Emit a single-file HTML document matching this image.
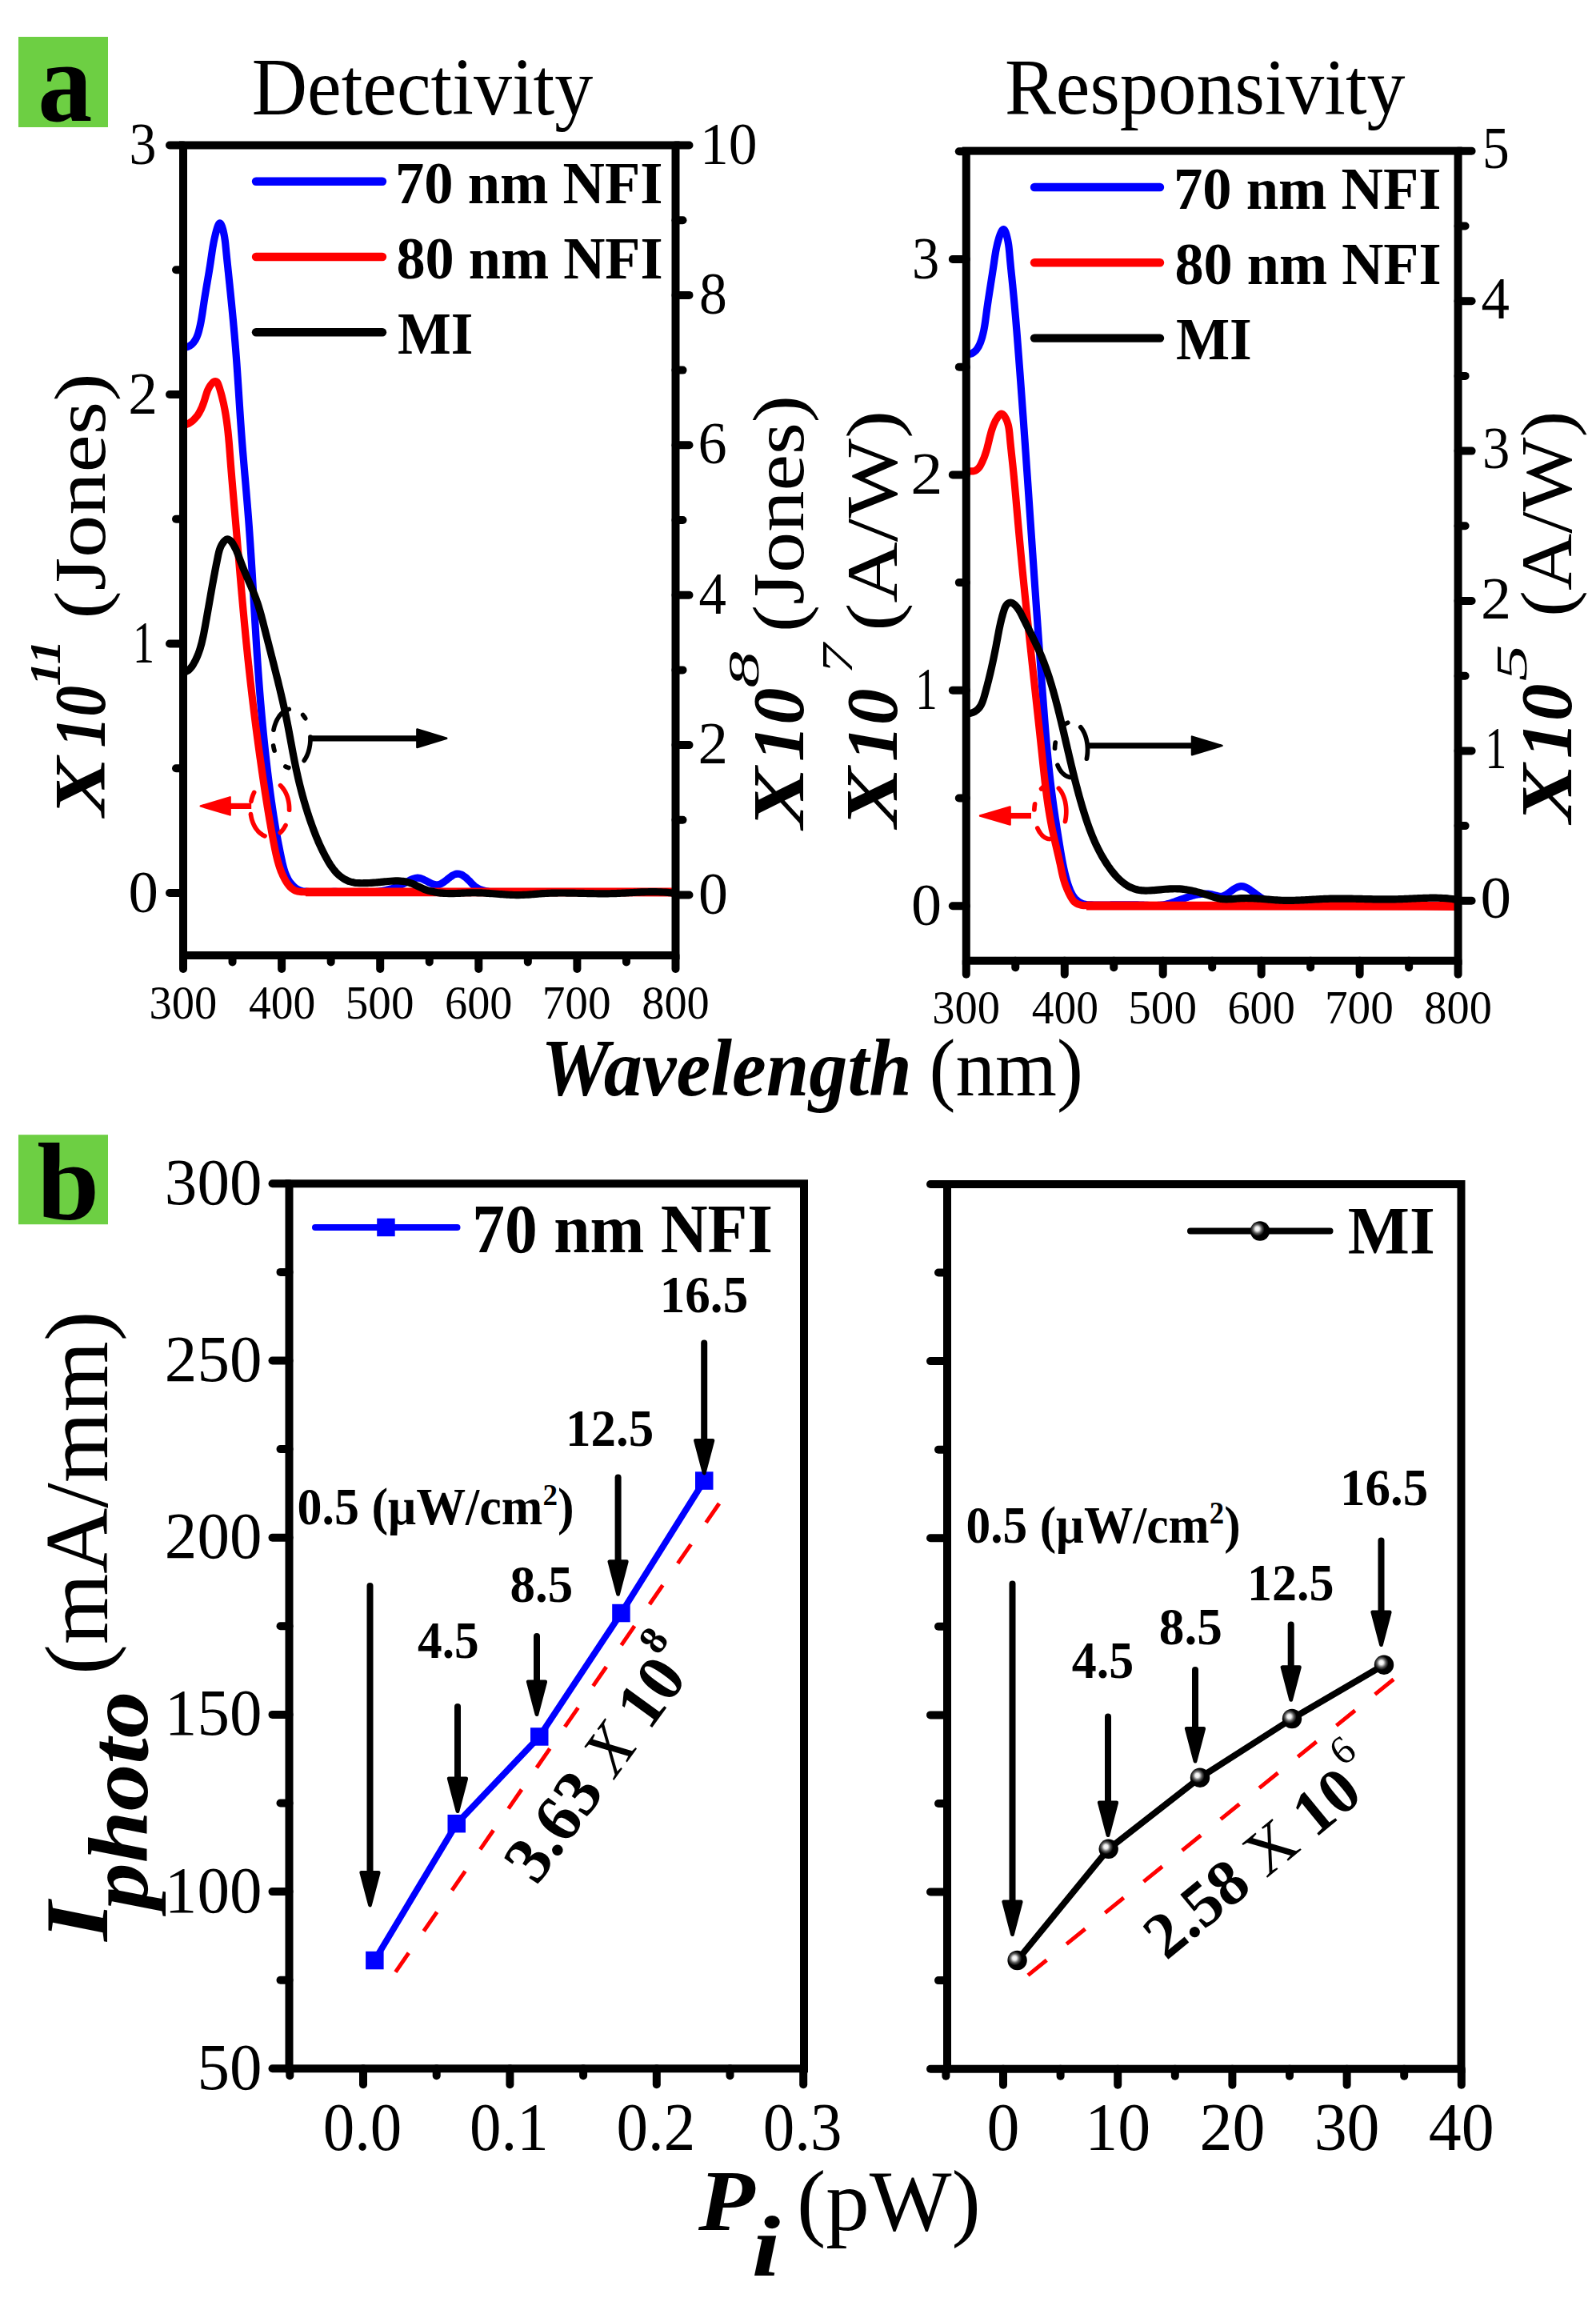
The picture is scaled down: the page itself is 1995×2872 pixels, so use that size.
<!DOCTYPE html>
<html lang="en"><head><meta charset="utf-8"><title>Detectivity and Responsivity</title>
<style>
html,body{margin:0;padding:0;background:#fff;}
body{width:1995px;height:2872px;overflow:hidden;font-family:"Liberation Serif","Times New Roman",serif;}
svg{display:block;}
</style></head><body>
<svg width="1995" height="2872" viewBox="0 0 1995 2872" font-family="'Liberation Serif', 'Times New Roman', serif">
<rect x="0" y="0" width="1995" height="2872" fill="#fff"/>
<defs>
<radialGradient id="ball" cx="0.37" cy="0.40" r="0.36" fx="0.36" fy="0.38">
<stop offset="0" stop-color="#ffffff"/><stop offset="0.3" stop-color="#ececec"/><stop offset="0.65" stop-color="#5a5a5a"/><stop offset="1" stop-color="#000000"/>
</radialGradient></defs>
<rect x="23" y="46" width="112" height="113" fill="#6dcf43"/>
<g transform="translate(51.40,150.80) rotate(0.00) scale(0.9463,1.0000) translate(-4.32,0)"><text x="0" y="0" fill="#000" xml:space="preserve"><tspan font-size="144.0" font-weight="bold">a</tspan></text></g>
<rect x="23" y="1418.2" width="112" height="112" fill="#6dcf43"/>
<g transform="translate(47.60,1524.00) rotate(0.00) scale(1.0159,1.0000) translate(-1.38,0)"><text x="0" y="0" fill="#000" xml:space="preserve"><tspan font-size="138.0" font-weight="bold">b</tspan></text></g>
<path d="M224.76 434.16 C225.36 434.21 227.24 434.42 228.39 434.42 C229.54 434.41 230.62 434.32 231.65 434.15 C232.68 433.97 233.64 433.72 234.55 433.39 C235.47 433.07 236.32 432.67 237.13 432.20 C237.93 431.74 238.68 431.21 239.39 430.63 C240.10 430.04 240.76 429.39 241.38 428.70 C242.01 428.01 242.58 427.26 243.12 426.48 C243.66 425.69 244.16 424.86 244.63 424.00 C245.10 423.13 245.53 422.23 245.94 421.31 C246.34 420.38 246.72 419.42 247.07 418.45 C247.42 417.48 247.74 416.48 248.04 415.48 C248.35 414.47 248.63 413.45 248.89 412.43 C249.16 411.40 249.41 410.37 249.64 409.35 C249.88 408.32 250.10 407.30 250.32 406.28 C250.53 405.27 250.73 404.26 250.93 403.25 C251.13 402.25 251.31 401.25 251.50 400.26 C251.68 399.27 251.85 398.28 252.02 397.29 C252.19 396.31 252.35 395.33 252.51 394.35 C252.66 393.37 252.82 392.39 252.97 391.42 C253.12 390.44 253.26 389.47 253.41 388.50 C253.56 387.52 253.70 386.55 253.84 385.58 C253.98 384.61 254.12 383.63 254.27 382.66 C254.41 381.68 254.55 380.71 254.70 379.73 C254.84 378.75 254.99 377.77 255.14 376.78 C255.29 375.80 255.45 374.81 255.60 373.82 C255.76 372.83 255.91 371.83 256.07 370.84 C256.23 369.84 256.40 368.84 256.56 367.84 C256.72 366.84 256.89 365.84 257.06 364.84 C257.22 363.84 257.39 362.83 257.56 361.83 C257.73 360.82 257.90 359.82 258.07 358.81 C258.24 357.80 258.41 356.80 258.58 355.79 C258.76 354.78 258.93 353.78 259.10 352.77 C259.27 351.77 259.44 350.76 259.61 349.76 C259.78 348.75 259.95 347.75 260.12 346.75 C260.29 345.75 260.46 344.75 260.63 343.75 C260.80 342.75 260.96 341.75 261.13 340.76 C261.29 339.77 261.46 338.77 261.62 337.79 C261.78 336.80 261.94 335.81 262.09 334.83 C262.25 333.85 262.40 332.87 262.56 331.89 C262.71 330.92 262.86 329.95 263.00 328.98 C263.15 328.01 263.29 327.05 263.43 326.09 C263.57 325.13 263.71 324.18 263.84 323.22 C263.98 322.27 264.12 321.32 264.25 320.37 C264.39 319.42 264.53 318.47 264.67 317.51 C264.81 316.56 264.95 315.61 265.09 314.65 C265.24 313.69 265.38 312.73 265.54 311.77 C265.69 310.80 265.85 309.83 266.01 308.85 C266.18 307.88 266.35 306.90 266.53 305.90 C266.71 304.91 266.89 303.91 267.09 302.90 C267.29 301.89 267.49 300.88 267.71 299.85 C267.93 298.82 268.15 297.77 268.40 296.72 C268.64 295.66 268.89 294.60 269.15 293.51 C269.42 292.43 269.70 291.33 270.00 290.22 C270.29 289.10 270.60 287.94 270.93 286.83 C271.25 285.72 271.60 284.54 271.95 283.54 C272.30 282.53 272.67 281.55 273.04 280.82 C273.41 280.10 273.79 279.48 274.18 279.20 C274.56 278.93 274.95 278.91 275.34 279.16 C275.72 279.40 276.11 279.97 276.49 280.67 C276.87 281.37 277.24 282.33 277.60 283.34 C277.95 284.35 278.30 285.56 278.62 286.74 C278.94 287.93 279.25 289.24 279.52 290.46 C279.80 291.68 280.05 292.92 280.27 294.08 C280.49 295.25 280.68 296.36 280.85 297.44 C281.02 298.53 281.17 299.56 281.31 300.59 C281.44 301.61 281.56 302.59 281.67 303.58 C281.78 304.56 281.88 305.51 281.97 306.47 C282.07 307.43 282.16 308.38 282.25 309.34 C282.35 310.30 282.44 311.25 282.54 312.22 C282.63 313.18 282.73 314.15 282.82 315.12 C282.92 316.09 283.02 317.07 283.12 318.05 C283.21 319.02 283.31 320.00 283.41 320.99 C283.52 321.97 283.62 322.96 283.72 323.94 C283.82 324.93 283.92 325.92 284.02 326.92 C284.13 327.91 284.23 328.90 284.33 329.90 C284.44 330.89 284.54 331.89 284.65 332.89 C284.75 333.89 284.86 334.89 284.96 335.89 C285.07 336.89 285.17 337.89 285.28 338.90 C285.38 339.90 285.49 340.90 285.59 341.90 C285.70 342.91 285.80 343.91 285.91 344.91 C286.01 345.92 286.11 346.92 286.22 347.92 C286.32 348.92 286.43 349.92 286.53 350.93 C286.64 351.93 286.74 352.93 286.84 353.93 C286.95 354.93 287.05 355.94 287.15 356.94 C287.26 357.94 287.36 358.94 287.46 359.94 C287.56 360.94 287.67 361.94 287.77 362.94 C287.87 363.94 287.97 364.94 288.08 365.94 C288.18 366.94 288.28 367.94 288.38 368.94 C288.48 369.94 288.58 370.94 288.68 371.94 C288.78 372.94 288.88 373.94 288.98 374.94 C289.08 375.94 289.18 376.94 289.28 377.94 C289.38 378.94 289.48 379.94 289.58 380.94 C289.68 381.94 289.77 382.93 289.87 383.93 C289.97 384.93 290.07 385.93 290.16 386.93 C290.26 387.93 290.36 388.93 290.45 389.93 C290.55 390.92 290.64 391.92 290.74 392.92 C290.84 393.92 290.93 394.92 291.02 395.92 C291.12 396.91 291.21 397.91 291.31 398.91 C291.40 399.91 291.49 400.91 291.59 401.90 C291.68 402.90 291.77 403.90 291.86 404.90 C291.95 405.90 292.04 406.89 292.14 407.89 C292.23 408.89 292.32 409.89 292.41 410.89 C292.50 411.88 292.58 412.88 292.67 413.88 C292.76 414.88 292.85 415.88 292.94 416.87 C293.02 417.87 293.11 418.87 293.20 419.87 C293.28 420.87 293.37 421.86 293.45 422.86 C293.54 423.86 293.62 424.86 293.71 425.86 C293.79 426.86 293.88 427.85 293.96 428.85 C294.04 429.85 294.12 430.85 294.20 431.85 C294.29 432.85 294.37 433.84 294.45 434.84 C294.53 435.84 294.61 436.84 294.69 437.84 C294.77 438.84 294.84 439.84 294.92 440.84 C295.00 441.83 295.08 442.83 295.15 443.83 C295.23 444.83 295.30 445.83 295.38 446.83 C295.45 447.83 295.53 448.83 295.60 449.83 C295.67 450.83 295.75 451.83 295.82 452.83 C295.89 453.83 295.96 454.83 296.04 455.83 C296.11 456.83 296.18 457.83 296.25 458.83 C296.32 459.83 296.39 460.83 296.46 461.83 C296.53 462.83 296.60 463.83 296.67 464.83 C296.73 465.83 296.80 466.83 296.87 467.83 C296.94 468.83 297.01 469.83 297.07 470.83 C297.14 471.83 297.21 472.83 297.27 473.83 C297.34 474.83 297.41 475.83 297.47 476.83 C297.54 477.83 297.60 478.83 297.67 479.83 C297.74 480.84 297.80 481.84 297.87 482.84 C297.93 483.84 298.00 484.84 298.06 485.84 C298.13 486.84 298.19 487.84 298.26 488.84 C298.32 489.84 298.38 490.84 298.45 491.85 C298.51 492.85 298.58 493.85 298.64 494.85 C298.71 495.85 298.77 496.85 298.84 497.85 C298.90 498.85 298.97 499.85 299.03 500.86 C299.09 501.86 299.16 502.86 299.22 503.86 C299.29 504.86 299.35 505.86 299.42 506.86 C299.48 507.86 299.55 508.87 299.61 509.87 C299.68 510.87 299.75 511.87 299.81 512.87 C299.88 513.87 299.94 514.87 300.01 515.87 C300.08 516.87 300.14 517.88 300.21 518.88 C300.28 519.88 300.34 520.88 300.41 521.88 C300.48 522.88 300.55 523.88 300.61 524.88 C300.68 525.88 300.75 526.88 300.82 527.89 C300.89 528.89 300.96 529.89 301.03 530.89 C301.10 531.89 301.17 532.89 301.24 533.89 C301.31 534.89 301.38 535.89 301.45 536.89 C301.53 537.89 301.60 538.89 301.67 539.89 C301.74 540.89 301.82 541.90 301.89 542.90 C301.97 543.90 302.04 544.90 302.12 545.90 C302.19 546.90 302.27 547.90 302.34 548.90 C302.42 549.90 302.50 550.90 302.58 551.90 C302.65 552.90 302.73 553.90 302.81 554.90 C302.89 555.90 302.97 556.90 303.05 557.90 C303.13 558.90 303.21 559.90 303.29 560.90 C303.37 561.90 303.45 562.90 303.53 563.90 C303.61 564.90 303.70 565.90 303.78 566.90 C303.86 567.90 303.94 568.90 304.03 569.89 C304.11 570.89 304.19 571.89 304.28 572.89 C304.36 573.89 304.44 574.89 304.53 575.89 C304.61 576.89 304.70 577.89 304.78 578.89 C304.87 579.89 304.95 580.89 305.04 581.89 C305.12 582.89 305.21 583.89 305.29 584.89 C305.38 585.89 305.46 586.88 305.55 587.88 C305.63 588.88 305.72 589.88 305.80 590.88 C305.89 591.88 305.98 592.88 306.06 593.88 C306.15 594.88 306.23 595.88 306.32 596.88 C306.41 597.88 306.49 598.87 306.58 599.87 C306.67 600.87 306.75 601.87 306.84 602.87 C306.92 603.87 307.01 604.87 307.10 605.87 C307.18 606.87 307.27 607.87 307.35 608.87 C307.44 609.87 307.52 610.86 307.61 611.86 C307.69 612.86 307.78 613.86 307.87 614.86 C307.95 615.86 308.04 616.86 308.12 617.86 C308.20 618.86 308.29 619.86 308.37 620.86 C308.46 621.86 308.54 622.86 308.62 623.85 C308.71 624.85 308.79 625.85 308.87 626.85 C308.96 627.85 309.04 628.85 309.12 629.85 C309.21 630.85 309.29 631.85 309.37 632.85 C309.45 633.85 309.53 634.85 309.61 635.85 C309.69 636.85 309.77 637.85 309.85 638.84 C309.93 639.84 310.01 640.84 310.09 641.84 C310.17 642.84 310.25 643.84 310.33 644.84 C310.40 645.84 310.48 646.84 310.56 647.84 C310.64 648.84 310.71 649.84 310.79 650.84 C310.86 651.84 310.94 652.84 311.01 653.84 C311.09 654.84 311.16 655.84 311.24 656.84 C311.31 657.84 311.38 658.84 311.46 659.84 C311.53 660.84 311.60 661.84 311.67 662.84 C311.75 663.84 311.82 664.84 311.89 665.84 C311.96 666.84 312.03 667.84 312.10 668.84 C312.17 669.84 312.24 670.84 312.31 671.84 C312.38 672.84 312.45 673.84 312.52 674.84 C312.59 675.84 312.66 676.84 312.73 677.84 C312.79 678.84 312.86 679.84 312.93 680.85 C313.00 681.85 313.06 682.85 313.13 683.85 C313.20 684.85 313.26 685.85 313.33 686.85 C313.39 687.85 313.46 688.85 313.53 689.85 C313.59 690.85 313.66 691.85 313.72 692.85 C313.79 693.85 313.85 694.85 313.91 695.85 C313.98 696.85 314.04 697.86 314.11 698.86 C314.17 699.86 314.23 700.86 314.30 701.86 C314.36 702.86 314.42 703.86 314.48 704.86 C314.55 705.86 314.61 706.86 314.67 707.86 C314.73 708.86 314.80 709.86 314.86 710.87 C314.92 711.87 314.98 712.87 315.04 713.87 C315.10 714.87 315.17 715.87 315.23 716.87 C315.29 717.87 315.35 718.87 315.41 719.87 C315.47 720.87 315.53 721.88 315.59 722.88 C315.65 723.88 315.71 724.88 315.77 725.88 C315.83 726.88 315.89 727.88 315.95 728.88 C316.01 729.88 316.07 730.89 316.13 731.89 C316.19 732.89 316.25 733.89 316.31 734.89 C316.37 735.89 316.43 736.89 316.49 737.89 C316.55 738.89 316.61 739.90 316.66 740.90 C316.72 741.90 316.78 742.90 316.84 743.90 C316.90 744.90 316.96 745.90 317.02 746.90 C317.08 747.90 317.14 748.91 317.20 749.91 C317.25 750.91 317.31 751.91 317.37 752.91 C317.43 753.91 317.49 754.91 317.55 755.91 C317.61 756.91 317.67 757.92 317.73 758.92 C317.78 759.92 317.84 760.92 317.90 761.92 C317.96 762.92 318.02 763.92 318.08 764.92 C318.14 765.93 318.20 766.93 318.26 767.93 C318.32 768.93 318.38 769.93 318.43 770.93 C318.49 771.93 318.55 772.93 318.61 773.93 C318.67 774.94 318.73 775.94 318.79 776.94 C318.85 777.94 318.91 778.94 318.97 779.94 C319.03 780.94 319.09 781.94 319.15 782.95 C319.21 783.95 319.27 784.95 319.33 785.95 C319.39 786.95 319.45 787.95 319.52 788.95 C319.58 789.95 319.64 790.95 319.70 791.96 C319.76 792.96 319.82 793.96 319.88 794.96 C319.95 795.96 320.01 796.96 320.07 797.96 C320.13 798.96 320.19 799.96 320.26 800.97 C320.32 801.97 320.38 802.97 320.44 803.97 C320.51 804.97 320.57 805.97 320.63 806.97 C320.70 807.97 320.76 808.97 320.83 809.97 C320.89 810.98 320.95 811.98 321.02 812.98 C321.08 813.98 321.15 814.98 321.21 815.98 C321.28 816.98 321.34 817.98 321.41 818.98 C321.48 819.98 321.54 820.98 321.61 821.99 C321.67 822.99 321.74 823.99 321.81 824.99 C321.88 825.99 321.94 826.99 322.01 827.99 C322.08 828.99 322.15 829.99 322.22 830.99 C322.28 831.99 322.35 832.99 322.42 833.99 C322.49 835.00 322.56 836.00 322.63 837.00 C322.70 838.00 322.77 839.00 322.84 840.00 C322.91 841.00 322.99 842.00 323.06 843.00 C323.13 844.00 323.20 845.00 323.27 846.00 C323.35 847.00 323.42 848.00 323.49 849.00 C323.57 850.00 323.64 851.00 323.72 852.00 C323.79 853.00 323.87 854.00 323.94 855.00 C324.02 856.01 324.09 857.01 324.17 858.01 C324.25 859.01 324.32 860.01 324.40 861.01 C324.48 862.01 324.56 863.01 324.63 864.01 C324.71 865.01 324.79 866.01 324.87 867.01 C324.95 868.01 325.03 869.01 325.11 870.01 C325.19 871.01 325.27 872.01 325.36 873.01 C325.44 874.01 325.52 875.01 325.60 876.01 C325.69 877.01 325.77 878.01 325.85 879.01 C325.94 880.01 326.02 881.01 326.11 882.00 C326.19 883.00 326.28 884.00 326.36 885.00 C326.45 886.00 326.54 887.00 326.62 888.00 C326.71 889.00 326.80 890.00 326.89 891.00 C326.98 892.00 327.07 893.00 327.15 894.00 C327.24 895.00 327.33 896.00 327.43 896.99 C327.52 897.99 327.61 898.99 327.70 899.99 C327.79 900.99 327.88 901.99 327.98 902.99 C328.07 903.99 328.16 904.99 328.26 905.98 C328.35 906.98 328.45 907.98 328.54 908.98 C328.64 909.98 328.73 910.98 328.83 911.98 C328.93 912.97 329.02 913.97 329.12 914.97 C329.22 915.97 329.32 916.97 329.42 917.96 C329.52 918.96 329.62 919.96 329.72 920.96 C329.82 921.96 329.92 922.95 330.02 923.95 C330.12 924.95 330.22 925.95 330.33 926.94 C330.43 927.94 330.53 928.94 330.64 929.94 C330.74 930.93 330.85 931.93 330.95 932.93 C331.06 933.92 331.16 934.92 331.27 935.92 C331.38 936.91 331.48 937.91 331.59 938.91 C331.70 939.90 331.81 940.90 331.92 941.90 C332.03 942.89 332.14 943.89 332.25 944.89 C332.36 945.88 332.47 946.88 332.58 947.87 C332.70 948.87 332.81 949.87 332.92 950.86 C333.03 951.86 333.15 952.85 333.26 953.85 C333.38 954.84 333.49 955.84 333.61 956.84 C333.73 957.83 333.84 958.83 333.96 959.82 C334.08 960.82 334.20 961.81 334.31 962.81 C334.43 963.80 334.55 964.79 334.67 965.79 C334.79 966.78 334.91 967.78 335.04 968.77 C335.16 969.77 335.28 970.76 335.40 971.75 C335.53 972.75 335.65 973.74 335.77 974.74 C335.90 975.73 336.02 976.72 336.15 977.72 C336.28 978.71 336.40 979.70 336.53 980.70 C336.66 981.69 336.79 982.68 336.92 983.68 C337.05 984.67 337.18 985.66 337.31 986.66 C337.44 987.65 337.57 988.64 337.70 989.63 C337.84 990.63 337.97 991.62 338.11 992.61 C338.24 993.60 338.38 994.59 338.51 995.59 C338.65 996.58 338.79 997.57 338.93 998.56 C339.07 999.55 339.21 1000.55 339.35 1001.54 C339.49 1002.53 339.63 1003.52 339.77 1004.51 C339.92 1005.50 340.06 1006.50 340.21 1007.49 C340.35 1008.48 340.50 1009.47 340.65 1010.46 C340.79 1011.45 340.94 1012.44 341.09 1013.43 C341.24 1014.43 341.39 1015.42 341.55 1016.41 C341.70 1017.40 341.85 1018.39 342.01 1019.38 C342.16 1020.37 342.32 1021.36 342.48 1022.35 C342.63 1023.34 342.79 1024.33 342.95 1025.32 C343.11 1026.31 343.27 1027.30 343.44 1028.29 C343.60 1029.28 343.76 1030.27 343.93 1031.26 C344.09 1032.25 344.26 1033.24 344.43 1034.23 C344.60 1035.22 344.77 1036.21 344.94 1037.20 C345.11 1038.19 345.28 1039.18 345.46 1040.17 C345.63 1041.16 345.81 1042.15 345.98 1043.14 C346.16 1044.13 346.34 1045.12 346.52 1046.11 C346.70 1047.10 346.88 1048.09 347.06 1049.08 C347.25 1050.07 347.43 1051.06 347.62 1052.05 C347.80 1053.04 347.99 1054.03 348.18 1055.02 C348.37 1056.01 348.56 1057.00 348.76 1057.99 C348.95 1058.98 349.14 1059.97 349.34 1060.95 C349.54 1061.94 349.74 1062.93 349.94 1063.92 C350.14 1064.91 350.34 1065.90 350.54 1066.89 C350.74 1067.88 350.95 1068.87 351.16 1069.86 C351.36 1070.85 351.57 1071.84 351.78 1072.83 C351.99 1073.82 352.20 1074.81 352.42 1075.79 C352.64 1076.78 352.85 1077.77 353.08 1078.75 C353.31 1079.74 353.54 1080.72 353.78 1081.70 C354.03 1082.67 354.28 1083.65 354.55 1084.61 C354.81 1085.58 355.09 1086.54 355.39 1087.49 C355.68 1088.44 355.99 1089.39 356.32 1090.32 C356.66 1091.25 357.00 1092.18 357.38 1093.09 C357.75 1094.00 358.14 1094.90 358.57 1095.79 C358.99 1096.67 359.43 1097.55 359.91 1098.41 C360.38 1099.26 360.88 1100.11 361.42 1100.93 C361.96 1101.76 362.52 1102.57 363.12 1103.36 C363.73 1104.15 364.36 1104.92 365.04 1105.67 C365.71 1106.42 366.42 1107.16 367.17 1107.86 C367.93 1108.56 368.72 1109.25 369.54 1109.88 C370.37 1110.50 371.23 1111.09 372.12 1111.59 C373.01 1112.08 373.93 1112.52 374.87 1112.86 C375.81 1113.21 376.79 1113.46 377.77 1113.67 C378.75 1113.88 379.75 1114.01 380.76 1114.12 C381.76 1114.24 382.78 1114.30 383.79 1114.37 C384.79 1114.44 385.81 1114.49 386.81 1114.53 C387.82 1114.57 388.83 1114.61 389.83 1114.63 C390.83 1114.66 391.84 1114.68 392.84 1114.69 C393.84 1114.71 394.84 1114.71 395.84 1114.71 C396.83 1114.72 397.83 1114.71 398.83 1114.70 C399.83 1114.70 400.82 1114.69 401.82 1114.67 C402.81 1114.66 403.81 1114.64 404.81 1114.63 C405.80 1114.61 406.80 1114.59 407.79 1114.58 C408.79 1114.56 409.79 1114.54 410.78 1114.52 C411.78 1114.51 412.78 1114.49 413.77 1114.48 C414.77 1114.47 415.77 1114.46 416.77 1114.46 C417.77 1114.45 418.77 1114.45 419.78 1114.45 C420.78 1114.46 421.78 1114.47 422.79 1114.48 C423.80 1114.50 424.80 1114.51 425.81 1114.54 C426.82 1114.56 427.83 1114.58 428.84 1114.61 C429.85 1114.64 430.86 1114.67 431.87 1114.70 C432.88 1114.73 433.89 1114.76 434.90 1114.80 C435.92 1114.83 436.93 1114.86 437.94 1114.89 C438.95 1114.93 439.97 1114.96 440.98 1114.99 C441.99 1115.02 443.00 1115.04 444.01 1115.07 C445.02 1115.09 446.04 1115.12 447.05 1115.13 C448.06 1115.15 449.07 1115.17 450.08 1115.18 C451.08 1115.19 452.09 1115.19 453.10 1115.19 C454.11 1115.19 455.11 1115.18 456.12 1115.17 C457.12 1115.15 458.12 1115.13 459.12 1115.10 C460.13 1115.07 461.13 1115.04 462.12 1114.99 C463.12 1114.94 464.12 1114.89 465.11 1114.82 C466.10 1114.76 467.09 1114.68 468.08 1114.59 C469.07 1114.51 470.06 1114.41 471.04 1114.30 C472.03 1114.19 473.01 1114.07 473.99 1113.93 C474.97 1113.80 475.94 1113.65 476.92 1113.49 C477.89 1113.33 478.86 1113.16 479.83 1112.97 C480.80 1112.78 481.77 1112.58 482.73 1112.36 C483.70 1112.14 484.66 1111.91 485.62 1111.67 C486.58 1111.42 487.54 1111.16 488.49 1110.88 C489.45 1110.60 490.40 1110.31 491.35 1110.00 C492.30 1109.69 493.24 1109.36 494.19 1109.02 C495.14 1108.67 496.08 1108.31 497.02 1107.93 C497.96 1107.55 498.90 1107.15 499.83 1106.74 C500.77 1106.32 501.70 1105.89 502.64 1105.43 C503.57 1104.98 504.50 1104.51 505.42 1104.01 C506.35 1103.52 507.27 1103.00 508.20 1102.48 C509.12 1101.96 510.04 1101.41 510.96 1100.90 C511.89 1100.39 512.81 1099.88 513.73 1099.43 C514.65 1098.98 515.57 1098.55 516.50 1098.21 C517.43 1097.87 518.36 1097.58 519.29 1097.40 C520.22 1097.22 521.16 1097.12 522.10 1097.14 C523.04 1097.16 523.99 1097.31 524.94 1097.53 C525.89 1097.76 526.85 1098.10 527.80 1098.47 C528.76 1098.85 529.72 1099.31 530.68 1099.78 C531.64 1100.25 532.60 1100.78 533.56 1101.29 C534.52 1101.80 535.48 1102.34 536.43 1102.82 C537.39 1103.31 538.34 1103.80 539.29 1104.20 C540.23 1104.61 541.18 1104.99 542.11 1105.27 C543.05 1105.54 543.98 1105.75 544.90 1105.83 C545.83 1105.91 546.74 1105.88 547.65 1105.73 C548.55 1105.58 549.45 1105.28 550.34 1104.92 C551.23 1104.56 552.11 1104.07 552.99 1103.55 C553.87 1103.02 554.74 1102.40 555.61 1101.78 C556.48 1101.15 557.35 1100.45 558.21 1099.77 C559.08 1099.10 559.94 1098.38 560.80 1097.71 C561.66 1097.04 562.52 1096.35 563.38 1095.74 C564.24 1095.13 565.11 1094.54 565.97 1094.04 C566.84 1093.55 567.71 1093.10 568.58 1092.78 C569.45 1092.46 570.33 1092.21 571.21 1092.11 C572.09 1092.02 572.99 1092.05 573.88 1092.20 C574.77 1092.36 575.67 1092.67 576.56 1093.05 C577.45 1093.44 578.34 1093.95 579.21 1094.51 C580.08 1095.06 580.95 1095.72 581.78 1096.40 C582.62 1097.07 583.44 1097.82 584.23 1098.56 C585.02 1099.30 585.78 1100.08 586.53 1100.84 C587.27 1101.60 587.99 1102.38 588.72 1103.14 C589.45 1103.89 590.16 1104.64 590.89 1105.35 C591.62 1106.07 592.34 1106.76 593.10 1107.40 C593.87 1108.04 594.64 1108.65 595.45 1109.19 C596.26 1109.73 597.11 1110.22 597.99 1110.65 C598.86 1111.08 599.77 1111.46 600.69 1111.80 C601.62 1112.14 602.57 1112.42 603.53 1112.69 C604.48 1112.96 605.46 1113.18 606.43 1113.39 C607.41 1113.61 608.39 1113.79 609.38 1113.97 C610.36 1114.14 611.35 1114.29 612.33 1114.43 C613.32 1114.57 614.31 1114.69 615.30 1114.80 C616.29 1114.91 617.29 1115.00 618.28 1115.08 C619.28 1115.16 620.27 1115.23 621.27 1115.28 C622.27 1115.34 623.27 1115.38 624.27 1115.42 C625.27 1115.45 626.27 1115.47 627.28 1115.49 C628.28 1115.50 629.29 1115.51 630.29 1115.50 C631.30 1115.50 632.30 1115.49 633.31 1115.48 C634.32 1115.46 635.32 1115.44 636.33 1115.42 C637.34 1115.39 638.35 1115.36 639.36 1115.33 C640.37 1115.30 641.38 1115.26 642.39 1115.22 C643.40 1115.19 644.40 1115.15 645.41 1115.11 C646.42 1115.07 647.43 1115.03 648.44 1114.99 C649.45 1114.95 650.46 1114.92 651.47 1114.88 C652.47 1114.85 653.48 1114.82 654.49 1114.80 C655.50 1114.77 656.50 1114.75 657.51 1114.73 C658.51 1114.71 659.52 1114.70 660.52 1114.70 C661.52 1114.69 662.53 1114.69 663.53 1114.69 C664.53 1114.69 665.53 1114.70 666.53 1114.71 C667.54 1114.71 668.54 1114.73 669.54 1114.74 C670.54 1114.75 671.54 1114.77 672.54 1114.78 C673.54 1114.80 674.54 1114.82 675.54 1114.84 C676.54 1114.86 677.54 1114.88 678.54 1114.89 C679.54 1114.91 680.54 1114.93 681.54 1114.95 C682.54 1114.97 683.54 1114.98 684.54 1115.00 C685.54 1115.01 686.54 1115.03 687.54 1115.04 C688.54 1115.05 689.54 1115.06 690.54 1115.07 C691.54 1115.08 692.54 1115.09 693.55 1115.09 C694.55 1115.10 695.55 1115.11 696.55 1115.11 C697.55 1115.12 698.56 1115.12 699.56 1115.12 C700.56 1115.12 701.56 1115.13 702.57 1115.13 C703.57 1115.13 704.57 1115.13 705.58 1115.13 C706.58 1115.13 707.58 1115.12 708.59 1115.12 C709.59 1115.12 710.59 1115.12 711.60 1115.11 C712.60 1115.11 713.60 1115.11 714.61 1115.10 C715.61 1115.10 716.61 1115.09 717.62 1115.09 C718.62 1115.08 719.63 1115.08 720.63 1115.07 C721.63 1115.07 722.64 1115.06 723.64 1115.06 C724.64 1115.05 725.65 1115.04 726.65 1115.04 C727.66 1115.03 728.66 1115.03 729.66 1115.02 C730.67 1115.02 731.67 1115.01 732.68 1115.00 C733.68 1115.00 734.68 1114.99 735.69 1114.99 C736.69 1114.98 737.69 1114.98 738.70 1114.98 C739.70 1114.97 740.71 1114.97 741.71 1114.97 C742.71 1114.96 743.72 1114.96 744.72 1114.96 C745.72 1114.95 746.73 1114.95 747.73 1114.95 C748.73 1114.95 749.74 1114.95 750.74 1114.95 C751.74 1114.94 752.74 1114.94 753.75 1114.94 C754.75 1114.94 755.75 1114.94 756.76 1114.94 C757.76 1114.94 758.76 1114.94 759.77 1114.94 C760.77 1114.94 761.77 1114.94 762.77 1114.94 C763.78 1114.94 764.78 1114.95 765.78 1114.95 C766.78 1114.95 767.79 1114.95 768.79 1114.95 C769.79 1114.95 770.80 1114.95 771.80 1114.96 C772.80 1114.96 773.80 1114.96 774.81 1114.96 C775.81 1114.96 776.81 1114.96 777.81 1114.97 C778.82 1114.97 779.82 1114.97 780.82 1114.97 C781.82 1114.98 782.83 1114.98 783.83 1114.98 C784.83 1114.98 785.83 1114.99 786.84 1114.99 C787.84 1114.99 788.84 1114.99 789.84 1115.00 C790.85 1115.00 791.85 1115.00 792.85 1115.00 C793.85 1115.01 794.86 1115.01 795.86 1115.01 C796.86 1115.01 797.86 1115.01 798.87 1115.02 C799.87 1115.02 800.87 1115.02 801.87 1115.02 C802.88 1115.02 803.88 1115.03 804.88 1115.03 C805.88 1115.03 806.89 1115.03 807.89 1115.03 C808.89 1115.03 809.89 1115.04 810.90 1115.04 C811.90 1115.04 812.90 1115.04 813.91 1115.04 C814.91 1115.04 815.91 1115.04 816.91 1115.04 C817.92 1115.04 818.92 1115.04 819.92 1115.04 C820.93 1115.04 821.93 1115.04 822.93 1115.04 C823.93 1115.04 824.94 1115.04 825.94 1115.04 C826.94 1115.04 827.95 1115.04 828.95 1115.04 C829.95 1115.03 830.96 1115.03 831.96 1115.03 C832.96 1115.03 833.97 1115.02 834.97 1115.02 C835.97 1115.02 836.98 1115.01 837.98 1115.01 C838.98 1115.01 839.99 1115.00 840.99 1115.00 C842.00 1114.99 843.50 1114.99 844.00 1114.98" fill="none" stroke="#0000ff" stroke-width="9.20" stroke-linecap="butt" stroke-linejoin="round"/>
<path d="M224.98 530.98 C225.51 531.02 227.10 531.26 228.13 531.25 C229.16 531.24 230.17 531.10 231.16 530.90 C232.14 530.69 233.10 530.38 234.03 530.01 C234.96 529.64 235.87 529.17 236.75 528.67 C237.62 528.17 238.47 527.59 239.28 526.99 C240.09 526.38 240.87 525.72 241.62 525.04 C242.36 524.37 243.07 523.66 243.74 522.93 C244.42 522.20 245.06 521.45 245.67 520.67 C246.28 519.90 246.86 519.10 247.42 518.29 C247.97 517.48 248.49 516.64 249.00 515.79 C249.50 514.94 249.97 514.08 250.43 513.19 C250.88 512.31 251.31 511.41 251.72 510.50 C252.14 509.59 252.53 508.66 252.91 507.73 C253.29 506.79 253.65 505.84 253.99 504.88 C254.34 503.93 254.68 502.96 255.00 501.98 C255.33 501.01 255.64 500.03 255.95 499.04 C256.26 498.05 256.55 497.06 256.85 496.06 C257.15 495.07 257.44 494.07 257.76 493.07 C258.07 492.08 258.39 491.09 258.75 490.10 C259.10 489.12 259.47 488.15 259.90 487.19 C260.32 486.23 260.77 485.28 261.28 484.36 C261.80 483.44 262.36 482.52 262.99 481.65 C263.61 480.78 264.33 479.88 265.04 479.15 C265.75 478.42 266.53 477.70 267.24 477.26 C267.95 476.82 268.67 476.50 269.29 476.50 C269.91 476.49 270.47 476.79 270.97 477.23 C271.47 477.68 271.89 478.42 272.30 479.20 C272.70 479.98 273.05 480.96 273.39 481.92 C273.74 482.87 274.05 483.93 274.37 484.94 C274.68 485.94 274.99 486.96 275.29 487.97 C275.58 488.98 275.87 489.99 276.16 491.00 C276.44 492.01 276.71 493.02 276.98 494.02 C277.25 495.03 277.51 496.04 277.76 497.05 C278.01 498.05 278.25 499.06 278.49 500.06 C278.73 501.07 278.96 502.07 279.19 503.08 C279.41 504.08 279.63 505.08 279.84 506.09 C280.05 507.09 280.26 508.09 280.46 509.09 C280.65 510.09 280.85 511.10 281.04 512.10 C281.22 513.10 281.40 514.10 281.58 515.10 C281.76 516.10 281.93 517.10 282.09 518.10 C282.26 519.09 282.42 520.09 282.57 521.09 C282.73 522.09 282.88 523.09 283.03 524.08 C283.17 525.08 283.32 526.08 283.45 527.08 C283.59 528.07 283.72 529.07 283.85 530.07 C283.98 531.06 284.11 532.06 284.23 533.05 C284.35 534.05 284.47 535.05 284.58 536.04 C284.70 537.04 284.81 538.03 284.92 539.03 C285.02 540.02 285.13 541.02 285.23 542.01 C285.33 543.01 285.43 544.00 285.53 545.00 C285.63 545.99 285.72 546.99 285.81 547.98 C285.90 548.97 285.99 549.97 286.08 550.96 C286.17 551.96 286.26 552.95 286.34 553.95 C286.42 554.94 286.51 555.94 286.59 556.93 C286.67 557.93 286.75 558.92 286.83 559.91 C286.91 560.91 286.99 561.90 287.06 562.90 C287.14 563.89 287.22 564.89 287.29 565.88 C287.37 566.88 287.45 567.87 287.52 568.87 C287.60 569.87 287.67 570.86 287.75 571.86 C287.83 572.85 287.90 573.85 287.98 574.85 C288.05 575.84 288.13 576.84 288.21 577.84 C288.29 578.83 288.36 579.83 288.44 580.83 C288.52 581.82 288.60 582.82 288.68 583.82 C288.76 584.82 288.84 585.82 288.92 586.82 C289.00 587.81 289.08 588.81 289.16 589.81 C289.24 590.81 289.32 591.81 289.41 592.81 C289.49 593.81 289.57 594.81 289.65 595.81 C289.74 596.81 289.82 597.81 289.90 598.81 C289.99 599.81 290.07 600.81 290.16 601.81 C290.24 602.81 290.32 603.81 290.41 604.81 C290.49 605.81 290.58 606.81 290.66 607.81 C290.75 608.81 290.83 609.81 290.92 610.82 C291.01 611.82 291.09 612.82 291.18 613.82 C291.26 614.82 291.35 615.82 291.44 616.82 C291.52 617.83 291.61 618.83 291.70 619.83 C291.78 620.83 291.87 621.83 291.96 622.84 C292.05 623.84 292.13 624.84 292.22 625.84 C292.31 626.84 292.39 627.85 292.48 628.85 C292.57 629.85 292.66 630.85 292.74 631.85 C292.83 632.86 292.92 633.86 293.00 634.86 C293.09 635.86 293.18 636.87 293.27 637.87 C293.35 638.87 293.44 639.87 293.53 640.87 C293.61 641.88 293.70 642.88 293.79 643.88 C293.87 644.88 293.96 645.88 294.05 646.89 C294.13 647.89 294.22 648.89 294.30 649.89 C294.39 650.89 294.48 651.90 294.56 652.90 C294.65 653.90 294.73 654.90 294.82 655.90 C294.91 656.91 294.99 657.91 295.08 658.91 C295.16 659.91 295.25 660.91 295.33 661.91 C295.42 662.92 295.50 663.92 295.59 664.92 C295.67 665.92 295.76 666.92 295.85 667.92 C295.93 668.92 296.02 669.93 296.10 670.93 C296.19 671.93 296.27 672.93 296.36 673.93 C296.44 674.93 296.52 675.93 296.61 676.94 C296.69 677.94 296.78 678.94 296.86 679.94 C296.95 680.94 297.03 681.94 297.12 682.94 C297.20 683.94 297.29 684.94 297.37 685.95 C297.46 686.95 297.54 687.95 297.63 688.95 C297.71 689.95 297.80 690.95 297.88 691.95 C297.97 692.95 298.05 693.95 298.14 694.95 C298.22 695.95 298.30 696.95 298.39 697.96 C298.47 698.96 298.56 699.96 298.64 700.96 C298.73 701.96 298.81 702.96 298.90 703.96 C298.98 704.96 299.07 705.96 299.15 706.96 C299.24 707.96 299.33 708.96 299.41 709.96 C299.50 710.96 299.58 711.96 299.67 712.96 C299.75 713.96 299.84 714.96 299.92 715.96 C300.01 716.96 300.09 717.96 300.18 718.97 C300.27 719.97 300.35 720.97 300.44 721.97 C300.52 722.97 300.61 723.97 300.70 724.97 C300.78 725.97 300.87 726.97 300.96 727.97 C301.04 728.97 301.13 729.97 301.22 730.97 C301.30 731.97 301.39 732.97 301.48 733.97 C301.56 734.97 301.65 735.97 301.74 736.97 C301.83 737.97 301.91 738.97 302.00 739.97 C302.09 740.97 302.18 741.96 302.27 742.96 C302.35 743.96 302.44 744.96 302.53 745.96 C302.62 746.96 302.71 747.96 302.80 748.96 C302.89 749.96 302.97 750.96 303.06 751.96 C303.15 752.96 303.24 753.96 303.33 754.96 C303.42 755.96 303.51 756.96 303.60 757.96 C303.69 758.96 303.78 759.96 303.87 760.96 C303.96 761.96 304.05 762.96 304.15 763.95 C304.24 764.95 304.33 765.95 304.42 766.95 C304.51 767.95 304.60 768.95 304.70 769.95 C304.79 770.95 304.88 771.95 304.97 772.95 C305.07 773.95 305.16 774.95 305.25 775.95 C305.35 776.94 305.44 777.94 305.53 778.94 C305.63 779.94 305.72 780.94 305.82 781.94 C305.91 782.94 306.00 783.94 306.10 784.94 C306.19 785.94 306.29 786.93 306.39 787.93 C306.48 788.93 306.58 789.93 306.67 790.93 C306.77 791.93 306.87 792.93 306.96 793.93 C307.06 794.93 307.16 795.92 307.26 796.92 C307.35 797.92 307.45 798.92 307.55 799.92 C307.65 800.92 307.75 801.92 307.85 802.92 C307.95 803.91 308.05 804.91 308.15 805.91 C308.25 806.91 308.35 807.91 308.45 808.91 C308.55 809.91 308.65 810.90 308.75 811.90 C308.85 812.90 308.95 813.90 309.06 814.90 C309.16 815.90 309.26 816.90 309.36 817.89 C309.47 818.89 309.57 819.89 309.67 820.89 C309.78 821.89 309.88 822.89 309.99 823.89 C310.09 824.88 310.20 825.88 310.30 826.88 C310.41 827.88 310.52 828.88 310.62 829.88 C310.73 830.87 310.84 831.87 310.94 832.87 C311.05 833.87 311.16 834.87 311.27 835.86 C311.38 836.86 311.48 837.86 311.59 838.86 C311.70 839.86 311.81 840.86 311.92 841.85 C312.03 842.85 312.14 843.85 312.25 844.85 C312.36 845.85 312.47 846.84 312.59 847.84 C312.70 848.84 312.81 849.84 312.92 850.84 C313.04 851.83 313.15 852.83 313.26 853.83 C313.38 854.83 313.49 855.83 313.60 856.82 C313.72 857.82 313.83 858.82 313.95 859.82 C314.06 860.81 314.18 861.81 314.29 862.81 C314.41 863.81 314.53 864.80 314.64 865.80 C314.76 866.80 314.88 867.80 314.99 868.79 C315.11 869.79 315.23 870.79 315.35 871.79 C315.47 872.78 315.59 873.78 315.70 874.78 C315.82 875.78 315.94 876.77 316.06 877.77 C316.18 878.77 316.30 879.76 316.43 880.76 C316.55 881.76 316.67 882.76 316.79 883.75 C316.91 884.75 317.03 885.75 317.16 886.74 C317.28 887.74 317.40 888.74 317.53 889.73 C317.65 890.73 317.77 891.73 317.90 892.72 C318.02 893.72 318.15 894.72 318.27 895.71 C318.40 896.71 318.52 897.71 318.65 898.70 C318.77 899.70 318.90 900.70 319.03 901.69 C319.15 902.69 319.28 903.69 319.41 904.68 C319.54 905.68 319.66 906.67 319.79 907.67 C319.92 908.67 320.05 909.66 320.18 910.66 C320.31 911.65 320.44 912.65 320.57 913.65 C320.70 914.64 320.83 915.64 320.96 916.63 C321.09 917.63 321.22 918.63 321.35 919.62 C321.48 920.62 321.62 921.61 321.75 922.61 C321.88 923.60 322.01 924.60 322.15 925.59 C322.28 926.59 322.42 927.58 322.55 928.58 C322.68 929.58 322.82 930.57 322.95 931.57 C323.09 932.56 323.22 933.56 323.36 934.55 C323.49 935.55 323.63 936.54 323.77 937.53 C323.90 938.53 324.04 939.52 324.18 940.52 C324.32 941.51 324.45 942.51 324.59 943.50 C324.73 944.50 324.87 945.49 325.01 946.49 C325.15 947.48 325.29 948.47 325.43 949.47 C325.57 950.46 325.71 951.46 325.85 952.45 C325.99 953.45 326.13 954.44 326.27 955.43 C326.41 956.43 326.55 957.42 326.70 958.41 C326.84 959.41 326.98 960.40 327.12 961.40 C327.27 962.39 327.41 963.38 327.55 964.38 C327.70 965.37 327.84 966.36 327.99 967.36 C328.13 968.35 328.28 969.34 328.42 970.34 C328.57 971.33 328.71 972.32 328.86 973.31 C329.01 974.31 329.15 975.30 329.30 976.29 C329.45 977.28 329.59 978.28 329.74 979.27 C329.89 980.26 330.04 981.25 330.19 982.25 C330.34 983.24 330.49 984.23 330.64 985.22 C330.79 986.22 330.94 987.21 331.09 988.20 C331.24 989.19 331.39 990.18 331.55 991.18 C331.70 992.17 331.85 993.16 332.01 994.15 C332.16 995.14 332.31 996.13 332.47 997.13 C332.62 998.12 332.78 999.11 332.94 1000.10 C333.09 1001.09 333.25 1002.08 333.41 1003.07 C333.56 1004.06 333.72 1005.05 333.88 1006.04 C334.04 1007.04 334.20 1008.03 334.36 1009.02 C334.52 1010.01 334.68 1011.00 334.85 1011.99 C335.01 1012.98 335.17 1013.97 335.34 1014.96 C335.50 1015.95 335.66 1016.94 335.83 1017.93 C335.99 1018.92 336.16 1019.91 336.33 1020.90 C336.50 1021.89 336.66 1022.88 336.83 1023.87 C337.00 1024.86 337.17 1025.85 337.34 1026.84 C337.51 1027.83 337.68 1028.82 337.86 1029.80 C338.03 1030.79 338.20 1031.78 338.38 1032.77 C338.55 1033.76 338.73 1034.75 338.91 1035.74 C339.08 1036.73 339.26 1037.72 339.44 1038.70 C339.62 1039.69 339.80 1040.68 339.98 1041.67 C340.16 1042.66 340.34 1043.65 340.52 1044.63 C340.71 1045.62 340.89 1046.61 341.08 1047.60 C341.26 1048.59 341.45 1049.57 341.63 1050.56 C341.82 1051.55 342.01 1052.54 342.20 1053.52 C342.39 1054.51 342.58 1055.50 342.77 1056.49 C342.96 1057.47 343.16 1058.46 343.35 1059.45 C343.55 1060.43 343.75 1061.42 343.95 1062.41 C344.15 1063.39 344.36 1064.37 344.57 1065.36 C344.78 1066.34 344.99 1067.32 345.22 1068.30 C345.44 1069.28 345.66 1070.26 345.90 1071.23 C346.13 1072.21 346.38 1073.18 346.63 1074.15 C346.88 1075.13 347.14 1076.09 347.40 1077.06 C347.67 1078.02 347.95 1078.99 348.24 1079.95 C348.53 1080.91 348.83 1081.86 349.14 1082.81 C349.45 1083.77 349.77 1084.71 350.11 1085.66 C350.45 1086.60 350.80 1087.54 351.16 1088.48 C351.53 1089.41 351.90 1090.34 352.30 1091.27 C352.69 1092.20 353.10 1093.12 353.53 1094.03 C353.96 1094.95 354.40 1095.86 354.86 1096.76 C355.32 1097.67 355.80 1098.57 356.30 1099.46 C356.80 1100.35 357.31 1101.24 357.85 1102.11 C358.39 1102.98 358.95 1103.84 359.54 1104.67 C360.13 1105.49 360.74 1106.30 361.39 1107.06 C362.04 1107.82 362.71 1108.56 363.42 1109.23 C364.13 1109.90 364.87 1110.53 365.66 1111.09 C366.44 1111.65 367.26 1112.16 368.12 1112.59 C368.99 1113.02 369.90 1113.37 370.84 1113.65 C371.78 1113.93 372.78 1114.12 373.79 1114.29 C374.79 1114.45 375.84 1114.53 376.88 1114.61 C377.92 1114.69 378.99 1114.72 380.03 1114.75 C381.08 1114.79 382.13 1114.80 383.17 1114.82 C384.20 1114.84 385.23 1114.85 386.26 1114.86 C387.28 1114.87 388.30 1114.88 389.31 1114.89 C390.32 1114.89 391.33 1114.89 392.33 1114.89 C393.34 1114.89 394.33 1114.89 395.33 1114.89 C396.33 1114.89 397.33 1114.88 398.32 1114.88 C399.32 1114.87 400.31 1114.87 401.31 1114.86 C402.31 1114.86 403.30 1114.86 404.30 1114.85 C405.29 1114.85 406.29 1114.84 407.29 1114.84 C408.29 1114.84 409.28 1114.83 410.28 1114.83 C411.28 1114.83 412.28 1114.82 413.28 1114.82 C414.27 1114.82 415.27 1114.82 416.27 1114.81 C417.27 1114.81 418.27 1114.81 419.27 1114.81 C420.27 1114.80 421.27 1114.80 422.27 1114.80 C423.27 1114.80 424.27 1114.80 425.28 1114.79 C426.28 1114.79 427.28 1114.79 428.28 1114.79 C429.28 1114.79 430.28 1114.79 431.29 1114.79 C432.29 1114.78 433.29 1114.78 434.29 1114.78 C435.29 1114.78 436.30 1114.78 437.30 1114.78 C438.30 1114.78 439.31 1114.78 440.31 1114.78 C441.31 1114.78 442.32 1114.78 443.32 1114.78 C444.32 1114.78 445.33 1114.78 446.33 1114.78 C447.34 1114.77 448.34 1114.77 449.34 1114.77 C450.35 1114.77 451.35 1114.77 452.36 1114.77 C453.36 1114.77 454.37 1114.77 455.37 1114.77 C456.38 1114.77 457.38 1114.77 458.39 1114.77 C459.39 1114.77 460.40 1114.77 461.40 1114.78 C462.40 1114.78 463.41 1114.78 464.41 1114.78 C465.42 1114.78 466.42 1114.78 467.43 1114.78 C468.43 1114.78 469.44 1114.78 470.44 1114.78 C471.45 1114.78 472.45 1114.78 473.46 1114.78 C474.46 1114.78 475.47 1114.78 476.47 1114.78 C477.48 1114.78 478.48 1114.78 479.49 1114.78 C480.49 1114.78 481.50 1114.78 482.50 1114.78 C483.51 1114.78 484.51 1114.78 485.52 1114.78 C486.52 1114.78 487.53 1114.78 488.53 1114.78 C489.54 1114.78 490.54 1114.78 491.55 1114.78 C492.55 1114.78 493.56 1114.78 494.56 1114.78 C495.57 1114.79 496.57 1114.79 497.58 1114.79 C498.58 1114.79 499.59 1114.79 500.59 1114.79 C501.60 1114.79 502.60 1114.79 503.60 1114.79 C504.61 1114.79 505.61 1114.79 506.62 1114.79 C507.62 1114.79 508.63 1114.79 509.63 1114.79 C510.64 1114.79 511.64 1114.79 512.65 1114.79 C513.65 1114.79 514.66 1114.79 515.66 1114.79 C516.66 1114.79 517.67 1114.79 518.67 1114.79 C519.68 1114.79 520.68 1114.79 521.69 1114.79 C522.69 1114.79 523.70 1114.79 524.70 1114.79 C525.71 1114.79 526.71 1114.79 527.71 1114.80 C528.72 1114.80 529.72 1114.80 530.73 1114.80 C531.73 1114.80 532.74 1114.80 533.74 1114.80 C534.74 1114.80 535.75 1114.80 536.75 1114.80 C537.76 1114.80 538.76 1114.80 539.77 1114.80 C540.77 1114.80 541.78 1114.80 542.78 1114.80 C543.78 1114.80 544.79 1114.80 545.79 1114.80 C546.80 1114.80 547.80 1114.80 548.81 1114.80 C549.81 1114.80 550.81 1114.80 551.82 1114.80 C552.82 1114.80 553.83 1114.80 554.83 1114.80 C555.84 1114.80 556.84 1114.81 557.84 1114.81 C558.85 1114.81 559.85 1114.81 560.86 1114.81 C561.86 1114.81 562.87 1114.81 563.87 1114.81 C564.87 1114.81 565.88 1114.81 566.88 1114.81 C567.89 1114.81 568.89 1114.81 569.90 1114.81 C570.90 1114.81 571.90 1114.81 572.91 1114.81 C573.91 1114.81 574.92 1114.81 575.92 1114.81 C576.92 1114.81 577.93 1114.81 578.93 1114.81 C579.94 1114.81 580.94 1114.81 581.94 1114.81 C582.95 1114.82 583.95 1114.82 584.96 1114.82 C585.96 1114.82 586.97 1114.82 587.97 1114.82 C588.97 1114.82 589.98 1114.82 590.98 1114.82 C591.99 1114.82 592.99 1114.82 593.99 1114.82 C595.00 1114.82 596.00 1114.82 597.01 1114.82 C598.01 1114.82 599.01 1114.82 600.02 1114.82 C601.02 1114.82 602.03 1114.82 603.03 1114.82 C604.03 1114.82 605.04 1114.82 606.04 1114.82 C607.05 1114.83 608.05 1114.83 609.05 1114.83 C610.06 1114.83 611.06 1114.83 612.07 1114.83 C613.07 1114.83 614.07 1114.83 615.08 1114.83 C616.08 1114.83 617.09 1114.83 618.09 1114.83 C619.09 1114.83 620.10 1114.83 621.10 1114.83 C622.11 1114.83 623.11 1114.83 624.11 1114.83 C625.12 1114.83 626.12 1114.83 627.13 1114.83 C628.13 1114.84 629.13 1114.84 630.14 1114.84 C631.14 1114.84 632.15 1114.84 633.15 1114.84 C634.15 1114.84 635.16 1114.84 636.16 1114.84 C637.16 1114.84 638.17 1114.84 639.17 1114.84 C640.18 1114.84 641.18 1114.84 642.18 1114.84 C643.19 1114.84 644.19 1114.84 645.20 1114.84 C646.20 1114.84 647.20 1114.84 648.21 1114.85 C649.21 1114.85 650.22 1114.85 651.22 1114.85 C652.22 1114.85 653.23 1114.85 654.23 1114.85 C655.24 1114.85 656.24 1114.85 657.24 1114.85 C658.25 1114.85 659.25 1114.85 660.25 1114.85 C661.26 1114.85 662.26 1114.85 663.27 1114.85 C664.27 1114.85 665.27 1114.85 666.28 1114.86 C667.28 1114.86 668.29 1114.86 669.29 1114.86 C670.29 1114.86 671.30 1114.86 672.30 1114.86 C673.31 1114.86 674.31 1114.86 675.31 1114.86 C676.32 1114.86 677.32 1114.86 678.32 1114.86 C679.33 1114.86 680.33 1114.86 681.34 1114.86 C682.34 1114.86 683.34 1114.87 684.35 1114.87 C685.35 1114.87 686.36 1114.87 687.36 1114.87 C688.36 1114.87 689.37 1114.87 690.37 1114.87 C691.38 1114.87 692.38 1114.87 693.38 1114.87 C694.39 1114.87 695.39 1114.87 696.39 1114.87 C697.40 1114.87 698.40 1114.88 699.41 1114.88 C700.41 1114.88 701.41 1114.88 702.42 1114.88 C703.42 1114.88 704.43 1114.88 705.43 1114.88 C706.43 1114.88 707.44 1114.88 708.44 1114.88 C709.45 1114.88 710.45 1114.88 711.45 1114.88 C712.46 1114.88 713.46 1114.89 714.47 1114.89 C715.47 1114.89 716.47 1114.89 717.48 1114.89 C718.48 1114.89 719.49 1114.89 720.49 1114.89 C721.49 1114.89 722.50 1114.89 723.50 1114.89 C724.50 1114.89 725.51 1114.89 726.51 1114.89 C727.52 1114.90 728.52 1114.90 729.52 1114.90 C730.53 1114.90 731.53 1114.90 732.54 1114.90 C733.54 1114.90 734.54 1114.90 735.55 1114.90 C736.55 1114.90 737.56 1114.90 738.56 1114.90 C739.56 1114.91 740.57 1114.91 741.57 1114.91 C742.58 1114.91 743.58 1114.91 744.58 1114.91 C745.59 1114.91 746.59 1114.91 747.60 1114.91 C748.60 1114.91 749.61 1114.91 750.61 1114.91 C751.61 1114.92 752.62 1114.92 753.62 1114.92 C754.63 1114.92 755.63 1114.92 756.63 1114.92 C757.64 1114.92 758.64 1114.92 759.65 1114.92 C760.65 1114.92 761.65 1114.92 762.66 1114.92 C763.66 1114.93 764.67 1114.93 765.67 1114.93 C766.67 1114.93 767.68 1114.93 768.68 1114.93 C769.69 1114.93 770.69 1114.93 771.70 1114.93 C772.70 1114.93 773.70 1114.93 774.71 1114.94 C775.71 1114.94 776.72 1114.94 777.72 1114.94 C778.72 1114.94 779.73 1114.94 780.73 1114.94 C781.74 1114.94 782.74 1114.94 783.75 1114.94 C784.75 1114.95 785.75 1114.95 786.76 1114.95 C787.76 1114.95 788.77 1114.95 789.77 1114.95 C790.78 1114.95 791.78 1114.95 792.78 1114.95 C793.79 1114.95 794.79 1114.96 795.80 1114.96 C796.80 1114.96 797.81 1114.96 798.81 1114.96 C799.81 1114.96 800.82 1114.96 801.82 1114.96 C802.83 1114.96 803.83 1114.96 804.84 1114.97 C805.84 1114.97 806.84 1114.97 807.85 1114.97 C808.85 1114.97 809.86 1114.97 810.86 1114.97 C811.87 1114.97 812.87 1114.97 813.88 1114.98 C814.88 1114.98 815.88 1114.98 816.89 1114.98 C817.89 1114.98 818.90 1114.98 819.90 1114.98 C820.91 1114.98 821.91 1114.98 822.92 1114.99 C823.92 1114.99 824.92 1114.99 825.93 1114.99 C826.93 1114.99 827.94 1114.99 828.94 1114.99 C829.95 1114.99 830.95 1114.99 831.96 1115.00 C832.96 1115.00 833.97 1115.00 834.97 1115.00 C835.98 1115.00 836.98 1115.00 837.98 1115.00 C838.99 1115.00 839.99 1115.01 841.00 1115.01 C842.00 1115.01 843.51 1115.01 844.01 1115.01" fill="none" stroke="#ff0000" stroke-width="9.20" stroke-linecap="butt" stroke-linejoin="round"/>
<line x1="382.00" y1="1114.80" x2="844.00" y2="1115.00" stroke="#ff0000" stroke-width="10.80" stroke-linecap="butt"/>
<path d="M224.97 839.81 C225.53 839.86 227.27 840.14 228.32 840.12 C229.38 840.09 230.37 839.92 231.31 839.66 C232.25 839.40 233.13 839.02 233.96 838.55 C234.79 838.09 235.57 837.53 236.31 836.90 C237.05 836.28 237.74 835.56 238.40 834.81 C239.06 834.05 239.67 833.23 240.26 832.38 C240.85 831.54 241.40 830.64 241.93 829.74 C242.46 828.83 242.96 827.90 243.45 826.97 C243.93 826.05 244.40 825.11 244.84 824.18 C245.29 823.25 245.72 822.31 246.13 821.37 C246.54 820.43 246.93 819.49 247.31 818.54 C247.69 817.60 248.05 816.65 248.39 815.71 C248.74 814.76 249.07 813.81 249.39 812.85 C249.71 811.90 250.01 810.94 250.31 809.99 C250.60 809.03 250.88 808.07 251.15 807.11 C251.42 806.14 251.68 805.18 251.93 804.22 C252.18 803.25 252.42 802.28 252.65 801.31 C252.88 800.35 253.11 799.37 253.32 798.40 C253.54 797.43 253.75 796.46 253.96 795.48 C254.16 794.51 254.36 793.53 254.56 792.55 C254.75 791.57 254.94 790.59 255.13 789.61 C255.32 788.63 255.50 787.65 255.69 786.67 C255.87 785.68 256.05 784.70 256.23 783.72 C256.41 782.73 256.59 781.74 256.77 780.76 C256.95 779.77 257.13 778.78 257.31 777.79 C257.49 776.81 257.67 775.82 257.84 774.83 C258.02 773.84 258.20 772.85 258.37 771.86 C258.55 770.86 258.72 769.87 258.90 768.88 C259.08 767.89 259.25 766.90 259.42 765.90 C259.60 764.91 259.77 763.92 259.95 762.93 C260.12 761.93 260.29 760.94 260.47 759.95 C260.64 758.95 260.81 757.96 260.99 756.97 C261.16 755.97 261.33 754.98 261.51 753.99 C261.68 752.99 261.85 752.00 262.03 751.01 C262.20 750.02 262.37 749.02 262.55 748.03 C262.72 747.04 262.89 746.05 263.07 745.06 C263.24 744.07 263.42 743.08 263.59 742.09 C263.76 741.10 263.94 740.11 264.11 739.12 C264.29 738.13 264.46 737.15 264.64 736.16 C264.82 735.17 264.99 734.19 265.17 733.20 C265.35 732.22 265.52 731.24 265.70 730.25 C265.88 729.27 266.06 728.29 266.24 727.31 C266.42 726.33 266.60 725.35 266.78 724.37 C266.96 723.39 267.14 722.41 267.32 721.44 C267.51 720.46 267.69 719.48 267.88 718.50 C268.06 717.52 268.25 716.54 268.43 715.57 C268.62 714.59 268.81 713.61 268.99 712.63 C269.18 711.64 269.37 710.66 269.56 709.68 C269.75 708.70 269.95 707.71 270.14 706.73 C270.33 705.74 270.53 704.75 270.72 703.76 C270.92 702.77 271.12 701.78 271.31 700.78 C271.51 699.79 271.71 698.79 271.91 697.79 C272.12 696.79 272.31 695.79 272.53 694.78 C272.74 693.78 272.95 692.77 273.19 691.77 C273.43 690.77 273.67 689.77 273.96 688.78 C274.24 687.79 274.55 686.80 274.90 685.82 C275.25 684.85 275.64 683.89 276.08 682.94 C276.52 681.99 277.00 681.05 277.55 680.14 C278.10 679.23 278.71 678.29 279.37 677.48 C280.02 676.67 280.74 675.85 281.46 675.27 C282.18 674.69 282.95 674.20 283.69 674.01 C284.42 673.83 285.18 673.89 285.90 674.17 C286.62 674.45 287.33 675.02 288.01 675.67 C288.70 676.33 289.36 677.20 289.99 678.07 C290.62 678.94 291.23 679.94 291.80 680.89 C292.37 681.83 292.90 682.80 293.40 683.75 C293.91 684.70 294.37 685.65 294.83 686.60 C295.28 687.54 295.70 688.49 296.10 689.43 C296.51 690.37 296.89 691.31 297.27 692.25 C297.64 693.19 298.00 694.13 298.35 695.06 C298.70 696.00 299.04 696.93 299.38 697.86 C299.72 698.79 300.05 699.72 300.39 700.65 C300.73 701.58 301.07 702.51 301.42 703.44 C301.77 704.36 302.12 705.29 302.48 706.21 C302.84 707.14 303.20 708.06 303.57 708.98 C303.94 709.91 304.32 710.83 304.70 711.75 C305.08 712.67 305.46 713.60 305.85 714.52 C306.23 715.44 306.62 716.36 307.02 717.28 C307.41 718.20 307.80 719.12 308.20 720.04 C308.60 720.96 309.00 721.88 309.40 722.81 C309.79 723.73 310.20 724.65 310.60 725.57 C311.00 726.49 311.40 727.41 311.80 728.34 C312.20 729.26 312.60 730.19 312.99 731.11 C313.39 732.03 313.79 732.96 314.18 733.89 C314.58 734.81 314.97 735.74 315.36 736.67 C315.74 737.60 316.13 738.53 316.51 739.46 C316.89 740.39 317.27 741.33 317.64 742.26 C318.02 743.20 318.39 744.13 318.75 745.07 C319.11 746.01 319.47 746.95 319.82 747.89 C320.17 748.83 320.52 749.78 320.86 750.72 C321.19 751.67 321.52 752.62 321.85 753.57 C322.17 754.52 322.48 755.47 322.79 756.43 C323.10 757.39 323.40 758.34 323.69 759.30 C323.99 760.26 324.28 761.23 324.56 762.19 C324.84 763.15 325.12 764.12 325.39 765.08 C325.66 766.05 325.93 767.02 326.19 767.99 C326.46 768.96 326.72 769.93 326.97 770.90 C327.23 771.87 327.48 772.84 327.74 773.81 C327.99 774.79 328.24 775.76 328.49 776.73 C328.74 777.71 328.98 778.68 329.23 779.65 C329.48 780.63 329.73 781.60 329.97 782.57 C330.22 783.55 330.47 784.52 330.72 785.50 C330.96 786.47 331.21 787.44 331.46 788.41 C331.71 789.39 331.96 790.36 332.20 791.33 C332.45 792.31 332.70 793.28 332.95 794.25 C333.20 795.23 333.45 796.20 333.70 797.17 C333.95 798.14 334.19 799.12 334.44 800.09 C334.69 801.06 334.94 802.03 335.19 803.01 C335.44 803.98 335.69 804.95 335.94 805.92 C336.19 806.89 336.43 807.87 336.68 808.84 C336.93 809.81 337.18 810.78 337.43 811.76 C337.68 812.73 337.93 813.70 338.17 814.67 C338.42 815.65 338.67 816.62 338.92 817.59 C339.17 818.56 339.42 819.53 339.66 820.51 C339.91 821.48 340.16 822.45 340.41 823.42 C340.65 824.40 340.90 825.37 341.15 826.34 C341.39 827.31 341.64 828.29 341.89 829.26 C342.13 830.23 342.38 831.20 342.62 832.18 C342.87 833.15 343.11 834.12 343.36 835.10 C343.60 836.07 343.85 837.04 344.09 838.02 C344.34 838.99 344.58 839.96 344.82 840.94 C345.07 841.91 345.31 842.88 345.55 843.86 C345.79 844.83 346.03 845.80 346.28 846.78 C346.52 847.75 346.76 848.73 347.00 849.70 C347.24 850.67 347.48 851.65 347.72 852.62 C347.95 853.60 348.19 854.57 348.43 855.55 C348.67 856.52 348.90 857.50 349.14 858.47 C349.37 859.45 349.61 860.42 349.84 861.40 C350.08 862.38 350.31 863.35 350.54 864.33 C350.77 865.30 351.00 866.28 351.23 867.26 C351.46 868.23 351.69 869.21 351.92 870.19 C352.15 871.16 352.38 872.14 352.60 873.12 C352.83 874.10 353.05 875.08 353.27 876.05 C353.50 877.03 353.72 878.01 353.94 878.99 C354.16 879.97 354.38 880.95 354.60 881.93 C354.82 882.91 355.03 883.89 355.25 884.87 C355.46 885.85 355.68 886.83 355.89 887.81 C356.10 888.79 356.31 889.77 356.52 890.75 C356.73 891.73 356.94 892.71 357.15 893.70 C357.35 894.68 357.56 895.66 357.76 896.64 C357.96 897.62 358.17 898.61 358.37 899.59 C358.57 900.58 358.76 901.56 358.96 902.54 C359.16 903.53 359.35 904.51 359.54 905.50 C359.74 906.48 359.93 907.47 360.12 908.45 C360.31 909.44 360.50 910.42 360.68 911.41 C360.87 912.40 361.06 913.38 361.24 914.37 C361.43 915.36 361.62 916.34 361.80 917.33 C361.98 918.32 362.17 919.30 362.35 920.29 C362.53 921.28 362.72 922.27 362.90 923.25 C363.08 924.24 363.26 925.23 363.44 926.22 C363.63 927.20 363.81 928.19 363.99 929.18 C364.17 930.17 364.35 931.15 364.54 932.14 C364.72 933.13 364.90 934.12 365.08 935.10 C365.27 936.09 365.45 937.08 365.63 938.07 C365.82 939.05 366.00 940.04 366.19 941.03 C366.38 942.01 366.56 943.00 366.75 943.99 C366.94 944.97 367.13 945.96 367.32 946.95 C367.51 947.93 367.70 948.92 367.89 949.90 C368.09 950.89 368.28 951.87 368.48 952.86 C368.67 953.84 368.87 954.83 369.07 955.81 C369.27 956.80 369.47 957.78 369.68 958.76 C369.88 959.75 370.09 960.73 370.30 961.71 C370.50 962.69 370.72 963.67 370.93 964.66 C371.14 965.64 371.36 966.62 371.58 967.60 C371.79 968.58 372.01 969.56 372.24 970.54 C372.46 971.52 372.69 972.50 372.91 973.47 C373.14 974.45 373.37 975.43 373.60 976.41 C373.84 977.38 374.07 978.36 374.31 979.33 C374.55 980.31 374.79 981.28 375.03 982.26 C375.28 983.23 375.52 984.21 375.77 985.18 C376.02 986.15 376.27 987.12 376.52 988.10 C376.78 989.07 377.03 990.04 377.29 991.01 C377.55 991.98 377.81 992.95 378.07 993.92 C378.34 994.88 378.61 995.85 378.88 996.82 C379.15 997.79 379.42 998.75 379.69 999.72 C379.97 1000.68 380.25 1001.65 380.53 1002.61 C380.81 1003.57 381.09 1004.54 381.38 1005.50 C381.66 1006.46 381.95 1007.42 382.24 1008.38 C382.54 1009.34 382.83 1010.30 383.13 1011.26 C383.43 1012.22 383.73 1013.17 384.03 1014.13 C384.33 1015.09 384.64 1016.04 384.95 1017.00 C385.26 1017.95 385.57 1018.90 385.89 1019.86 C386.20 1020.81 386.52 1021.76 386.84 1022.71 C387.16 1023.66 387.49 1024.61 387.81 1025.56 C388.14 1026.50 388.47 1027.45 388.81 1028.40 C389.14 1029.34 389.48 1030.29 389.82 1031.23 C390.16 1032.18 390.50 1033.12 390.84 1034.06 C391.19 1035.00 391.54 1035.94 391.89 1036.88 C392.24 1037.82 392.60 1038.75 392.96 1039.69 C393.32 1040.63 393.69 1041.56 394.05 1042.49 C394.42 1043.43 394.79 1044.36 395.17 1045.29 C395.55 1046.22 395.93 1047.14 396.31 1048.07 C396.70 1049.00 397.09 1049.92 397.49 1050.84 C397.88 1051.76 398.28 1052.68 398.69 1053.60 C399.09 1054.52 399.50 1055.44 399.92 1056.35 C400.33 1057.27 400.75 1058.18 401.18 1059.09 C401.61 1060.00 402.04 1060.90 402.48 1061.81 C402.92 1062.71 403.36 1063.62 403.81 1064.52 C404.26 1065.42 404.72 1066.31 405.18 1067.21 C405.65 1068.10 406.12 1069.00 406.59 1069.88 C407.07 1070.77 407.55 1071.66 408.04 1072.55 C408.53 1073.43 409.03 1074.31 409.53 1075.19 C410.04 1076.06 410.55 1076.94 411.07 1077.81 C411.60 1078.67 412.13 1079.54 412.68 1080.39 C413.22 1081.24 413.78 1082.08 414.35 1082.91 C414.92 1083.74 415.51 1084.56 416.11 1085.37 C416.72 1086.17 417.34 1086.97 417.98 1087.74 C418.61 1088.52 419.27 1089.28 419.95 1090.02 C420.63 1090.76 421.33 1091.48 422.05 1092.18 C422.77 1092.88 423.52 1093.56 424.29 1094.21 C425.06 1094.87 425.85 1095.50 426.67 1096.10 C427.48 1096.70 428.32 1097.28 429.18 1097.82 C430.03 1098.36 430.91 1098.88 431.81 1099.35 C432.70 1099.83 433.61 1100.27 434.54 1100.68 C435.47 1101.08 436.41 1101.44 437.36 1101.77 C438.32 1102.09 439.29 1102.37 440.26 1102.60 C441.24 1102.84 442.23 1103.02 443.23 1103.18 C444.23 1103.33 445.23 1103.44 446.24 1103.53 C447.25 1103.62 448.26 1103.67 449.28 1103.71 C450.29 1103.75 451.31 1103.75 452.32 1103.75 C453.34 1103.76 454.35 1103.73 455.36 1103.71 C456.37 1103.69 457.37 1103.66 458.37 1103.63 C459.36 1103.59 460.35 1103.56 461.35 1103.51 C462.34 1103.47 463.32 1103.42 464.31 1103.36 C465.30 1103.31 466.28 1103.25 467.27 1103.18 C468.26 1103.11 469.25 1103.03 470.24 1102.95 C471.23 1102.87 472.23 1102.78 473.23 1102.68 C474.23 1102.59 475.23 1102.49 476.24 1102.38 C477.25 1102.28 478.26 1102.17 479.27 1102.06 C480.28 1101.96 481.30 1101.85 482.31 1101.75 C483.33 1101.65 484.35 1101.55 485.36 1101.46 C486.38 1101.37 487.40 1101.29 488.42 1101.22 C489.43 1101.15 490.45 1101.08 491.46 1101.04 C492.48 1100.99 493.49 1100.96 494.50 1100.94 C495.51 1100.93 496.52 1100.93 497.53 1100.95 C498.53 1100.97 499.53 1101.01 500.53 1101.08 C501.53 1101.15 502.52 1101.24 503.51 1101.36 C504.50 1101.48 505.48 1101.62 506.46 1101.80 C507.44 1101.98 508.41 1102.19 509.37 1102.43 C510.34 1102.67 511.29 1102.95 512.24 1103.26 C513.19 1103.57 514.14 1103.92 515.07 1104.30 C516.01 1104.67 516.94 1105.08 517.87 1105.50 C518.79 1105.91 519.72 1106.36 520.64 1106.80 C521.56 1107.24 522.48 1107.69 523.40 1108.14 C524.33 1108.58 525.25 1109.03 526.17 1109.46 C527.10 1109.89 528.02 1110.31 528.95 1110.71 C529.89 1111.10 530.82 1111.47 531.76 1111.82 C532.71 1112.17 533.65 1112.49 534.60 1112.79 C535.56 1113.09 536.51 1113.37 537.47 1113.63 C538.43 1113.89 539.39 1114.13 540.36 1114.35 C541.33 1114.56 542.30 1114.76 543.27 1114.94 C544.25 1115.12 545.23 1115.29 546.21 1115.43 C547.19 1115.58 548.17 1115.71 549.16 1115.82 C550.14 1115.94 551.13 1116.04 552.12 1116.12 C553.12 1116.21 554.11 1116.28 555.11 1116.34 C556.10 1116.40 557.10 1116.45 558.10 1116.48 C559.10 1116.52 560.10 1116.54 561.10 1116.56 C562.10 1116.58 563.10 1116.58 564.11 1116.58 C565.11 1116.58 566.12 1116.57 567.12 1116.55 C568.12 1116.54 569.13 1116.51 570.14 1116.48 C571.14 1116.46 572.15 1116.42 573.15 1116.38 C574.16 1116.35 575.16 1116.30 576.17 1116.26 C577.18 1116.22 578.18 1116.18 579.19 1116.13 C580.19 1116.09 581.20 1116.05 582.21 1116.01 C583.21 1115.97 584.22 1115.93 585.22 1115.89 C586.23 1115.86 587.23 1115.83 588.24 1115.80 C589.25 1115.78 590.25 1115.76 591.26 1115.75 C592.26 1115.74 593.27 1115.73 594.27 1115.74 C595.27 1115.74 596.28 1115.76 597.28 1115.78 C598.29 1115.80 599.29 1115.83 600.29 1115.87 C601.30 1115.90 602.30 1115.95 603.30 1115.99 C604.31 1116.04 605.31 1116.09 606.31 1116.15 C607.32 1116.21 608.32 1116.27 609.32 1116.34 C610.32 1116.40 611.33 1116.47 612.33 1116.54 C613.33 1116.61 614.33 1116.69 615.34 1116.77 C616.34 1116.84 617.34 1116.92 618.34 1117.00 C619.34 1117.07 620.34 1117.15 621.35 1117.23 C622.35 1117.31 623.35 1117.39 624.35 1117.47 C625.35 1117.54 626.36 1117.62 627.36 1117.69 C628.36 1117.76 629.36 1117.84 630.36 1117.90 C631.36 1117.97 632.37 1118.04 633.37 1118.10 C634.37 1118.16 635.37 1118.21 636.37 1118.26 C637.37 1118.31 638.38 1118.36 639.38 1118.40 C640.38 1118.44 641.38 1118.47 642.38 1118.50 C643.39 1118.52 644.39 1118.54 645.39 1118.55 C646.39 1118.56 647.40 1118.57 648.40 1118.56 C649.40 1118.55 650.40 1118.54 651.41 1118.51 C652.41 1118.49 653.41 1118.45 654.42 1118.41 C655.42 1118.37 656.42 1118.32 657.43 1118.26 C658.43 1118.20 659.43 1118.14 660.44 1118.07 C661.44 1118.01 662.45 1117.94 663.45 1117.86 C664.45 1117.79 665.46 1117.71 666.46 1117.63 C667.47 1117.55 668.47 1117.47 669.47 1117.39 C670.48 1117.31 671.48 1117.23 672.48 1117.15 C673.49 1117.07 674.49 1116.99 675.50 1116.92 C676.50 1116.85 677.50 1116.78 678.51 1116.71 C679.51 1116.65 680.52 1116.59 681.52 1116.53 C682.52 1116.47 683.53 1116.42 684.53 1116.38 C685.53 1116.33 686.54 1116.29 687.54 1116.26 C688.54 1116.22 689.55 1116.19 690.55 1116.16 C691.55 1116.13 692.56 1116.11 693.56 1116.09 C694.56 1116.07 695.57 1116.05 696.57 1116.04 C697.57 1116.03 698.58 1116.02 699.58 1116.01 C700.58 1116.01 701.58 1116.00 702.59 1116.00 C703.59 1116.00 704.59 1116.01 705.60 1116.01 C706.60 1116.02 707.60 1116.03 708.60 1116.03 C709.61 1116.04 710.61 1116.06 711.61 1116.07 C712.62 1116.08 713.62 1116.10 714.62 1116.12 C715.62 1116.13 716.63 1116.15 717.63 1116.17 C718.63 1116.19 719.63 1116.21 720.64 1116.23 C721.64 1116.26 722.64 1116.28 723.65 1116.30 C724.65 1116.32 725.65 1116.35 726.65 1116.37 C727.66 1116.40 728.66 1116.42 729.66 1116.44 C730.66 1116.47 731.67 1116.49 732.67 1116.51 C733.67 1116.54 734.68 1116.56 735.68 1116.58 C736.68 1116.60 737.68 1116.62 738.69 1116.64 C739.69 1116.66 740.69 1116.68 741.70 1116.70 C742.70 1116.72 743.70 1116.73 744.70 1116.75 C745.71 1116.76 746.71 1116.78 747.71 1116.79 C748.72 1116.80 749.72 1116.80 750.72 1116.81 C751.73 1116.82 752.73 1116.82 753.73 1116.82 C754.74 1116.82 755.74 1116.82 756.74 1116.81 C757.74 1116.81 758.75 1116.80 759.75 1116.79 C760.76 1116.78 761.76 1116.76 762.76 1116.74 C763.77 1116.73 764.77 1116.70 765.77 1116.68 C766.78 1116.65 767.78 1116.62 768.78 1116.59 C769.79 1116.55 770.79 1116.51 771.80 1116.47 C772.80 1116.43 773.80 1116.39 774.81 1116.35 C775.81 1116.30 776.82 1116.25 777.82 1116.20 C778.82 1116.15 779.83 1116.10 780.83 1116.05 C781.84 1116.00 782.84 1115.94 783.84 1115.89 C784.85 1115.83 785.85 1115.78 786.86 1115.72 C787.86 1115.67 788.87 1115.61 789.87 1115.56 C790.87 1115.51 791.88 1115.45 792.88 1115.40 C793.89 1115.35 794.89 1115.30 795.89 1115.25 C796.90 1115.20 797.90 1115.15 798.91 1115.10 C799.91 1115.06 800.91 1115.01 801.92 1114.97 C802.92 1114.93 803.92 1114.89 804.93 1114.86 C805.93 1114.82 806.94 1114.79 807.94 1114.77 C808.94 1114.74 809.95 1114.72 810.95 1114.70 C811.95 1114.68 812.95 1114.66 813.96 1114.66 C814.96 1114.65 815.96 1114.64 816.97 1114.65 C817.97 1114.65 818.97 1114.66 819.97 1114.67 C820.98 1114.69 821.98 1114.71 822.98 1114.73 C823.98 1114.76 824.99 1114.79 825.99 1114.84 C826.99 1114.88 827.99 1114.93 828.99 1114.99 C829.99 1115.04 831.00 1115.11 832.00 1115.18 C833.00 1115.26 834.00 1115.34 835.00 1115.43 C836.00 1115.52 837.00 1115.62 838.00 1115.73 C839.00 1115.85 840.00 1115.97 841.00 1116.10 C842.00 1116.23 843.50 1116.45 844.00 1116.52" fill="none" stroke="#000" stroke-width="9.20" stroke-linecap="butt" stroke-linejoin="round"/>
<line x1="314.20" y1="1007.40" x2="283.77" y2="1007.40" stroke="#ff0000" stroke-width="7.20" stroke-linecap="butt"/>
<path d="M250.80 1007.40 L287.60 996.40 L287.60 1018.40 Z" fill="#ff0000" stroke="#ff0000" stroke-width="2.5" stroke-linejoin="round"/>
<path d="M350.53 981.65 C350.95 982.09 352.25 983.37 353.04 984.34 C353.83 985.31 354.59 986.36 355.29 987.47 C355.99 988.58 356.64 989.76 357.24 990.99 C357.83 992.22 358.37 993.51 358.85 994.84 C359.33 996.17 359.76 997.55 360.12 998.96 C360.47 1000.36 360.77 1001.81 361.00 1003.28 C361.23 1004.74 361.40 1006.23 361.49 1007.72 C361.59 1009.21 361.57 1011.47 361.59 1012.22" fill="none" stroke="#ff0000" stroke-width="5.7" stroke-linecap="round"/>
<path d="M356.96 1031.57 C356.63 1032.15 355.68 1033.94 354.98 1035.02 C354.27 1036.10 353.50 1037.13 352.70 1038.07 C351.90 1039.02 350.60 1040.25 350.18 1040.68" fill="none" stroke="#ff0000" stroke-width="5.7" stroke-linecap="round"/>
<path d="M331.01 1044.81 C330.53 1044.58 329.08 1043.97 328.15 1043.43 C327.22 1042.88 326.31 1042.25 325.44 1041.55 C324.56 1040.84 323.71 1040.05 322.90 1039.20 C322.09 1038.34 321.32 1037.40 320.59 1036.41 C319.86 1035.42 319.17 1034.35 318.53 1033.24 C317.90 1032.12 317.30 1030.94 316.77 1029.72 C316.23 1028.50 315.74 1027.22 315.32 1025.91 C314.89 1024.61 314.52 1023.25 314.20 1021.88 C313.89 1020.51 313.57 1018.38 313.45 1017.68" fill="none" stroke="#ff0000" stroke-width="5.7" stroke-linecap="round"/>
<path d="M313.94 1001.35 C314.10 1000.71 314.51 998.76 314.88 997.51 C315.24 996.26 315.65 995.03 316.12 993.85 C316.58 992.67 317.39 991.00 317.64 990.43" fill="none" stroke="#ff0000" stroke-width="5.7" stroke-linecap="round"/>
<line x1="386.00" y1="922.80" x2="525.23" y2="922.80" stroke="#000" stroke-width="7.20" stroke-linecap="butt"/>
<path d="M558.20 922.80 L521.40 911.50 L521.40 934.10 Z" fill="#000" stroke="#000" stroke-width="2.5" stroke-linejoin="round"/>
<path d="M342.03 912.18 C342.20 911.46 342.66 909.23 343.07 907.82 C343.47 906.41 343.94 905.02 344.45 903.70 C344.96 902.38 345.54 901.09 346.15 899.88 C346.77 898.67 347.44 897.51 348.14 896.43 C348.85 895.36 349.61 894.34 350.39 893.41 C351.18 892.48 352.01 891.62 352.87 890.85 C353.72 890.08 354.62 889.39 355.53 888.80 C356.44 888.21 357.38 887.71 358.33 887.30 C359.28 886.89 360.75 886.52 361.23 886.36" fill="none" stroke="#000" stroke-width="5.7" stroke-linecap="round"/>
<path d="M387.97 921.06 C387.96 921.85 388.01 924.21 387.93 925.77 C387.86 927.32 387.72 928.89 387.52 930.42 C387.32 931.95 387.06 933.48 386.74 934.96 C386.42 936.44 386.03 937.90 385.60 939.30 C385.16 940.71 384.66 942.08 384.11 943.38 C383.57 944.69 382.96 945.95 382.31 947.13 C381.66 948.32 380.57 949.94 380.22 950.50" fill="none" stroke="#000" stroke-width="5.7" stroke-linecap="round"/>
<path d="M378.64 893.45 C378.91 893.79 379.72 894.78 380.22 895.50 C380.73 896.22 381.44 897.39 381.69 897.77" fill="none" stroke="#000" stroke-width="5.7" stroke-linecap="round"/>
<path d="M360.82 959.54 C360.49 959.44 359.48 959.16 358.81 958.90 C358.15 958.64 357.18 958.14 356.85 957.98" fill="none" stroke="#000" stroke-width="5.7" stroke-linecap="round"/>
<path d="M343.03 938.05 C342.91 937.55 342.50 936.06 342.28 935.05 C342.06 934.03 341.80 932.47 341.70 931.95" fill="none" stroke="#000" stroke-width="5.7" stroke-linecap="round"/>
<rect x="229.00" y="181.50" width="615.50" height="1012.50" fill="none" stroke="#000" stroke-width="10.00"/>
<line x1="229.00" y1="181.50" x2="212.00" y2="181.50" stroke="#000" stroke-width="10.00" stroke-linecap="round"/>
<line x1="229.00" y1="493.00" x2="212.00" y2="493.00" stroke="#000" stroke-width="10.00" stroke-linecap="round"/>
<line x1="229.00" y1="804.50" x2="212.00" y2="804.50" stroke="#000" stroke-width="10.00" stroke-linecap="round"/>
<line x1="229.00" y1="1116.00" x2="212.00" y2="1116.00" stroke="#000" stroke-width="10.00" stroke-linecap="round"/>
<line x1="229.00" y1="337.25" x2="220.00" y2="337.25" stroke="#000" stroke-width="10.00" stroke-linecap="round"/>
<line x1="229.00" y1="648.75" x2="220.00" y2="648.75" stroke="#000" stroke-width="10.00" stroke-linecap="round"/>
<line x1="229.00" y1="960.25" x2="220.00" y2="960.25" stroke="#000" stroke-width="10.00" stroke-linecap="round"/>
<line x1="844.50" y1="181.50" x2="861.50" y2="181.50" stroke="#000" stroke-width="10.00" stroke-linecap="round"/>
<line x1="844.50" y1="368.90" x2="861.50" y2="368.90" stroke="#000" stroke-width="10.00" stroke-linecap="round"/>
<line x1="844.50" y1="556.30" x2="861.50" y2="556.30" stroke="#000" stroke-width="10.00" stroke-linecap="round"/>
<line x1="844.50" y1="743.70" x2="861.50" y2="743.70" stroke="#000" stroke-width="10.00" stroke-linecap="round"/>
<line x1="844.50" y1="931.10" x2="861.50" y2="931.10" stroke="#000" stroke-width="10.00" stroke-linecap="round"/>
<line x1="844.50" y1="1118.50" x2="861.50" y2="1118.50" stroke="#000" stroke-width="10.00" stroke-linecap="round"/>
<line x1="844.50" y1="275.20" x2="853.50" y2="275.20" stroke="#000" stroke-width="10.00" stroke-linecap="round"/>
<line x1="844.50" y1="462.60" x2="853.50" y2="462.60" stroke="#000" stroke-width="10.00" stroke-linecap="round"/>
<line x1="844.50" y1="650.00" x2="853.50" y2="650.00" stroke="#000" stroke-width="10.00" stroke-linecap="round"/>
<line x1="844.50" y1="837.40" x2="853.50" y2="837.40" stroke="#000" stroke-width="10.00" stroke-linecap="round"/>
<line x1="844.50" y1="1024.80" x2="853.50" y2="1024.80" stroke="#000" stroke-width="10.00" stroke-linecap="round"/>
<line x1="229.00" y1="1194.00" x2="229.00" y2="1211.00" stroke="#000" stroke-width="10.00" stroke-linecap="round"/>
<line x1="352.10" y1="1194.00" x2="352.10" y2="1211.00" stroke="#000" stroke-width="10.00" stroke-linecap="round"/>
<line x1="475.20" y1="1194.00" x2="475.20" y2="1211.00" stroke="#000" stroke-width="10.00" stroke-linecap="round"/>
<line x1="598.30" y1="1194.00" x2="598.30" y2="1211.00" stroke="#000" stroke-width="10.00" stroke-linecap="round"/>
<line x1="721.40" y1="1194.00" x2="721.40" y2="1211.00" stroke="#000" stroke-width="10.00" stroke-linecap="round"/>
<line x1="844.50" y1="1194.00" x2="844.50" y2="1211.00" stroke="#000" stroke-width="10.00" stroke-linecap="round"/>
<line x1="290.55" y1="1194.00" x2="290.55" y2="1202.50" stroke="#000" stroke-width="10.00" stroke-linecap="round"/>
<line x1="413.65" y1="1194.00" x2="413.65" y2="1202.50" stroke="#000" stroke-width="10.00" stroke-linecap="round"/>
<line x1="536.75" y1="1194.00" x2="536.75" y2="1202.50" stroke="#000" stroke-width="10.00" stroke-linecap="round"/>
<line x1="659.85" y1="1194.00" x2="659.85" y2="1202.50" stroke="#000" stroke-width="10.00" stroke-linecap="round"/>
<line x1="782.95" y1="1194.00" x2="782.95" y2="1202.50" stroke="#000" stroke-width="10.00" stroke-linecap="round"/>
<g transform="translate(164.50,205.00) rotate(0.00) scale(0.9060,1.0000) translate(-3.38,0)"><text x="0" y="0" fill="#000" xml:space="preserve"><tspan font-size="75.0">3</tspan></text></g>
<g transform="translate(163.60,516.50) rotate(0.00) scale(0.9800,1.0000) translate(-3.38,0)"><text x="0" y="0" fill="#000" xml:space="preserve"><tspan font-size="75.0">2</tspan></text></g>
<g transform="translate(170.50,828.00) rotate(0.00) scale(0.7211,1.0000) translate(-6.38,0)"><text x="0" y="0" fill="#000" xml:space="preserve"><tspan font-size="75.0">1</tspan></text></g>
<g transform="translate(163.60,1139.50) rotate(0.00) scale(0.9968,1.0000) translate(-3.00,0)"><text x="0" y="0" fill="#000" xml:space="preserve"><tspan font-size="75.0">0</tspan></text></g>
<g transform="translate(881.00,204.50) rotate(0.00) scale(0.9539,1.0000) translate(-6.38,0)"><text x="0" y="0" fill="#000" xml:space="preserve"><tspan font-size="75.0">10</tspan></text></g>
<g transform="translate(876.80,391.90) rotate(0.00) scale(0.9270,1.0000) translate(-3.00,0)"><text x="0" y="0" fill="#000" xml:space="preserve"><tspan font-size="75.0">8</tspan></text></g>
<g transform="translate(875.50,579.30) rotate(0.00) scale(0.9643,1.0000) translate(-3.00,0)"><text x="0" y="0" fill="#000" xml:space="preserve"><tspan font-size="75.0">6</tspan></text></g>
<g transform="translate(875.00,766.70) rotate(0.00) scale(0.9176,1.0000) translate(-1.50,0)"><text x="0" y="0" fill="#000" xml:space="preserve"><tspan font-size="75.0">4</tspan></text></g>
<g transform="translate(876.00,954.10) rotate(0.00) scale(1.0000,1.0000) translate(-3.38,0)"><text x="0" y="0" fill="#000" xml:space="preserve"><tspan font-size="75.0">2</tspan></text></g>
<g transform="translate(876.00,1141.50) rotate(0.00) scale(0.9841,1.0000) translate(-3.00,0)"><text x="0" y="0" fill="#000" xml:space="preserve"><tspan font-size="75.0">0</tspan></text></g>
<g transform="translate(189.00,1273.00) rotate(0.00) scale(0.9583,1.0000) translate(-2.65,0)"><text x="0" y="0" fill="#000" xml:space="preserve"><tspan font-size="59.0">300</tspan></text></g>
<g transform="translate(312.10,1273.00) rotate(0.00) scale(0.9416,1.0000) translate(-1.18,0)"><text x="0" y="0" fill="#000" xml:space="preserve"><tspan font-size="59.0">400</tspan></text></g>
<g transform="translate(435.20,1273.00) rotate(0.00) scale(0.9685,1.0000) translate(-3.54,0)"><text x="0" y="0" fill="#000" xml:space="preserve"><tspan font-size="59.0">500</tspan></text></g>
<g transform="translate(558.30,1273.00) rotate(0.00) scale(0.9549,1.0000) translate(-2.36,0)"><text x="0" y="0" fill="#000" xml:space="preserve"><tspan font-size="59.0">600</tspan></text></g>
<g transform="translate(681.40,1273.00) rotate(0.00) scale(0.9720,1.0000) translate(-3.83,0)"><text x="0" y="0" fill="#000" xml:space="preserve"><tspan font-size="59.0">700</tspan></text></g>
<g transform="translate(804.50,1273.00) rotate(0.00) scale(0.9549,1.0000) translate(-2.36,0)"><text x="0" y="0" fill="#000" xml:space="preserve"><tspan font-size="59.0">800</tspan></text></g>
<line x1="320.00" y1="226.70" x2="478.00" y2="226.70" stroke="#0000ff" stroke-width="10.40" stroke-linecap="round"/>
<g transform="translate(498.00,254.00) rotate(0.00) scale(0.9806,1.0000) translate(-4.07,0)"><text x="0" y="0" fill="#000" xml:space="preserve"><tspan font-size="74.0" font-weight="bold">70 nm NFI</tspan></text></g>
<line x1="320.00" y1="321.00" x2="478.00" y2="321.00" stroke="#ff0000" stroke-width="10.40" stroke-linecap="round"/>
<g transform="translate(498.00,348.00) rotate(0.00) scale(0.9763,1.0000) translate(-2.59,0)"><text x="0" y="0" fill="#000" xml:space="preserve"><tspan font-size="74.0" font-weight="bold">80 nm NFI</tspan></text></g>
<line x1="320.00" y1="415.30" x2="478.00" y2="415.30" stroke="#000" stroke-width="10.40" stroke-linecap="round"/>
<g transform="translate(498.00,442.00) rotate(0.00) scale(0.9570,1.0000) translate(-1.11,0)"><text x="0" y="0" fill="#000" xml:space="preserve"><tspan font-size="74.0" font-weight="bold">MI</tspan></text></g>
<g transform="translate(317.60,143.00) rotate(0.00) scale(0.9459,1.0000) translate(-3.04,0)"><text x="0" y="0" fill="#000" xml:space="preserve"><tspan font-size="101.5">Detectivity</tspan></text></g>
<g transform="translate(130.50,1023.00) rotate(-90.00) scale(1.1189,0.9200) translate(2.50,0)"><text x="0" y="0" fill="#000" xml:space="preserve"><tspan font-size="100.0" font-weight="bold" font-style="italic">X</tspan></text></g>
<g transform="translate(130.50,932.50) rotate(-90.00) scale(0.7760,0.9200) translate(-2.50,0)"><text x="0" y="0" fill="#000" xml:space="preserve"><tspan font-size="100.0" font-weight="bold" font-style="italic">10</tspan></text></g>
<g transform="translate(74.80,856.00) rotate(-90.00) scale(1.0264,0.9200) translate(-1.50,0)"><text x="0" y="0" fill="#000" xml:space="preserve"><tspan font-size="60.0" font-weight="bold" font-style="italic">11</tspan></text></g>
<g transform="translate(130.50,769.00) rotate(-90.00) scale(1.0643,0.9200) translate(-4.50,0)"><text x="0" y="0" fill="#000" xml:space="preserve"><tspan font-size="100.0">(Jones)</tspan></text></g>
<g transform="translate(1004.00,1038.30) rotate(-90.00) scale(1.1580,0.9200) translate(2.50,0)"><text x="0" y="0" fill="#000" xml:space="preserve"><tspan font-size="100.0" font-weight="bold" font-style="italic">X</tspan></text></g>
<g transform="translate(1004.00,949.60) rotate(-90.00) scale(0.9229,0.9200) translate(-2.50,0)"><text x="0" y="0" fill="#000" xml:space="preserve"><tspan font-size="100.0" font-weight="bold" font-style="italic">10</tspan></text></g>
<g transform="translate(948.30,858.00) rotate(-90.00) scale(1.5248,0.9200) translate(-1.20,0)"><text x="0" y="0" fill="#000" xml:space="preserve"><tspan font-size="60.0" font-style="italic">8</tspan></text></g>
<g transform="translate(1004.00,785.40) rotate(-90.00) scale(1.0250,0.9200) translate(-4.50,0)"><text x="0" y="0" fill="#000" xml:space="preserve"><tspan font-size="100.0">(Jones)</tspan></text></g>
<g transform="translate(1121.00,1037.00) rotate(-90.00) scale(1.1399,0.9200) translate(2.50,0)"><text x="0" y="0" fill="#000" xml:space="preserve"><tspan font-size="100.0" font-weight="bold" font-style="italic">X</tspan></text></g>
<g transform="translate(1121.00,949.60) rotate(-90.00) scale(0.9125,0.9200) translate(-2.50,0)"><text x="0" y="0" fill="#000" xml:space="preserve"><tspan font-size="100.0" font-weight="bold" font-style="italic">10</tspan></text></g>
<g transform="translate(1065.30,838.00) rotate(-90.00) scale(1.2632,0.9200) translate(-3.60,0)"><text x="0" y="0" fill="#000" xml:space="preserve"><tspan font-size="60.0" font-style="italic">7</tspan></text></g>
<g transform="translate(1121.00,784.00) rotate(-90.00) scale(1.0571,0.9200) translate(-4.50,0)"><text x="0" y="0" fill="#000" xml:space="preserve"><tspan font-size="100.0">(A/W)</tspan></text></g>
<g transform="translate(1963.70,1031.40) rotate(-90.00) scale(1.1105,0.9200) translate(2.50,0)"><text x="0" y="0" fill="#000" xml:space="preserve"><tspan font-size="100.0" font-weight="bold" font-style="italic">X</tspan></text></g>
<g transform="translate(1963.70,945.80) rotate(-90.00) scale(0.9354,0.9200) translate(-2.50,0)"><text x="0" y="0" fill="#000" xml:space="preserve"><tspan font-size="100.0" font-weight="bold" font-style="italic">10</tspan></text></g>
<g transform="translate(1908.00,850.00) rotate(-90.00) scale(1.5385,0.9200) translate(-0.90,0)"><text x="0" y="0" fill="#000" xml:space="preserve"><tspan font-size="60.0" font-style="italic">5</tspan></text></g>
<g transform="translate(1963.70,766.30) rotate(-90.00) scale(0.9853,0.9200) translate(-4.50,0)"><text x="0" y="0" fill="#000" xml:space="preserve"><tspan font-size="100.0">(A/W)</tspan></text></g>
<path d="M1203.80 442.41 C1204.41 442.49 1206.29 442.85 1207.44 442.92 C1208.58 442.98 1209.66 442.93 1210.68 442.80 C1211.70 442.67 1212.66 442.44 1213.56 442.13 C1214.47 441.83 1215.31 441.43 1216.11 440.96 C1216.91 440.50 1217.65 439.96 1218.35 439.36 C1219.06 438.76 1219.71 438.09 1220.32 437.38 C1220.93 436.66 1221.50 435.89 1222.03 435.08 C1222.57 434.27 1223.06 433.41 1223.53 432.53 C1223.99 431.64 1224.42 430.72 1224.83 429.78 C1225.23 428.84 1225.60 427.87 1225.96 426.90 C1226.31 425.92 1226.64 424.93 1226.95 423.94 C1227.26 422.96 1227.55 421.96 1227.82 420.97 C1228.10 419.98 1228.36 418.99 1228.60 418.00 C1228.85 417.01 1229.08 416.02 1229.30 415.03 C1229.52 414.04 1229.72 413.05 1229.92 412.06 C1230.11 411.07 1230.29 410.08 1230.47 409.09 C1230.64 408.10 1230.81 407.11 1230.97 406.13 C1231.12 405.14 1231.27 404.15 1231.42 403.16 C1231.57 402.17 1231.71 401.18 1231.84 400.19 C1231.98 399.20 1232.11 398.21 1232.24 397.22 C1232.37 396.23 1232.50 395.24 1232.63 394.25 C1232.76 393.26 1232.89 392.27 1233.02 391.27 C1233.15 390.28 1233.28 389.29 1233.42 388.30 C1233.55 387.31 1233.69 386.32 1233.82 385.33 C1233.96 384.34 1234.10 383.34 1234.25 382.35 C1234.39 381.36 1234.53 380.37 1234.68 379.37 C1234.82 378.38 1234.97 377.39 1235.12 376.40 C1235.26 375.40 1235.41 374.41 1235.56 373.42 C1235.71 372.42 1235.86 371.43 1236.02 370.44 C1236.17 369.45 1236.32 368.45 1236.48 367.46 C1236.63 366.47 1236.78 365.47 1236.94 364.48 C1237.09 363.48 1237.25 362.49 1237.41 361.50 C1237.56 360.50 1237.72 359.51 1237.88 358.52 C1238.03 357.52 1238.19 356.53 1238.35 355.54 C1238.50 354.54 1238.66 353.55 1238.82 352.55 C1238.97 351.56 1239.13 350.57 1239.28 349.57 C1239.44 348.58 1239.60 347.59 1239.75 346.59 C1239.90 345.60 1240.06 344.61 1240.21 343.61 C1240.37 342.62 1240.52 341.63 1240.67 340.63 C1240.82 339.64 1240.97 338.65 1241.12 337.66 C1241.27 336.67 1241.42 335.68 1241.57 334.69 C1241.72 333.71 1241.86 332.72 1242.01 331.75 C1242.15 330.77 1242.30 329.79 1242.44 328.83 C1242.58 327.86 1242.72 326.89 1242.86 325.94 C1243.00 324.98 1243.14 324.03 1243.28 323.09 C1243.42 322.14 1243.56 321.20 1243.70 320.26 C1243.85 319.32 1243.99 318.38 1244.15 317.43 C1244.30 316.48 1244.46 315.53 1244.63 314.56 C1244.81 313.60 1244.99 312.63 1245.18 311.64 C1245.37 310.65 1245.58 309.65 1245.80 308.63 C1246.02 307.61 1246.26 306.58 1246.52 305.52 C1246.77 304.46 1247.05 303.38 1247.35 302.27 C1247.64 301.16 1247.96 300.01 1248.30 298.85 C1248.64 297.70 1249.01 296.47 1249.40 295.32 C1249.78 294.17 1250.19 292.98 1250.60 291.95 C1251.01 290.92 1251.44 289.92 1251.86 289.14 C1252.29 288.35 1252.73 287.66 1253.15 287.24 C1253.58 286.83 1254.01 286.59 1254.43 286.64 C1254.84 286.68 1255.25 287.02 1255.65 287.51 C1256.04 288.01 1256.42 288.76 1256.79 289.60 C1257.16 290.44 1257.51 291.48 1257.84 292.56 C1258.17 293.63 1258.49 294.86 1258.78 296.06 C1259.08 297.26 1259.35 298.55 1259.60 299.77 C1259.84 300.99 1260.07 302.22 1260.27 303.38 C1260.47 304.54 1260.64 305.66 1260.80 306.75 C1260.95 307.84 1261.09 308.90 1261.21 309.94 C1261.34 310.97 1261.45 311.98 1261.55 312.98 C1261.65 313.97 1261.74 314.95 1261.83 315.92 C1261.92 316.89 1261.99 317.85 1262.08 318.81 C1262.16 319.78 1262.24 320.74 1262.33 321.70 C1262.41 322.67 1262.50 323.63 1262.58 324.61 C1262.67 325.58 1262.76 326.55 1262.86 327.53 C1262.95 328.50 1263.04 329.48 1263.14 330.47 C1263.23 331.45 1263.33 332.43 1263.42 333.42 C1263.52 334.40 1263.62 335.39 1263.72 336.38 C1263.82 337.37 1263.92 338.36 1264.02 339.36 C1264.12 340.35 1264.22 341.34 1264.32 342.34 C1264.42 343.34 1264.53 344.33 1264.63 345.33 C1264.73 346.33 1264.84 347.33 1264.94 348.33 C1265.04 349.33 1265.14 350.33 1265.25 351.33 C1265.35 352.33 1265.45 353.33 1265.55 354.34 C1265.65 355.34 1265.76 356.34 1265.86 357.34 C1265.96 358.34 1266.06 359.35 1266.16 360.35 C1266.26 361.35 1266.36 362.35 1266.45 363.35 C1266.55 364.36 1266.65 365.36 1266.74 366.36 C1266.84 367.36 1266.94 368.36 1267.03 369.36 C1267.13 370.36 1267.22 371.37 1267.32 372.37 C1267.41 373.37 1267.50 374.37 1267.60 375.37 C1267.69 376.37 1267.78 377.37 1267.87 378.37 C1267.96 379.37 1268.05 380.38 1268.15 381.38 C1268.24 382.38 1268.33 383.38 1268.41 384.38 C1268.50 385.38 1268.59 386.38 1268.68 387.38 C1268.77 388.38 1268.86 389.38 1268.94 390.38 C1269.03 391.38 1269.12 392.38 1269.20 393.38 C1269.29 394.38 1269.38 395.38 1269.46 396.38 C1269.55 397.38 1269.63 398.38 1269.72 399.38 C1269.80 400.38 1269.88 401.38 1269.97 402.38 C1270.05 403.38 1270.13 404.38 1270.22 405.38 C1270.30 406.38 1270.38 407.38 1270.46 408.38 C1270.55 409.38 1270.63 410.38 1270.71 411.38 C1270.79 412.38 1270.87 413.38 1270.95 414.38 C1271.03 415.38 1271.11 416.38 1271.19 417.38 C1271.27 418.38 1271.35 419.38 1271.43 420.38 C1271.51 421.38 1271.59 422.38 1271.67 423.38 C1271.75 424.38 1271.83 425.38 1271.90 426.38 C1271.98 427.38 1272.06 428.38 1272.14 429.38 C1272.22 430.38 1272.29 431.38 1272.37 432.38 C1272.45 433.38 1272.53 434.38 1272.60 435.37 C1272.68 436.37 1272.76 437.37 1272.83 438.37 C1272.91 439.37 1272.99 440.37 1273.06 441.37 C1273.14 442.37 1273.21 443.37 1273.29 444.37 C1273.37 445.37 1273.44 446.37 1273.52 447.37 C1273.60 448.37 1273.67 449.37 1273.75 450.37 C1273.82 451.37 1273.90 452.37 1273.97 453.37 C1274.05 454.37 1274.12 455.37 1274.20 456.37 C1274.28 457.37 1274.35 458.37 1274.43 459.37 C1274.50 460.37 1274.58 461.37 1274.65 462.37 C1274.73 463.37 1274.80 464.37 1274.88 465.37 C1274.95 466.37 1275.02 467.37 1275.10 468.37 C1275.17 469.37 1275.25 470.37 1275.32 471.37 C1275.40 472.37 1275.47 473.37 1275.55 474.37 C1275.62 475.37 1275.69 476.37 1275.77 477.37 C1275.84 478.37 1275.92 479.37 1275.99 480.37 C1276.06 481.37 1276.14 482.37 1276.21 483.37 C1276.29 484.37 1276.36 485.37 1276.43 486.37 C1276.51 487.37 1276.58 488.37 1276.65 489.37 C1276.73 490.37 1276.80 491.37 1276.87 492.37 C1276.95 493.37 1277.02 494.37 1277.09 495.37 C1277.16 496.37 1277.24 497.37 1277.31 498.37 C1277.38 499.37 1277.46 500.37 1277.53 501.37 C1277.60 502.37 1277.67 503.37 1277.75 504.37 C1277.82 505.37 1277.89 506.37 1277.96 507.37 C1278.04 508.37 1278.11 509.37 1278.18 510.37 C1278.25 511.37 1278.33 512.37 1278.40 513.37 C1278.47 514.37 1278.54 515.37 1278.61 516.37 C1278.69 517.37 1278.76 518.38 1278.83 519.38 C1278.90 520.38 1278.97 521.38 1279.05 522.38 C1279.12 523.38 1279.19 524.38 1279.26 525.38 C1279.33 526.38 1279.40 527.38 1279.48 528.38 C1279.55 529.38 1279.62 530.38 1279.69 531.38 C1279.76 532.38 1279.83 533.38 1279.90 534.38 C1279.98 535.38 1280.05 536.38 1280.12 537.38 C1280.19 538.38 1280.26 539.38 1280.33 540.39 C1280.40 541.39 1280.47 542.39 1280.54 543.39 C1280.61 544.39 1280.69 545.39 1280.76 546.39 C1280.83 547.39 1280.90 548.39 1280.97 549.39 C1281.04 550.39 1281.11 551.39 1281.18 552.39 C1281.25 553.39 1281.32 554.39 1281.39 555.39 C1281.46 556.39 1281.53 557.40 1281.60 558.40 C1281.67 559.40 1281.74 560.40 1281.81 561.40 C1281.88 562.40 1281.95 563.40 1282.02 564.40 C1282.09 565.40 1282.17 566.40 1282.24 567.40 C1282.31 568.40 1282.38 569.40 1282.45 570.40 C1282.52 571.40 1282.59 572.41 1282.66 573.41 C1282.73 574.41 1282.79 575.41 1282.86 576.41 C1282.93 577.41 1283.00 578.41 1283.07 579.41 C1283.14 580.41 1283.21 581.41 1283.28 582.41 C1283.35 583.41 1283.42 584.41 1283.49 585.42 C1283.56 586.42 1283.63 587.42 1283.70 588.42 C1283.77 589.42 1283.84 590.42 1283.91 591.42 C1283.98 592.42 1284.05 593.42 1284.12 594.42 C1284.19 595.42 1284.26 596.42 1284.33 597.43 C1284.40 598.43 1284.46 599.43 1284.53 600.43 C1284.60 601.43 1284.67 602.43 1284.74 603.43 C1284.81 604.43 1284.88 605.43 1284.95 606.43 C1285.02 607.43 1285.09 608.43 1285.16 609.44 C1285.23 610.44 1285.29 611.44 1285.36 612.44 C1285.43 613.44 1285.50 614.44 1285.57 615.44 C1285.64 616.44 1285.71 617.44 1285.78 618.44 C1285.85 619.44 1285.92 620.44 1285.99 621.45 C1286.05 622.45 1286.12 623.45 1286.19 624.45 C1286.26 625.45 1286.33 626.45 1286.40 627.45 C1286.47 628.45 1286.54 629.45 1286.61 630.45 C1286.67 631.45 1286.74 632.46 1286.81 633.46 C1286.88 634.46 1286.95 635.46 1287.02 636.46 C1287.09 637.46 1287.16 638.46 1287.22 639.46 C1287.29 640.46 1287.36 641.46 1287.43 642.46 C1287.50 643.47 1287.57 644.47 1287.64 645.47 C1287.71 646.47 1287.77 647.47 1287.84 648.47 C1287.91 649.47 1287.98 650.47 1288.05 651.47 C1288.12 652.47 1288.19 653.48 1288.26 654.48 C1288.32 655.48 1288.39 656.48 1288.46 657.48 C1288.53 658.48 1288.60 659.48 1288.67 660.48 C1288.74 661.48 1288.80 662.48 1288.87 663.48 C1288.94 664.49 1289.01 665.49 1289.08 666.49 C1289.15 667.49 1289.22 668.49 1289.29 669.49 C1289.35 670.49 1289.42 671.49 1289.49 672.49 C1289.56 673.49 1289.63 674.49 1289.70 675.50 C1289.77 676.50 1289.84 677.50 1289.90 678.50 C1289.97 679.50 1290.04 680.50 1290.11 681.50 C1290.18 682.50 1290.25 683.50 1290.32 684.50 C1290.39 685.50 1290.45 686.51 1290.52 687.51 C1290.59 688.51 1290.66 689.51 1290.73 690.51 C1290.80 691.51 1290.87 692.51 1290.94 693.51 C1291.01 694.51 1291.07 695.51 1291.14 696.52 C1291.21 697.52 1291.28 698.52 1291.35 699.52 C1291.42 700.52 1291.49 701.52 1291.56 702.52 C1291.63 703.52 1291.69 704.52 1291.76 705.52 C1291.83 706.52 1291.90 707.52 1291.97 708.53 C1292.04 709.53 1292.11 710.53 1292.18 711.53 C1292.25 712.53 1292.32 713.53 1292.38 714.53 C1292.45 715.53 1292.52 716.53 1292.59 717.53 C1292.66 718.53 1292.73 719.54 1292.80 720.54 C1292.87 721.54 1292.94 722.54 1293.01 723.54 C1293.08 724.54 1293.15 725.54 1293.22 726.54 C1293.29 727.54 1293.35 728.54 1293.42 729.54 C1293.49 730.54 1293.56 731.55 1293.63 732.55 C1293.70 733.55 1293.77 734.55 1293.84 735.55 C1293.91 736.55 1293.98 737.55 1294.05 738.55 C1294.12 739.55 1294.19 740.55 1294.26 741.55 C1294.33 742.55 1294.40 743.55 1294.47 744.56 C1294.54 745.56 1294.61 746.56 1294.68 747.56 C1294.75 748.56 1294.82 749.56 1294.89 750.56 C1294.96 751.56 1295.03 752.56 1295.10 753.56 C1295.17 754.56 1295.24 755.56 1295.31 756.56 C1295.38 757.57 1295.45 758.57 1295.52 759.57 C1295.59 760.57 1295.66 761.57 1295.73 762.57 C1295.80 763.57 1295.87 764.57 1295.94 765.57 C1296.01 766.57 1296.08 767.57 1296.15 768.57 C1296.22 769.57 1296.29 770.57 1296.36 771.57 C1296.43 772.57 1296.50 773.58 1296.57 774.58 C1296.65 775.58 1296.72 776.58 1296.79 777.58 C1296.86 778.58 1296.93 779.58 1297.00 780.58 C1297.07 781.58 1297.14 782.58 1297.21 783.58 C1297.28 784.58 1297.35 785.58 1297.43 786.58 C1297.50 787.58 1297.57 788.58 1297.64 789.58 C1297.71 790.59 1297.78 791.59 1297.85 792.59 C1297.93 793.59 1298.00 794.59 1298.07 795.59 C1298.14 796.59 1298.21 797.59 1298.28 798.59 C1298.35 799.59 1298.43 800.59 1298.50 801.59 C1298.57 802.59 1298.64 803.59 1298.71 804.59 C1298.79 805.59 1298.86 806.59 1298.93 807.59 C1299.00 808.59 1299.07 809.59 1299.15 810.59 C1299.22 811.59 1299.29 812.59 1299.36 813.59 C1299.44 814.60 1299.51 815.60 1299.58 816.60 C1299.65 817.60 1299.73 818.60 1299.80 819.60 C1299.87 820.60 1299.94 821.60 1300.02 822.60 C1300.09 823.60 1300.16 824.60 1300.23 825.60 C1300.31 826.60 1300.38 827.60 1300.45 828.60 C1300.53 829.60 1300.60 830.60 1300.67 831.60 C1300.75 832.60 1300.82 833.60 1300.89 834.60 C1300.97 835.60 1301.04 836.60 1301.11 837.60 C1301.19 838.60 1301.26 839.60 1301.33 840.60 C1301.41 841.60 1301.48 842.60 1301.56 843.60 C1301.63 844.60 1301.70 845.60 1301.78 846.60 C1301.85 847.60 1301.93 848.60 1302.00 849.60 C1302.08 850.60 1302.15 851.60 1302.22 852.60 C1302.30 853.60 1302.37 854.60 1302.45 855.60 C1302.52 856.60 1302.60 857.60 1302.67 858.60 C1302.75 859.60 1302.82 860.60 1302.90 861.60 C1302.97 862.60 1303.05 863.60 1303.12 864.60 C1303.20 865.60 1303.27 866.60 1303.35 867.60 C1303.42 868.60 1303.50 869.60 1303.57 870.60 C1303.65 871.60 1303.73 872.60 1303.80 873.60 C1303.88 874.60 1303.95 875.60 1304.03 876.60 C1304.11 877.60 1304.18 878.60 1304.26 879.60 C1304.33 880.60 1304.41 881.60 1304.49 882.60 C1304.56 883.60 1304.64 884.60 1304.72 885.59 C1304.79 886.59 1304.87 887.59 1304.95 888.59 C1305.02 889.59 1305.10 890.59 1305.18 891.59 C1305.26 892.59 1305.33 893.59 1305.41 894.59 C1305.49 895.59 1305.57 896.59 1305.65 897.59 C1305.72 898.59 1305.80 899.59 1305.88 900.59 C1305.96 901.59 1306.04 902.59 1306.12 903.59 C1306.20 904.59 1306.28 905.58 1306.36 906.58 C1306.44 907.58 1306.52 908.58 1306.60 909.58 C1306.68 910.58 1306.76 911.58 1306.85 912.58 C1306.93 913.58 1307.01 914.58 1307.09 915.58 C1307.18 916.58 1307.26 917.58 1307.34 918.58 C1307.43 919.57 1307.51 920.57 1307.60 921.57 C1307.68 922.57 1307.77 923.57 1307.85 924.57 C1307.94 925.57 1308.02 926.57 1308.11 927.57 C1308.20 928.57 1308.29 929.56 1308.38 930.56 C1308.46 931.56 1308.55 932.56 1308.64 933.56 C1308.73 934.56 1308.82 935.56 1308.91 936.56 C1309.01 937.56 1309.10 938.55 1309.19 939.55 C1309.28 940.55 1309.38 941.55 1309.47 942.55 C1309.56 943.55 1309.66 944.55 1309.75 945.55 C1309.85 946.54 1309.95 947.54 1310.04 948.54 C1310.14 949.54 1310.24 950.54 1310.34 951.54 C1310.44 952.54 1310.54 953.54 1310.64 954.53 C1310.74 955.53 1310.84 956.53 1310.94 957.53 C1311.05 958.53 1311.15 959.53 1311.25 960.52 C1311.36 961.52 1311.46 962.52 1311.57 963.52 C1311.68 964.52 1311.79 965.52 1311.89 966.51 C1312.00 967.51 1312.11 968.51 1312.22 969.51 C1312.33 970.51 1312.45 971.51 1312.56 972.50 C1312.67 973.50 1312.78 974.50 1312.90 975.50 C1313.01 976.50 1313.13 977.49 1313.25 978.49 C1313.37 979.49 1313.48 980.49 1313.60 981.49 C1313.72 982.48 1313.85 983.48 1313.97 984.48 C1314.09 985.48 1314.21 986.48 1314.34 987.47 C1314.46 988.47 1314.59 989.47 1314.72 990.47 C1314.84 991.46 1314.97 992.46 1315.10 993.46 C1315.23 994.46 1315.36 995.46 1315.50 996.45 C1315.63 997.45 1315.76 998.45 1315.90 999.45 C1316.03 1000.44 1316.17 1001.44 1316.30 1002.44 C1316.44 1003.43 1316.58 1004.43 1316.72 1005.43 C1316.86 1006.42 1317.00 1007.42 1317.14 1008.42 C1317.28 1009.41 1317.42 1010.41 1317.57 1011.40 C1317.71 1012.40 1317.85 1013.40 1318.00 1014.39 C1318.14 1015.39 1318.29 1016.38 1318.44 1017.37 C1318.58 1018.37 1318.73 1019.36 1318.88 1020.36 C1319.03 1021.35 1319.18 1022.34 1319.33 1023.34 C1319.48 1024.33 1319.63 1025.32 1319.78 1026.31 C1319.93 1027.31 1320.08 1028.30 1320.23 1029.29 C1320.38 1030.28 1320.54 1031.27 1320.69 1032.26 C1320.84 1033.25 1321.00 1034.24 1321.15 1035.23 C1321.31 1036.22 1321.46 1037.21 1321.62 1038.19 C1321.77 1039.18 1321.93 1040.17 1322.09 1041.16 C1322.24 1042.14 1322.40 1043.13 1322.56 1044.11 C1322.71 1045.10 1322.87 1046.08 1323.03 1047.07 C1323.18 1048.05 1323.34 1049.04 1323.50 1050.02 C1323.66 1051.00 1323.82 1051.98 1323.97 1052.96 C1324.13 1053.94 1324.29 1054.92 1324.45 1055.90 C1324.61 1056.88 1324.77 1057.86 1324.93 1058.84 C1325.09 1059.82 1325.24 1060.79 1325.41 1061.77 C1325.57 1062.75 1325.73 1063.72 1325.89 1064.70 C1326.06 1065.68 1326.22 1066.65 1326.39 1067.63 C1326.56 1068.61 1326.72 1069.58 1326.90 1070.56 C1327.07 1071.54 1327.24 1072.51 1327.42 1073.49 C1327.60 1074.47 1327.78 1075.45 1327.97 1076.42 C1328.16 1077.40 1328.35 1078.38 1328.54 1079.36 C1328.73 1080.34 1328.93 1081.33 1329.14 1082.31 C1329.34 1083.29 1329.55 1084.28 1329.76 1085.26 C1329.98 1086.25 1330.20 1087.23 1330.42 1088.22 C1330.65 1089.21 1330.88 1090.20 1331.12 1091.19 C1331.36 1092.18 1331.60 1093.18 1331.86 1094.17 C1332.11 1095.17 1332.37 1096.17 1332.64 1097.17 C1332.91 1098.17 1333.18 1099.17 1333.47 1100.18 C1333.75 1101.18 1334.04 1102.19 1334.34 1103.20 C1334.65 1104.20 1334.96 1105.21 1335.29 1106.21 C1335.62 1107.20 1335.96 1108.20 1336.32 1109.17 C1336.68 1110.15 1337.06 1111.12 1337.45 1112.06 C1337.85 1113.01 1338.26 1113.95 1338.70 1114.85 C1339.14 1115.76 1339.60 1116.65 1340.09 1117.51 C1340.58 1118.37 1341.09 1119.20 1341.63 1120.00 C1342.17 1120.80 1342.74 1121.57 1343.34 1122.30 C1343.94 1123.03 1344.57 1123.73 1345.24 1124.38 C1345.91 1125.03 1346.61 1125.64 1347.35 1126.20 C1348.08 1126.77 1348.86 1127.28 1349.67 1127.75 C1350.49 1128.21 1351.34 1128.62 1352.24 1128.97 C1353.14 1129.33 1354.08 1129.62 1355.06 1129.86 C1356.04 1130.11 1357.07 1130.28 1358.10 1130.43 C1359.14 1130.59 1360.21 1130.68 1361.28 1130.77 C1362.34 1130.85 1363.43 1130.90 1364.49 1130.94 C1365.56 1130.99 1366.62 1131.01 1367.66 1131.03 C1368.71 1131.06 1369.74 1131.07 1370.76 1131.08 C1371.78 1131.10 1372.78 1131.10 1373.79 1131.10 C1374.79 1131.11 1375.78 1131.10 1376.77 1131.10 C1377.76 1131.09 1378.74 1131.08 1379.73 1131.07 C1380.71 1131.06 1381.69 1131.05 1382.68 1131.04 C1383.66 1131.03 1384.64 1131.01 1385.63 1131.00 C1386.62 1130.98 1387.60 1130.97 1388.59 1130.96 C1389.58 1130.94 1390.57 1130.93 1391.57 1130.91 C1392.56 1130.90 1393.55 1130.89 1394.55 1130.87 C1395.55 1130.86 1396.54 1130.85 1397.54 1130.84 C1398.54 1130.83 1399.54 1130.81 1400.54 1130.81 C1401.54 1130.80 1402.54 1130.79 1403.54 1130.78 C1404.55 1130.78 1405.55 1130.77 1406.56 1130.77 C1407.56 1130.77 1408.57 1130.77 1409.57 1130.77 C1410.58 1130.77 1411.59 1130.78 1412.59 1130.79 C1413.60 1130.79 1414.61 1130.80 1415.62 1130.82 C1416.63 1130.83 1417.64 1130.85 1418.65 1130.86 C1419.66 1130.88 1420.67 1130.91 1421.68 1130.93 C1422.69 1130.96 1423.70 1130.99 1424.72 1131.02 C1425.73 1131.06 1426.74 1131.10 1427.75 1131.14 C1428.76 1131.18 1429.78 1131.23 1430.79 1131.28 C1431.80 1131.32 1432.81 1131.37 1433.82 1131.42 C1434.83 1131.46 1435.84 1131.50 1436.85 1131.54 C1437.86 1131.57 1438.86 1131.60 1439.87 1131.62 C1440.87 1131.64 1441.88 1131.65 1442.88 1131.65 C1443.88 1131.64 1444.87 1131.63 1445.87 1131.59 C1446.86 1131.55 1447.86 1131.51 1448.84 1131.43 C1449.83 1131.36 1450.82 1131.27 1451.80 1131.15 C1452.78 1131.03 1453.76 1130.89 1454.73 1130.73 C1455.70 1130.56 1456.67 1130.36 1457.64 1130.14 C1458.60 1129.92 1459.56 1129.68 1460.52 1129.42 C1461.48 1129.16 1462.44 1128.87 1463.39 1128.58 C1464.35 1128.28 1465.30 1127.97 1466.25 1127.65 C1467.20 1127.33 1468.15 1127.00 1469.10 1126.67 C1470.05 1126.33 1471.01 1125.99 1471.96 1125.65 C1472.91 1125.31 1473.86 1124.96 1474.81 1124.61 C1475.77 1124.27 1476.72 1123.92 1477.67 1123.58 C1478.63 1123.24 1479.58 1122.90 1480.54 1122.57 C1481.49 1122.23 1482.45 1121.90 1483.41 1121.58 C1484.37 1121.27 1485.33 1120.95 1486.29 1120.65 C1487.25 1120.36 1488.22 1120.07 1489.18 1119.79 C1490.15 1119.52 1491.12 1119.26 1492.09 1119.01 C1493.06 1118.77 1494.03 1118.54 1495.00 1118.34 C1495.98 1118.13 1496.95 1117.94 1497.94 1117.77 C1498.92 1117.61 1499.90 1117.46 1500.88 1117.35 C1501.87 1117.23 1502.86 1117.13 1503.85 1117.07 C1504.84 1117.01 1505.83 1116.97 1506.83 1116.98 C1507.82 1116.98 1508.82 1117.02 1509.81 1117.10 C1510.81 1117.18 1511.81 1117.29 1512.80 1117.46 C1513.79 1117.63 1514.79 1117.85 1515.78 1118.10 C1516.77 1118.35 1517.76 1118.68 1518.74 1118.96 C1519.73 1119.25 1520.70 1119.58 1521.67 1119.81 C1522.63 1120.04 1523.58 1120.27 1524.51 1120.36 C1525.45 1120.45 1526.36 1120.47 1527.26 1120.35 C1528.16 1120.22 1529.03 1119.96 1529.90 1119.62 C1530.77 1119.28 1531.62 1118.81 1532.47 1118.31 C1533.32 1117.80 1534.15 1117.21 1535.00 1116.60 C1535.85 1116.00 1536.69 1115.32 1537.55 1114.68 C1538.40 1114.03 1539.26 1113.34 1540.14 1112.71 C1541.02 1112.07 1541.92 1111.43 1542.83 1110.87 C1543.74 1110.31 1544.68 1109.77 1545.61 1109.33 C1546.54 1108.89 1547.49 1108.49 1548.42 1108.22 C1549.36 1107.95 1550.31 1107.75 1551.23 1107.69 C1552.16 1107.62 1553.08 1107.69 1553.99 1107.85 C1554.90 1108.02 1555.80 1108.32 1556.69 1108.68 C1557.58 1109.04 1558.46 1109.50 1559.33 1110.00 C1560.21 1110.49 1561.07 1111.07 1561.93 1111.65 C1562.80 1112.23 1563.65 1112.85 1564.50 1113.46 C1565.35 1114.07 1566.20 1114.69 1567.04 1115.31 C1567.89 1115.92 1568.73 1116.54 1569.57 1117.16 C1570.41 1117.77 1571.25 1118.38 1572.09 1118.98 C1572.94 1119.58 1573.78 1120.17 1574.62 1120.75 C1575.47 1121.33 1576.31 1121.90 1577.17 1122.45 C1578.02 1122.99 1578.87 1123.53 1579.74 1124.04 C1580.60 1124.55 1581.47 1125.05 1582.34 1125.51 C1583.22 1125.97 1584.10 1126.42 1585.00 1126.83 C1585.89 1127.24 1586.79 1127.62 1587.70 1127.97 C1588.62 1128.32 1589.54 1128.64 1590.47 1128.92 C1591.40 1129.21 1592.35 1129.47 1593.30 1129.70 C1594.25 1129.93 1595.21 1130.13 1596.18 1130.31 C1597.14 1130.49 1598.12 1130.64 1599.10 1130.78 C1600.08 1130.91 1601.07 1131.02 1602.06 1131.11 C1603.05 1131.21 1604.05 1131.28 1605.06 1131.34 C1606.06 1131.40 1607.07 1131.44 1608.08 1131.47 C1609.09 1131.50 1610.11 1131.51 1611.13 1131.52 C1612.14 1131.52 1613.16 1131.52 1614.19 1131.50 C1615.21 1131.49 1616.23 1131.47 1617.26 1131.44 C1618.28 1131.42 1619.31 1131.39 1620.33 1131.35 C1621.35 1131.32 1622.38 1131.29 1623.40 1131.25 C1624.42 1131.22 1625.44 1131.18 1626.46 1131.15 C1627.48 1131.12 1628.50 1131.09 1629.51 1131.07 C1630.52 1131.05 1631.53 1131.03 1632.54 1131.02 C1633.55 1131.00 1634.56 1130.99 1635.56 1130.98 C1636.56 1130.98 1637.57 1130.97 1638.57 1130.97 C1639.57 1130.97 1640.57 1130.97 1641.56 1130.97 C1642.56 1130.97 1643.56 1130.98 1644.56 1130.98 C1645.55 1130.99 1646.55 1131.00 1647.54 1131.00 C1648.54 1131.01 1649.53 1131.02 1650.53 1131.03 C1651.52 1131.04 1652.51 1131.05 1653.51 1131.06 C1654.50 1131.07 1655.50 1131.08 1656.50 1131.09 C1657.49 1131.10 1658.49 1131.11 1659.49 1131.11 C1660.48 1131.12 1661.48 1131.13 1662.48 1131.14 C1663.48 1131.14 1664.48 1131.15 1665.48 1131.16 C1666.48 1131.16 1667.48 1131.17 1668.48 1131.17 C1669.48 1131.18 1670.48 1131.18 1671.48 1131.19 C1672.48 1131.19 1673.49 1131.19 1674.49 1131.20 C1675.49 1131.20 1676.49 1131.20 1677.50 1131.21 C1678.50 1131.21 1679.50 1131.21 1680.51 1131.22 C1681.51 1131.22 1682.51 1131.22 1683.52 1131.22 C1684.52 1131.22 1685.53 1131.23 1686.53 1131.23 C1687.54 1131.23 1688.54 1131.23 1689.55 1131.23 C1690.55 1131.23 1691.56 1131.23 1692.56 1131.24 C1693.57 1131.24 1694.57 1131.24 1695.58 1131.24 C1696.58 1131.24 1697.59 1131.24 1698.59 1131.24 C1699.60 1131.24 1700.61 1131.24 1701.61 1131.24 C1702.62 1131.24 1703.62 1131.24 1704.63 1131.24 C1705.63 1131.24 1706.64 1131.24 1707.64 1131.25 C1708.65 1131.25 1709.65 1131.25 1710.66 1131.25 C1711.66 1131.25 1712.67 1131.25 1713.67 1131.25 C1714.68 1131.25 1715.68 1131.25 1716.69 1131.25 C1717.69 1131.26 1718.70 1131.26 1719.70 1131.26 C1720.70 1131.26 1721.71 1131.26 1722.71 1131.26 C1723.72 1131.27 1724.72 1131.27 1725.72 1131.27 C1726.73 1131.27 1727.73 1131.27 1728.73 1131.27 C1729.74 1131.28 1730.74 1131.28 1731.74 1131.28 C1732.75 1131.28 1733.75 1131.29 1734.75 1131.29 C1735.76 1131.29 1736.76 1131.29 1737.76 1131.29 C1738.76 1131.30 1739.77 1131.30 1740.77 1131.30 C1741.77 1131.30 1742.78 1131.31 1743.78 1131.31 C1744.78 1131.31 1745.78 1131.32 1746.79 1131.32 C1747.79 1131.32 1748.79 1131.32 1749.79 1131.33 C1750.80 1131.33 1751.80 1131.33 1752.80 1131.33 C1753.80 1131.34 1754.80 1131.34 1755.81 1131.34 C1756.81 1131.35 1757.81 1131.35 1758.81 1131.35 C1759.81 1131.35 1760.82 1131.36 1761.82 1131.36 C1762.82 1131.36 1763.82 1131.37 1764.83 1131.37 C1765.83 1131.37 1766.83 1131.37 1767.83 1131.38 C1768.83 1131.38 1769.84 1131.38 1770.84 1131.39 C1771.84 1131.39 1772.84 1131.39 1773.84 1131.39 C1774.85 1131.40 1775.85 1131.40 1776.85 1131.40 C1777.85 1131.41 1778.86 1131.41 1779.86 1131.41 C1780.86 1131.41 1781.86 1131.42 1782.87 1131.42 C1783.87 1131.42 1784.87 1131.43 1785.87 1131.43 C1786.88 1131.43 1787.88 1131.43 1788.88 1131.44 C1789.88 1131.44 1790.89 1131.44 1791.89 1131.44 C1792.89 1131.45 1793.89 1131.45 1794.90 1131.45 C1795.90 1131.45 1796.90 1131.46 1797.91 1131.46 C1798.91 1131.46 1799.91 1131.46 1800.92 1131.46 C1801.92 1131.47 1802.92 1131.47 1803.93 1131.47 C1804.93 1131.47 1805.93 1131.47 1806.94 1131.48 C1807.94 1131.48 1808.95 1131.48 1809.95 1131.48 C1810.95 1131.48 1811.96 1131.48 1812.96 1131.49 C1813.97 1131.49 1814.97 1131.49 1815.98 1131.49 C1816.98 1131.49 1817.99 1131.49 1818.99 1131.49 C1820.00 1131.49 1821.50 1131.50 1822.01 1131.50" fill="none" stroke="#0000ff" stroke-width="9.20" stroke-linecap="butt" stroke-linejoin="round"/>
<path d="M1203.98 588.96 C1204.46 588.93 1205.86 588.77 1206.85 588.76 C1207.85 588.74 1208.91 588.81 1209.96 588.85 C1211.00 588.89 1212.09 588.97 1213.14 588.97 C1214.18 588.97 1215.24 588.97 1216.23 588.83 C1217.21 588.70 1218.18 588.52 1219.07 588.17 C1219.95 587.82 1220.76 587.32 1221.52 586.73 C1222.27 586.14 1222.95 585.40 1223.58 584.62 C1224.22 583.84 1224.79 582.94 1225.34 582.04 C1225.88 581.14 1226.38 580.17 1226.86 579.22 C1227.33 578.28 1227.78 577.32 1228.20 576.37 C1228.63 575.43 1229.03 574.49 1229.42 573.56 C1229.80 572.63 1230.16 571.70 1230.51 570.78 C1230.86 569.85 1231.19 568.93 1231.51 568.00 C1231.83 567.07 1232.13 566.15 1232.42 565.22 C1232.71 564.28 1232.99 563.35 1233.26 562.41 C1233.53 561.47 1233.79 560.52 1234.04 559.56 C1234.29 558.60 1234.54 557.63 1234.78 556.66 C1235.03 555.68 1235.26 554.70 1235.50 553.71 C1235.74 552.72 1235.98 551.72 1236.22 550.72 C1236.46 549.72 1236.69 548.71 1236.94 547.71 C1237.19 546.70 1237.43 545.70 1237.69 544.69 C1237.95 543.69 1238.21 542.68 1238.49 541.68 C1238.76 540.68 1239.05 539.69 1239.35 538.69 C1239.64 537.70 1239.95 536.72 1240.28 535.74 C1240.61 534.77 1240.95 533.80 1241.31 532.84 C1241.67 531.88 1242.05 530.93 1242.45 530.00 C1242.86 529.06 1243.28 528.14 1243.72 527.23 C1244.17 526.33 1244.64 525.43 1245.14 524.56 C1245.64 523.69 1246.17 522.83 1246.72 522.00 C1247.28 521.16 1247.87 520.28 1248.48 519.57 C1249.09 518.85 1249.74 518.10 1250.38 517.70 C1251.03 517.30 1251.70 517.07 1252.35 517.19 C1253.00 517.30 1253.66 517.80 1254.28 518.41 C1254.91 519.01 1255.53 519.93 1256.08 520.82 C1256.64 521.71 1257.17 522.76 1257.64 523.74 C1258.10 524.73 1258.51 525.73 1258.88 526.73 C1259.25 527.73 1259.57 528.73 1259.85 529.74 C1260.14 530.74 1260.38 531.75 1260.59 532.76 C1260.81 533.77 1260.99 534.78 1261.15 535.79 C1261.32 536.80 1261.45 537.81 1261.58 538.82 C1261.70 539.83 1261.80 540.85 1261.91 541.86 C1262.01 542.87 1262.10 543.88 1262.19 544.89 C1262.28 545.90 1262.37 546.91 1262.47 547.92 C1262.56 548.93 1262.66 549.93 1262.76 550.94 C1262.85 551.95 1262.95 552.95 1263.05 553.95 C1263.15 554.96 1263.25 555.96 1263.36 556.96 C1263.46 557.96 1263.56 558.97 1263.66 559.97 C1263.77 560.97 1263.87 561.97 1263.98 562.96 C1264.08 563.96 1264.19 564.96 1264.29 565.96 C1264.40 566.96 1264.51 567.96 1264.61 568.95 C1264.72 569.95 1264.83 570.95 1264.93 571.94 C1265.04 572.94 1265.15 573.94 1265.25 574.93 C1265.36 575.93 1265.46 576.93 1265.57 577.92 C1265.68 578.92 1265.78 579.91 1265.89 580.91 C1265.99 581.91 1266.09 582.90 1266.20 583.90 C1266.30 584.89 1266.40 585.89 1266.50 586.89 C1266.61 587.89 1266.71 588.88 1266.81 589.88 C1266.91 590.88 1267.01 591.87 1267.10 592.87 C1267.20 593.87 1267.30 594.87 1267.40 595.87 C1267.49 596.86 1267.59 597.86 1267.68 598.86 C1267.78 599.86 1267.87 600.86 1267.97 601.86 C1268.06 602.86 1268.16 603.86 1268.25 604.86 C1268.34 605.85 1268.43 606.85 1268.53 607.85 C1268.62 608.85 1268.71 609.85 1268.80 610.85 C1268.89 611.85 1268.98 612.85 1269.07 613.85 C1269.16 614.85 1269.25 615.85 1269.34 616.85 C1269.43 617.85 1269.52 618.85 1269.61 619.86 C1269.70 620.86 1269.78 621.86 1269.87 622.86 C1269.96 623.86 1270.05 624.86 1270.14 625.86 C1270.22 626.86 1270.31 627.86 1270.40 628.86 C1270.49 629.86 1270.57 630.87 1270.66 631.87 C1270.75 632.87 1270.83 633.87 1270.92 634.87 C1271.01 635.87 1271.09 636.87 1271.18 637.87 C1271.27 638.88 1271.36 639.88 1271.44 640.88 C1271.53 641.88 1271.62 642.88 1271.70 643.88 C1271.79 644.88 1271.88 645.89 1271.97 646.89 C1272.05 647.89 1272.14 648.89 1272.23 649.89 C1272.32 650.89 1272.41 651.89 1272.49 652.90 C1272.58 653.90 1272.67 654.90 1272.76 655.90 C1272.85 656.90 1272.94 657.90 1273.03 658.90 C1273.12 659.90 1273.21 660.91 1273.30 661.91 C1273.39 662.91 1273.48 663.91 1273.57 664.91 C1273.66 665.91 1273.75 666.91 1273.84 667.91 C1273.93 668.91 1274.03 669.91 1274.12 670.92 C1274.21 671.92 1274.30 672.92 1274.39 673.92 C1274.49 674.92 1274.58 675.92 1274.67 676.92 C1274.76 677.92 1274.86 678.92 1274.95 679.92 C1275.04 680.92 1275.14 681.92 1275.23 682.92 C1275.32 683.92 1275.42 684.93 1275.51 685.93 C1275.61 686.93 1275.70 687.93 1275.80 688.93 C1275.89 689.93 1275.99 690.93 1276.08 691.93 C1276.18 692.93 1276.27 693.93 1276.37 694.93 C1276.46 695.93 1276.56 696.93 1276.66 697.93 C1276.75 698.93 1276.85 699.93 1276.94 700.93 C1277.04 701.93 1277.14 702.93 1277.23 703.93 C1277.33 704.93 1277.43 705.93 1277.53 706.93 C1277.62 707.93 1277.72 708.93 1277.82 709.93 C1277.92 710.93 1278.02 711.93 1278.11 712.93 C1278.21 713.93 1278.31 714.93 1278.41 715.93 C1278.51 716.93 1278.61 717.93 1278.71 718.93 C1278.80 719.93 1278.90 720.93 1279.00 721.93 C1279.10 722.93 1279.20 723.93 1279.30 724.93 C1279.40 725.93 1279.50 726.93 1279.60 727.93 C1279.70 728.93 1279.80 729.93 1279.90 730.93 C1280.00 731.93 1280.11 732.93 1280.21 733.93 C1280.31 734.93 1280.41 735.93 1280.51 736.93 C1280.61 737.93 1280.71 738.93 1280.81 739.93 C1280.92 740.93 1281.02 741.93 1281.12 742.92 C1281.22 743.92 1281.32 744.92 1281.43 745.92 C1281.53 746.92 1281.63 747.92 1281.73 748.92 C1281.84 749.92 1281.94 750.92 1282.04 751.92 C1282.14 752.92 1282.25 753.92 1282.35 754.92 C1282.45 755.92 1282.56 756.92 1282.66 757.92 C1282.76 758.91 1282.87 759.91 1282.97 760.91 C1283.08 761.91 1283.18 762.91 1283.28 763.91 C1283.39 764.91 1283.49 765.91 1283.60 766.91 C1283.70 767.91 1283.80 768.91 1283.91 769.91 C1284.01 770.91 1284.12 771.90 1284.22 772.90 C1284.33 773.90 1284.43 774.90 1284.54 775.90 C1284.64 776.90 1284.75 777.90 1284.85 778.90 C1284.96 779.90 1285.06 780.90 1285.17 781.90 C1285.28 782.89 1285.38 783.89 1285.49 784.89 C1285.59 785.89 1285.70 786.89 1285.80 787.89 C1285.91 788.89 1286.02 789.89 1286.12 790.89 C1286.23 791.89 1286.33 792.88 1286.44 793.88 C1286.55 794.88 1286.65 795.88 1286.76 796.88 C1286.87 797.88 1286.97 798.88 1287.08 799.88 C1287.19 800.88 1287.29 801.87 1287.40 802.87 C1287.51 803.87 1287.61 804.87 1287.72 805.87 C1287.83 806.87 1287.94 807.87 1288.04 808.87 C1288.15 809.87 1288.26 810.86 1288.37 811.86 C1288.47 812.86 1288.58 813.86 1288.69 814.86 C1288.80 815.86 1288.90 816.86 1289.01 817.86 C1289.12 818.86 1289.23 819.85 1289.33 820.85 C1289.44 821.85 1289.55 822.85 1289.66 823.85 C1289.76 824.85 1289.87 825.85 1289.98 826.85 C1290.09 827.84 1290.20 828.84 1290.30 829.84 C1290.41 830.84 1290.52 831.84 1290.63 832.84 C1290.74 833.84 1290.85 834.84 1290.95 835.83 C1291.06 836.83 1291.17 837.83 1291.28 838.83 C1291.39 839.83 1291.49 840.83 1291.60 841.83 C1291.71 842.83 1291.82 843.82 1291.93 844.82 C1292.04 845.82 1292.15 846.82 1292.25 847.82 C1292.36 848.82 1292.47 849.82 1292.58 850.82 C1292.69 851.81 1292.80 852.81 1292.91 853.81 C1293.01 854.81 1293.12 855.81 1293.23 856.81 C1293.34 857.81 1293.45 858.80 1293.56 859.80 C1293.67 860.80 1293.77 861.80 1293.88 862.80 C1293.99 863.80 1294.10 864.80 1294.21 865.80 C1294.32 866.79 1294.43 867.79 1294.53 868.79 C1294.64 869.79 1294.75 870.79 1294.86 871.79 C1294.97 872.79 1295.08 873.79 1295.19 874.78 C1295.29 875.78 1295.40 876.78 1295.51 877.78 C1295.62 878.78 1295.73 879.78 1295.84 880.78 C1295.95 881.78 1296.05 882.77 1296.16 883.77 C1296.27 884.77 1296.38 885.77 1296.49 886.77 C1296.60 887.77 1296.70 888.77 1296.81 889.77 C1296.92 890.77 1297.03 891.76 1297.14 892.76 C1297.25 893.76 1297.35 894.76 1297.46 895.76 C1297.57 896.76 1297.68 897.76 1297.79 898.76 C1297.89 899.75 1298.00 900.75 1298.11 901.75 C1298.22 902.75 1298.33 903.75 1298.43 904.75 C1298.54 905.75 1298.65 906.75 1298.76 907.75 C1298.87 908.75 1298.97 909.74 1299.08 910.74 C1299.19 911.74 1299.30 912.74 1299.40 913.74 C1299.51 914.74 1299.62 915.74 1299.73 916.74 C1299.83 917.74 1299.94 918.73 1300.05 919.73 C1300.15 920.73 1300.26 921.73 1300.37 922.73 C1300.48 923.73 1300.58 924.73 1300.69 925.73 C1300.80 926.73 1300.90 927.73 1301.01 928.73 C1301.12 929.72 1301.22 930.72 1301.33 931.72 C1301.44 932.72 1301.54 933.72 1301.65 934.72 C1301.76 935.72 1301.86 936.72 1301.97 937.72 C1302.07 938.72 1302.18 939.72 1302.29 940.72 C1302.39 941.71 1302.50 942.71 1302.60 943.71 C1302.71 944.71 1302.82 945.71 1302.92 946.71 C1303.03 947.71 1303.13 948.71 1303.24 949.71 C1303.34 950.71 1303.45 951.71 1303.55 952.71 C1303.66 953.71 1303.77 954.71 1303.87 955.71 C1303.98 956.70 1304.08 957.70 1304.19 958.70 C1304.30 959.70 1304.40 960.70 1304.51 961.70 C1304.62 962.70 1304.72 963.70 1304.83 964.70 C1304.94 965.70 1305.05 966.70 1305.16 967.69 C1305.27 968.69 1305.38 969.69 1305.49 970.69 C1305.60 971.69 1305.71 972.69 1305.82 973.69 C1305.94 974.68 1306.05 975.68 1306.16 976.68 C1306.28 977.68 1306.39 978.68 1306.51 979.67 C1306.63 980.67 1306.75 981.67 1306.87 982.66 C1306.98 983.66 1307.11 984.66 1307.23 985.66 C1307.35 986.65 1307.47 987.65 1307.60 988.65 C1307.72 989.64 1307.85 990.64 1307.98 991.63 C1308.11 992.63 1308.23 993.63 1308.37 994.62 C1308.50 995.62 1308.63 996.61 1308.77 997.61 C1308.90 998.60 1309.04 999.59 1309.18 1000.59 C1309.32 1001.58 1309.46 1002.58 1309.60 1003.57 C1309.74 1004.56 1309.89 1005.56 1310.04 1006.55 C1310.19 1007.54 1310.34 1008.53 1310.49 1009.53 C1310.64 1010.52 1310.79 1011.51 1310.95 1012.50 C1311.11 1013.49 1311.27 1014.48 1311.43 1015.47 C1311.59 1016.47 1311.76 1017.46 1311.93 1018.44 C1312.09 1019.43 1312.26 1020.42 1312.44 1021.41 C1312.61 1022.40 1312.79 1023.39 1312.97 1024.38 C1313.14 1025.37 1313.33 1026.35 1313.51 1027.34 C1313.70 1028.33 1313.88 1029.31 1314.08 1030.30 C1314.27 1031.29 1314.46 1032.27 1314.66 1033.26 C1314.86 1034.24 1315.06 1035.22 1315.26 1036.21 C1315.47 1037.19 1315.68 1038.18 1315.89 1039.16 C1316.10 1040.14 1316.31 1041.12 1316.53 1042.11 C1316.75 1043.09 1316.96 1044.07 1317.19 1045.05 C1317.41 1046.03 1317.63 1047.01 1317.85 1048.00 C1318.08 1048.98 1318.30 1049.96 1318.53 1050.94 C1318.76 1051.92 1318.99 1052.90 1319.22 1053.88 C1319.45 1054.86 1319.68 1055.84 1319.91 1056.82 C1320.14 1057.80 1320.37 1058.78 1320.60 1059.76 C1320.83 1060.74 1321.07 1061.72 1321.30 1062.70 C1321.53 1063.68 1321.76 1064.66 1321.99 1065.64 C1322.22 1066.62 1322.45 1067.60 1322.68 1068.59 C1322.90 1069.57 1323.13 1070.55 1323.35 1071.53 C1323.58 1072.51 1323.80 1073.49 1324.02 1074.48 C1324.25 1075.46 1324.47 1076.44 1324.68 1077.43 C1324.90 1078.41 1325.11 1079.39 1325.33 1080.38 C1325.54 1081.36 1325.74 1082.35 1325.95 1083.33 C1326.16 1084.32 1326.36 1085.31 1326.56 1086.29 C1326.77 1087.27 1326.97 1088.26 1327.18 1089.24 C1327.39 1090.22 1327.60 1091.20 1327.82 1092.17 C1328.04 1093.14 1328.26 1094.11 1328.49 1095.08 C1328.73 1096.04 1328.97 1097.00 1329.22 1097.95 C1329.48 1098.90 1329.74 1099.84 1330.02 1100.77 C1330.31 1101.71 1330.60 1102.63 1330.91 1103.56 C1331.22 1104.48 1331.55 1105.40 1331.89 1106.31 C1332.23 1107.23 1332.59 1108.15 1332.96 1109.07 C1333.34 1109.99 1333.73 1110.91 1334.13 1111.85 C1334.54 1112.78 1334.96 1113.71 1335.41 1114.66 C1335.85 1115.61 1336.31 1116.58 1336.78 1117.55 C1337.26 1118.51 1337.76 1119.52 1338.28 1120.48 C1338.81 1121.44 1339.35 1122.42 1339.94 1123.31 C1340.52 1124.20 1341.13 1125.08 1341.80 1125.84 C1342.46 1126.61 1343.16 1127.30 1343.91 1127.89 C1344.66 1128.49 1345.46 1128.98 1346.28 1129.41 C1347.11 1129.83 1347.98 1130.17 1348.87 1130.46 C1349.76 1130.75 1350.69 1130.97 1351.63 1131.15 C1352.58 1131.33 1353.55 1131.45 1354.53 1131.55 C1355.51 1131.65 1356.52 1131.70 1357.53 1131.74 C1358.53 1131.78 1359.55 1131.80 1360.57 1131.81 C1361.59 1131.83 1362.61 1131.84 1363.63 1131.85 C1364.65 1131.86 1365.67 1131.87 1366.69 1131.88 C1367.71 1131.89 1368.72 1131.90 1369.74 1131.91 C1370.76 1131.92 1371.77 1131.93 1372.79 1131.94 C1373.80 1131.94 1374.82 1131.95 1375.83 1131.96 C1376.85 1131.97 1377.86 1131.97 1378.88 1131.98 C1379.89 1131.99 1380.90 1131.99 1381.91 1132.00 C1382.93 1132.00 1383.94 1132.01 1384.95 1132.01 C1385.96 1132.02 1386.97 1132.02 1387.98 1132.03 C1388.99 1132.03 1390.01 1132.04 1391.01 1132.04 C1392.02 1132.04 1393.03 1132.05 1394.04 1132.05 C1395.05 1132.05 1396.06 1132.05 1397.07 1132.06 C1398.08 1132.06 1399.09 1132.06 1400.09 1132.06 C1401.10 1132.06 1402.11 1132.07 1403.11 1132.07 C1404.12 1132.07 1405.13 1132.07 1406.13 1132.07 C1407.14 1132.07 1408.15 1132.07 1409.15 1132.07 C1410.16 1132.07 1411.16 1132.07 1412.17 1132.07 C1413.17 1132.07 1414.18 1132.07 1415.18 1132.07 C1416.19 1132.07 1417.19 1132.07 1418.20 1132.07 C1419.20 1132.07 1420.21 1132.07 1421.21 1132.07 C1422.21 1132.07 1423.22 1132.07 1424.22 1132.07 C1425.23 1132.07 1426.23 1132.06 1427.23 1132.06 C1428.24 1132.06 1429.24 1132.06 1430.24 1132.06 C1431.25 1132.06 1432.25 1132.06 1433.25 1132.06 C1434.26 1132.05 1435.26 1132.05 1436.26 1132.05 C1437.26 1132.05 1438.27 1132.05 1439.27 1132.05 C1440.27 1132.05 1441.28 1132.04 1442.28 1132.04 C1443.28 1132.04 1444.29 1132.04 1445.29 1132.04 C1446.29 1132.04 1447.29 1132.04 1448.30 1132.03 C1449.30 1132.03 1450.30 1132.03 1451.31 1132.03 C1452.31 1132.03 1453.31 1132.03 1454.32 1132.03 C1455.32 1132.03 1456.32 1132.03 1457.33 1132.03 C1458.33 1132.02 1459.33 1132.02 1460.34 1132.02 C1461.34 1132.02 1462.34 1132.02 1463.35 1132.02 C1464.35 1132.02 1465.35 1132.02 1466.36 1132.02 C1467.36 1132.02 1468.36 1132.02 1469.37 1132.02 C1470.37 1132.02 1471.37 1132.02 1472.38 1132.01 C1473.38 1132.01 1474.38 1132.01 1475.39 1132.01 C1476.39 1132.01 1477.40 1132.01 1478.40 1132.01 C1479.40 1132.01 1480.41 1132.01 1481.41 1132.01 C1482.41 1132.01 1483.42 1132.01 1484.42 1132.01 C1485.43 1132.01 1486.43 1132.01 1487.43 1132.01 C1488.44 1132.01 1489.44 1132.01 1490.44 1132.01 C1491.45 1132.01 1492.45 1132.01 1493.46 1132.01 C1494.46 1132.01 1495.46 1132.01 1496.47 1132.01 C1497.47 1132.01 1498.48 1132.01 1499.48 1132.01 C1500.48 1132.01 1501.49 1132.01 1502.49 1132.01 C1503.50 1132.01 1504.50 1132.01 1505.50 1132.01 C1506.51 1132.01 1507.51 1132.01 1508.52 1132.01 C1509.52 1132.01 1510.52 1132.01 1511.53 1132.02 C1512.53 1132.02 1513.54 1132.02 1514.54 1132.02 C1515.55 1132.02 1516.55 1132.02 1517.55 1132.02 C1518.56 1132.02 1519.56 1132.02 1520.57 1132.02 C1521.57 1132.02 1522.58 1132.02 1523.58 1132.02 C1524.58 1132.02 1525.59 1132.02 1526.59 1132.03 C1527.60 1132.03 1528.60 1132.03 1529.61 1132.03 C1530.61 1132.03 1531.61 1132.03 1532.62 1132.03 C1533.62 1132.03 1534.63 1132.03 1535.63 1132.03 C1536.64 1132.03 1537.64 1132.04 1538.65 1132.04 C1539.65 1132.04 1540.66 1132.04 1541.66 1132.04 C1542.66 1132.04 1543.67 1132.04 1544.67 1132.04 C1545.68 1132.04 1546.68 1132.04 1547.69 1132.05 C1548.69 1132.05 1549.70 1132.05 1550.70 1132.05 C1551.71 1132.05 1552.71 1132.05 1553.72 1132.05 C1554.72 1132.05 1555.72 1132.06 1556.73 1132.06 C1557.73 1132.06 1558.74 1132.06 1559.74 1132.06 C1560.75 1132.06 1561.75 1132.06 1562.76 1132.07 C1563.76 1132.07 1564.77 1132.07 1565.77 1132.07 C1566.78 1132.07 1567.78 1132.07 1568.79 1132.07 C1569.79 1132.08 1570.80 1132.08 1571.80 1132.08 C1572.81 1132.08 1573.81 1132.08 1574.82 1132.08 C1575.82 1132.09 1576.83 1132.09 1577.83 1132.09 C1578.84 1132.09 1579.84 1132.09 1580.84 1132.09 C1581.85 1132.10 1582.85 1132.10 1583.86 1132.10 C1584.86 1132.10 1585.87 1132.10 1586.87 1132.10 C1587.88 1132.11 1588.88 1132.11 1589.89 1132.11 C1590.89 1132.11 1591.90 1132.11 1592.90 1132.11 C1593.91 1132.12 1594.91 1132.12 1595.92 1132.12 C1596.92 1132.12 1597.93 1132.12 1598.93 1132.12 C1599.94 1132.13 1600.94 1132.13 1601.95 1132.13 C1602.95 1132.13 1603.96 1132.13 1604.96 1132.14 C1605.97 1132.14 1606.97 1132.14 1607.98 1132.14 C1608.98 1132.14 1609.99 1132.15 1610.99 1132.15 C1612.00 1132.15 1613.00 1132.15 1614.01 1132.15 C1615.01 1132.16 1616.02 1132.16 1617.03 1132.16 C1618.03 1132.16 1619.04 1132.16 1620.04 1132.17 C1621.05 1132.17 1622.05 1132.17 1623.06 1132.17 C1624.06 1132.17 1625.07 1132.18 1626.07 1132.18 C1627.08 1132.18 1628.08 1132.18 1629.09 1132.18 C1630.09 1132.19 1631.10 1132.19 1632.10 1132.19 C1633.11 1132.19 1634.11 1132.19 1635.12 1132.20 C1636.12 1132.20 1637.13 1132.20 1638.13 1132.20 C1639.14 1132.20 1640.14 1132.21 1641.15 1132.21 C1642.15 1132.21 1643.16 1132.21 1644.16 1132.21 C1645.17 1132.22 1646.17 1132.22 1647.18 1132.22 C1648.18 1132.22 1649.19 1132.22 1650.19 1132.23 C1651.20 1132.23 1652.20 1132.23 1653.21 1132.23 C1654.21 1132.24 1655.22 1132.24 1656.22 1132.24 C1657.23 1132.24 1658.23 1132.24 1659.24 1132.25 C1660.25 1132.25 1661.25 1132.25 1662.26 1132.25 C1663.26 1132.25 1664.27 1132.26 1665.27 1132.26 C1666.28 1132.26 1667.28 1132.26 1668.29 1132.26 C1669.29 1132.27 1670.30 1132.27 1671.30 1132.27 C1672.31 1132.27 1673.31 1132.27 1674.32 1132.28 C1675.32 1132.28 1676.33 1132.28 1677.33 1132.28 C1678.34 1132.28 1679.34 1132.29 1680.35 1132.29 C1681.35 1132.29 1682.36 1132.29 1683.36 1132.30 C1684.37 1132.30 1685.37 1132.30 1686.38 1132.30 C1687.38 1132.30 1688.39 1132.31 1689.39 1132.31 C1690.40 1132.31 1691.40 1132.31 1692.41 1132.31 C1693.41 1132.32 1694.42 1132.32 1695.42 1132.32 C1696.43 1132.32 1697.43 1132.32 1698.44 1132.33 C1699.44 1132.33 1700.45 1132.33 1701.45 1132.33 C1702.46 1132.33 1703.46 1132.33 1704.47 1132.34 C1705.47 1132.34 1706.48 1132.34 1707.48 1132.34 C1708.49 1132.34 1709.49 1132.35 1710.50 1132.35 C1711.50 1132.35 1712.51 1132.35 1713.51 1132.35 C1714.52 1132.36 1715.52 1132.36 1716.53 1132.36 C1717.53 1132.36 1718.54 1132.36 1719.54 1132.36 C1720.55 1132.37 1721.55 1132.37 1722.55 1132.37 C1723.56 1132.37 1724.56 1132.37 1725.57 1132.38 C1726.57 1132.38 1727.58 1132.38 1728.58 1132.38 C1729.59 1132.38 1730.59 1132.38 1731.60 1132.39 C1732.60 1132.39 1733.61 1132.39 1734.61 1132.39 C1735.62 1132.39 1736.62 1132.39 1737.63 1132.39 C1738.63 1132.40 1739.64 1132.40 1740.64 1132.40 C1741.64 1132.40 1742.65 1132.40 1743.65 1132.40 C1744.66 1132.41 1745.66 1132.41 1746.67 1132.41 C1747.67 1132.41 1748.68 1132.41 1749.68 1132.41 C1750.69 1132.41 1751.69 1132.42 1752.70 1132.42 C1753.70 1132.42 1754.70 1132.42 1755.71 1132.42 C1756.71 1132.42 1757.72 1132.42 1758.72 1132.43 C1759.73 1132.43 1760.73 1132.43 1761.74 1132.43 C1762.74 1132.43 1763.74 1132.43 1764.75 1132.43 C1765.75 1132.43 1766.76 1132.44 1767.76 1132.44 C1768.77 1132.44 1769.77 1132.44 1770.77 1132.44 C1771.78 1132.44 1772.78 1132.44 1773.79 1132.44 C1774.79 1132.44 1775.80 1132.45 1776.80 1132.45 C1777.80 1132.45 1778.81 1132.45 1779.81 1132.45 C1780.82 1132.45 1781.82 1132.45 1782.83 1132.45 C1783.83 1132.45 1784.83 1132.45 1785.84 1132.45 C1786.84 1132.45 1787.85 1132.46 1788.85 1132.46 C1789.85 1132.46 1790.86 1132.46 1791.86 1132.46 C1792.87 1132.46 1793.87 1132.46 1794.87 1132.46 C1795.88 1132.46 1796.88 1132.46 1797.89 1132.46 C1798.89 1132.46 1799.89 1132.46 1800.90 1132.46 C1801.90 1132.46 1802.91 1132.47 1803.91 1132.47 C1804.91 1132.47 1805.92 1132.47 1806.92 1132.47 C1807.92 1132.47 1808.93 1132.47 1809.93 1132.47 C1810.94 1132.47 1811.94 1132.47 1812.94 1132.47 C1813.95 1132.47 1814.95 1132.47 1815.95 1132.47 C1816.96 1132.47 1817.96 1132.47 1818.96 1132.47 C1819.97 1132.47 1821.47 1132.47 1821.97 1132.47" fill="none" stroke="#ff0000" stroke-width="9.20" stroke-linecap="butt" stroke-linejoin="round"/>
<line x1="1358.00" y1="1132.00" x2="1822.00" y2="1132.50" stroke="#ff0000" stroke-width="10.80" stroke-linecap="butt"/>
<path d="M1203.99 892.30 C1204.49 892.30 1205.95 892.36 1206.95 892.31 C1207.95 892.26 1208.98 892.17 1209.99 892.02 C1211.00 891.87 1212.03 891.67 1213.02 891.41 C1214.01 891.16 1215.00 890.84 1215.95 890.47 C1216.90 890.10 1217.82 889.67 1218.69 889.18 C1219.56 888.69 1220.39 888.14 1221.15 887.53 C1221.92 886.91 1222.62 886.23 1223.27 885.50 C1223.92 884.77 1224.50 883.98 1225.05 883.16 C1225.60 882.33 1226.10 881.45 1226.56 880.55 C1227.02 879.65 1227.44 878.71 1227.84 877.75 C1228.23 876.79 1228.59 875.80 1228.93 874.81 C1229.27 873.82 1229.59 872.80 1229.89 871.80 C1230.20 870.79 1230.48 869.77 1230.76 868.77 C1231.04 867.77 1231.31 866.77 1231.59 865.78 C1231.86 864.80 1232.12 863.82 1232.38 862.85 C1232.65 861.88 1232.91 860.91 1233.16 859.95 C1233.42 858.99 1233.67 858.03 1233.92 857.07 C1234.17 856.12 1234.42 855.16 1234.66 854.20 C1234.91 853.25 1235.15 852.29 1235.40 851.32 C1235.64 850.36 1235.88 849.40 1236.12 848.43 C1236.36 847.46 1236.60 846.49 1236.83 845.51 C1237.07 844.54 1237.30 843.57 1237.53 842.59 C1237.77 841.61 1238.00 840.63 1238.23 839.65 C1238.46 838.67 1238.69 837.69 1238.91 836.70 C1239.14 835.72 1239.36 834.73 1239.58 833.74 C1239.81 832.76 1240.03 831.77 1240.25 830.78 C1240.46 829.79 1240.68 828.80 1240.90 827.82 C1241.11 826.83 1241.32 825.84 1241.54 824.85 C1241.75 823.86 1241.96 822.87 1242.16 821.88 C1242.37 820.89 1242.58 819.90 1242.78 818.91 C1242.98 817.92 1243.18 816.93 1243.38 815.94 C1243.58 814.96 1243.78 813.97 1243.97 812.99 C1244.17 812.00 1244.36 811.02 1244.55 810.03 C1244.74 809.05 1244.93 808.07 1245.12 807.09 C1245.31 806.11 1245.49 805.14 1245.67 804.16 C1245.85 803.19 1246.03 802.21 1246.21 801.24 C1246.39 800.27 1246.57 799.30 1246.75 798.33 C1246.92 797.36 1247.10 796.39 1247.28 795.43 C1247.46 794.46 1247.64 793.49 1247.82 792.52 C1248.00 791.55 1248.19 790.59 1248.37 789.62 C1248.56 788.65 1248.75 787.68 1248.95 786.70 C1249.14 785.73 1249.34 784.76 1249.54 783.78 C1249.75 782.80 1249.96 781.82 1250.17 780.84 C1250.39 779.86 1250.61 778.88 1250.84 777.89 C1251.07 776.90 1251.31 775.91 1251.55 774.91 C1251.80 773.91 1252.05 772.91 1252.32 771.91 C1252.58 770.90 1252.85 769.89 1253.14 768.87 C1253.42 767.86 1253.72 766.83 1254.02 765.81 C1254.33 764.78 1254.64 763.73 1254.98 762.70 C1255.32 761.68 1255.66 760.62 1256.07 759.66 C1256.47 758.70 1256.90 757.74 1257.42 756.93 C1257.95 756.11 1258.53 755.35 1259.20 754.77 C1259.87 754.19 1260.67 753.71 1261.47 753.46 C1262.27 753.21 1263.16 753.14 1264.00 753.29 C1264.84 753.44 1265.70 753.87 1266.52 754.38 C1267.33 754.89 1268.15 755.63 1268.90 756.36 C1269.66 757.10 1270.39 757.96 1271.06 758.78 C1271.73 759.61 1272.34 760.46 1272.92 761.32 C1273.51 762.17 1274.04 763.04 1274.55 763.92 C1275.07 764.79 1275.55 765.68 1276.02 766.57 C1276.49 767.46 1276.93 768.35 1277.37 769.25 C1277.82 770.14 1278.25 771.04 1278.69 771.94 C1279.13 772.84 1279.57 773.74 1280.02 774.64 C1280.46 775.53 1280.90 776.43 1281.35 777.33 C1281.80 778.22 1282.25 779.12 1282.69 780.02 C1283.14 780.92 1283.59 781.81 1284.04 782.71 C1284.49 783.61 1284.94 784.51 1285.39 785.40 C1285.85 786.30 1286.30 787.20 1286.75 788.10 C1287.20 789.00 1287.65 789.90 1288.10 790.80 C1288.55 791.70 1288.99 792.60 1289.44 793.50 C1289.89 794.40 1290.34 795.30 1290.78 796.21 C1291.22 797.11 1291.67 798.01 1292.11 798.92 C1292.55 799.82 1292.99 800.73 1293.42 801.64 C1293.86 802.54 1294.29 803.45 1294.72 804.36 C1295.15 805.27 1295.58 806.18 1296.01 807.09 C1296.43 808.00 1296.85 808.91 1297.27 809.83 C1297.69 810.74 1298.10 811.66 1298.51 812.57 C1298.92 813.49 1299.33 814.41 1299.73 815.33 C1300.13 816.25 1300.53 817.17 1300.92 818.10 C1301.31 819.02 1301.70 819.95 1302.08 820.87 C1302.46 821.80 1302.84 822.73 1303.21 823.66 C1303.58 824.59 1303.95 825.53 1304.31 826.46 C1304.67 827.39 1305.03 828.33 1305.39 829.27 C1305.74 830.20 1306.09 831.14 1306.44 832.08 C1306.78 833.02 1307.12 833.97 1307.46 834.91 C1307.80 835.85 1308.13 836.80 1308.46 837.74 C1308.79 838.69 1309.12 839.64 1309.44 840.58 C1309.76 841.53 1310.08 842.48 1310.39 843.43 C1310.71 844.39 1311.02 845.34 1311.33 846.29 C1311.63 847.25 1311.94 848.20 1312.24 849.16 C1312.54 850.11 1312.84 851.07 1313.13 852.03 C1313.43 852.98 1313.72 853.94 1314.01 854.90 C1314.30 855.86 1314.59 856.82 1314.87 857.79 C1315.15 858.75 1315.43 859.71 1315.71 860.67 C1315.99 861.64 1316.27 862.60 1316.54 863.57 C1316.81 864.53 1317.08 865.50 1317.35 866.47 C1317.62 867.43 1317.89 868.40 1318.15 869.37 C1318.42 870.34 1318.68 871.30 1318.94 872.27 C1319.20 873.24 1319.46 874.21 1319.71 875.18 C1319.97 876.15 1320.23 877.12 1320.48 878.10 C1320.73 879.07 1320.98 880.04 1321.23 881.01 C1321.48 881.98 1321.73 882.96 1321.98 883.93 C1322.23 884.90 1322.48 885.88 1322.72 886.85 C1322.97 887.82 1323.21 888.80 1323.45 889.77 C1323.69 890.75 1323.94 891.72 1324.18 892.70 C1324.42 893.67 1324.66 894.65 1324.89 895.62 C1325.13 896.60 1325.37 897.57 1325.61 898.55 C1325.84 899.52 1326.08 900.50 1326.31 901.48 C1326.55 902.45 1326.78 903.43 1327.02 904.41 C1327.25 905.38 1327.48 906.36 1327.71 907.34 C1327.95 908.31 1328.18 909.29 1328.41 910.27 C1328.64 911.25 1328.87 912.22 1329.10 913.20 C1329.33 914.18 1329.56 915.16 1329.79 916.14 C1330.01 917.11 1330.24 918.09 1330.47 919.07 C1330.70 920.05 1330.93 921.03 1331.15 922.01 C1331.38 922.98 1331.61 923.96 1331.84 924.94 C1332.06 925.92 1332.29 926.90 1332.52 927.88 C1332.74 928.85 1332.97 929.83 1333.20 930.81 C1333.42 931.79 1333.65 932.77 1333.88 933.75 C1334.10 934.73 1334.33 935.70 1334.56 936.68 C1334.79 937.66 1335.01 938.64 1335.24 939.62 C1335.47 940.60 1335.70 941.57 1335.92 942.55 C1336.15 943.53 1336.38 944.51 1336.61 945.49 C1336.84 946.46 1337.07 947.44 1337.30 948.42 C1337.53 949.40 1337.76 950.37 1337.99 951.35 C1338.22 952.33 1338.45 953.31 1338.69 954.28 C1338.92 955.26 1339.15 956.24 1339.38 957.21 C1339.62 958.19 1339.85 959.16 1340.09 960.14 C1340.32 961.12 1340.56 962.09 1340.80 963.07 C1341.03 964.04 1341.27 965.02 1341.51 965.99 C1341.75 966.97 1341.99 967.94 1342.23 968.92 C1342.47 969.89 1342.71 970.87 1342.96 971.84 C1343.20 972.81 1343.45 973.79 1343.69 974.76 C1343.94 975.73 1344.18 976.70 1344.43 977.68 C1344.68 978.65 1344.93 979.62 1345.18 980.59 C1345.43 981.56 1345.69 982.54 1345.94 983.51 C1346.19 984.48 1346.45 985.45 1346.71 986.42 C1346.96 987.39 1347.22 988.36 1347.48 989.32 C1347.74 990.29 1348.01 991.26 1348.27 992.23 C1348.53 993.20 1348.80 994.16 1349.07 995.13 C1349.33 996.10 1349.60 997.06 1349.87 998.03 C1350.15 999.00 1350.42 999.96 1350.69 1000.93 C1350.97 1001.89 1351.25 1002.85 1351.53 1003.82 C1351.80 1004.78 1352.09 1005.75 1352.37 1006.71 C1352.65 1007.67 1352.94 1008.63 1353.23 1009.59 C1353.51 1010.55 1353.80 1011.51 1354.10 1012.47 C1354.39 1013.43 1354.68 1014.39 1354.98 1015.35 C1355.28 1016.31 1355.58 1017.27 1355.88 1018.22 C1356.19 1019.18 1356.49 1020.14 1356.80 1021.09 C1357.11 1022.05 1357.42 1023.00 1357.74 1023.95 C1358.05 1024.90 1358.37 1025.86 1358.69 1026.81 C1359.02 1027.76 1359.34 1028.70 1359.67 1029.65 C1360.00 1030.60 1360.33 1031.54 1360.67 1032.49 C1361.01 1033.43 1361.35 1034.37 1361.70 1035.32 C1362.05 1036.26 1362.40 1037.20 1362.75 1038.13 C1363.11 1039.07 1363.47 1040.01 1363.83 1040.94 C1364.20 1041.87 1364.57 1042.80 1364.94 1043.73 C1365.32 1044.66 1365.70 1045.59 1366.08 1046.52 C1366.47 1047.44 1366.86 1048.36 1367.26 1049.28 C1367.66 1050.20 1368.06 1051.12 1368.47 1052.04 C1368.88 1052.95 1369.29 1053.87 1369.71 1054.78 C1370.13 1055.69 1370.56 1056.59 1370.99 1057.50 C1371.43 1058.40 1371.87 1059.31 1372.31 1060.21 C1372.76 1061.11 1373.21 1062.00 1373.67 1062.90 C1374.13 1063.79 1374.60 1064.68 1375.07 1065.57 C1375.55 1066.45 1376.03 1067.34 1376.52 1068.22 C1377.01 1069.10 1377.51 1069.98 1378.01 1070.85 C1378.52 1071.73 1379.03 1072.60 1379.55 1073.46 C1380.07 1074.33 1380.60 1075.19 1381.13 1076.05 C1381.67 1076.91 1382.21 1077.77 1382.77 1078.62 C1383.32 1079.47 1383.88 1080.32 1384.45 1081.17 C1385.03 1082.01 1385.60 1082.85 1386.19 1083.69 C1386.78 1084.52 1387.38 1085.36 1387.99 1086.18 C1388.59 1087.00 1389.21 1087.82 1389.84 1088.63 C1390.46 1089.44 1391.10 1090.24 1391.75 1091.03 C1392.39 1091.82 1393.05 1092.60 1393.72 1093.36 C1394.38 1094.13 1395.06 1094.88 1395.75 1095.62 C1396.44 1096.36 1397.13 1097.09 1397.85 1097.79 C1398.56 1098.50 1399.28 1099.19 1400.01 1099.87 C1400.74 1100.54 1401.49 1101.20 1402.24 1101.83 C1403.00 1102.46 1403.77 1103.08 1404.55 1103.67 C1405.33 1104.26 1406.12 1104.83 1406.93 1105.38 C1407.73 1105.92 1408.55 1106.44 1409.38 1106.94 C1410.21 1107.43 1411.05 1107.90 1411.91 1108.35 C1412.77 1108.79 1413.64 1109.20 1414.52 1109.58 C1415.41 1109.97 1416.30 1110.32 1417.22 1110.64 C1418.13 1110.96 1419.05 1111.25 1419.99 1111.51 C1420.93 1111.76 1421.89 1111.99 1422.85 1112.17 C1423.82 1112.36 1424.81 1112.51 1425.80 1112.64 C1426.79 1112.76 1427.80 1112.85 1428.82 1112.91 C1429.83 1112.98 1430.86 1113.02 1431.89 1113.03 C1432.92 1113.05 1433.96 1113.04 1435.01 1113.02 C1436.05 1113.00 1437.10 1112.96 1438.15 1112.90 C1439.20 1112.85 1440.26 1112.78 1441.31 1112.70 C1442.37 1112.62 1443.42 1112.53 1444.48 1112.43 C1445.53 1112.34 1446.58 1112.24 1447.62 1112.14 C1448.67 1112.04 1449.71 1111.93 1450.75 1111.83 C1451.78 1111.73 1452.81 1111.63 1453.83 1111.54 C1454.85 1111.45 1455.86 1111.36 1456.87 1111.28 C1457.87 1111.20 1458.87 1111.12 1459.87 1111.06 C1460.86 1111.00 1461.85 1110.94 1462.84 1110.89 C1463.83 1110.85 1464.81 1110.81 1465.79 1110.79 C1466.77 1110.77 1467.75 1110.75 1468.73 1110.76 C1469.70 1110.76 1470.68 1110.77 1471.66 1110.80 C1472.63 1110.83 1473.61 1110.88 1474.59 1110.94 C1475.56 1111.00 1476.54 1111.08 1477.52 1111.18 C1478.50 1111.27 1479.48 1111.38 1480.47 1111.51 C1481.45 1111.63 1482.43 1111.78 1483.42 1111.93 C1484.40 1112.08 1485.38 1112.25 1486.37 1112.44 C1487.35 1112.62 1488.33 1112.81 1489.32 1113.02 C1490.30 1113.23 1491.28 1113.44 1492.27 1113.67 C1493.25 1113.90 1494.23 1114.14 1495.21 1114.39 C1496.19 1114.64 1497.17 1114.90 1498.15 1115.17 C1499.13 1115.44 1500.10 1115.71 1501.08 1116.00 C1502.05 1116.28 1503.02 1116.57 1503.99 1116.87 C1504.96 1117.17 1505.93 1117.48 1506.90 1117.79 C1507.86 1118.10 1508.82 1118.41 1509.78 1118.73 C1510.74 1119.05 1511.70 1119.38 1512.66 1119.70 C1513.61 1120.02 1514.56 1120.34 1515.52 1120.65 C1516.47 1120.95 1517.42 1121.26 1518.38 1121.54 C1519.34 1121.82 1520.29 1122.09 1521.26 1122.33 C1522.22 1122.57 1523.18 1122.79 1524.15 1122.98 C1525.12 1123.16 1526.09 1123.32 1527.08 1123.44 C1528.06 1123.56 1529.04 1123.64 1530.04 1123.70 C1531.03 1123.75 1532.03 1123.77 1533.03 1123.78 C1534.03 1123.78 1535.04 1123.75 1536.05 1123.72 C1537.06 1123.68 1538.07 1123.62 1539.08 1123.56 C1540.09 1123.49 1541.11 1123.41 1542.13 1123.33 C1543.14 1123.25 1544.16 1123.17 1545.18 1123.09 C1546.19 1123.01 1547.21 1122.92 1548.22 1122.85 C1549.24 1122.78 1550.25 1122.72 1551.26 1122.67 C1552.27 1122.63 1553.28 1122.59 1554.29 1122.56 C1555.30 1122.54 1556.30 1122.53 1557.31 1122.52 C1558.31 1122.52 1559.32 1122.52 1560.32 1122.54 C1561.32 1122.55 1562.32 1122.57 1563.32 1122.60 C1564.32 1122.63 1565.32 1122.67 1566.32 1122.72 C1567.32 1122.76 1568.32 1122.82 1569.32 1122.87 C1570.32 1122.93 1571.32 1123.00 1572.32 1123.06 C1573.32 1123.13 1574.32 1123.20 1575.32 1123.28 C1576.32 1123.35 1577.32 1123.43 1578.32 1123.52 C1579.32 1123.60 1580.32 1123.68 1581.32 1123.77 C1582.33 1123.85 1583.33 1123.94 1584.33 1124.02 C1585.33 1124.11 1586.34 1124.19 1587.34 1124.27 C1588.34 1124.36 1589.34 1124.44 1590.35 1124.52 C1591.35 1124.59 1592.35 1124.67 1593.36 1124.74 C1594.36 1124.81 1595.37 1124.88 1596.37 1124.94 C1597.37 1125.00 1598.38 1125.06 1599.38 1125.11 C1600.38 1125.16 1601.39 1125.21 1602.39 1125.24 C1603.40 1125.28 1604.40 1125.30 1605.40 1125.33 C1606.41 1125.35 1607.41 1125.36 1608.41 1125.37 C1609.42 1125.38 1610.42 1125.38 1611.42 1125.38 C1612.43 1125.37 1613.43 1125.36 1614.43 1125.35 C1615.44 1125.33 1616.44 1125.31 1617.44 1125.29 C1618.45 1125.26 1619.45 1125.24 1620.45 1125.20 C1621.46 1125.17 1622.46 1125.13 1623.46 1125.09 C1624.47 1125.06 1625.47 1125.01 1626.47 1124.97 C1627.48 1124.92 1628.48 1124.87 1629.48 1124.82 C1630.48 1124.77 1631.49 1124.72 1632.49 1124.66 C1633.49 1124.61 1634.50 1124.55 1635.50 1124.50 C1636.50 1124.44 1637.51 1124.38 1638.51 1124.33 C1639.51 1124.27 1640.51 1124.21 1641.52 1124.15 C1642.52 1124.10 1643.52 1124.04 1644.53 1123.98 C1645.53 1123.93 1646.53 1123.87 1647.53 1123.82 C1648.54 1123.76 1649.54 1123.71 1650.54 1123.66 C1651.54 1123.61 1652.55 1123.56 1653.55 1123.51 C1654.55 1123.47 1655.56 1123.42 1656.56 1123.38 C1657.56 1123.35 1658.56 1123.31 1659.57 1123.28 C1660.57 1123.24 1661.57 1123.21 1662.57 1123.19 C1663.58 1123.16 1664.58 1123.14 1665.58 1123.12 C1666.59 1123.11 1667.59 1123.09 1668.59 1123.08 C1669.59 1123.07 1670.60 1123.06 1671.60 1123.05 C1672.60 1123.04 1673.60 1123.04 1674.61 1123.04 C1675.61 1123.04 1676.61 1123.04 1677.61 1123.05 C1678.62 1123.05 1679.62 1123.06 1680.62 1123.06 C1681.63 1123.07 1682.63 1123.08 1683.63 1123.09 C1684.63 1123.11 1685.64 1123.12 1686.64 1123.14 C1687.64 1123.15 1688.64 1123.17 1689.65 1123.19 C1690.65 1123.20 1691.65 1123.22 1692.66 1123.24 C1693.66 1123.26 1694.66 1123.29 1695.66 1123.31 C1696.67 1123.33 1697.67 1123.35 1698.67 1123.37 C1699.68 1123.40 1700.68 1123.42 1701.68 1123.45 C1702.69 1123.47 1703.69 1123.49 1704.69 1123.52 C1705.69 1123.54 1706.70 1123.57 1707.70 1123.59 C1708.70 1123.61 1709.71 1123.64 1710.71 1123.66 C1711.71 1123.68 1712.72 1123.70 1713.72 1123.72 C1714.72 1123.75 1715.73 1123.77 1716.73 1123.78 C1717.73 1123.80 1718.74 1123.82 1719.74 1123.84 C1720.74 1123.86 1721.75 1123.87 1722.75 1123.89 C1723.75 1123.90 1724.76 1123.91 1725.76 1123.92 C1726.76 1123.93 1727.77 1123.94 1728.77 1123.95 C1729.77 1123.95 1730.78 1123.96 1731.78 1123.96 C1732.78 1123.96 1733.79 1123.96 1734.79 1123.96 C1735.80 1123.95 1736.80 1123.95 1737.80 1123.94 C1738.81 1123.93 1739.81 1123.92 1740.81 1123.90 C1741.82 1123.89 1742.82 1123.87 1743.83 1123.85 C1744.83 1123.83 1745.83 1123.80 1746.84 1123.77 C1747.84 1123.75 1748.85 1123.71 1749.85 1123.68 C1750.86 1123.65 1751.86 1123.61 1752.86 1123.57 C1753.87 1123.53 1754.87 1123.49 1755.88 1123.44 C1756.88 1123.40 1757.89 1123.35 1758.89 1123.31 C1759.89 1123.26 1760.90 1123.21 1761.90 1123.17 C1762.91 1123.12 1763.91 1123.07 1764.92 1123.02 C1765.92 1122.97 1766.92 1122.93 1767.93 1122.88 C1768.93 1122.83 1769.94 1122.78 1770.94 1122.74 C1771.94 1122.69 1772.95 1122.65 1773.95 1122.61 C1774.96 1122.57 1775.96 1122.53 1776.96 1122.49 C1777.97 1122.45 1778.97 1122.42 1779.97 1122.38 C1780.98 1122.35 1781.98 1122.32 1782.98 1122.30 C1783.99 1122.27 1784.99 1122.25 1785.99 1122.23 C1787.00 1122.22 1788.00 1122.20 1789.00 1122.20 C1790.00 1122.19 1791.01 1122.18 1792.01 1122.19 C1793.01 1122.19 1794.01 1122.20 1795.01 1122.21 C1796.02 1122.22 1797.02 1122.24 1798.02 1122.27 C1799.02 1122.29 1800.02 1122.33 1801.02 1122.37 C1802.02 1122.41 1803.03 1122.45 1804.03 1122.51 C1805.03 1122.57 1806.03 1122.63 1807.03 1122.70 C1808.03 1122.77 1809.03 1122.85 1810.03 1122.94 C1811.03 1123.03 1812.03 1123.13 1813.02 1123.23 C1814.02 1123.34 1815.02 1123.46 1816.02 1123.58 C1817.02 1123.71 1818.02 1123.85 1819.02 1124.00 C1820.01 1124.14 1821.51 1124.39 1822.01 1124.47" fill="none" stroke="#000" stroke-width="9.20" stroke-linecap="butt" stroke-linejoin="round"/>
<line x1="1289.00" y1="1019.50" x2="1258.70" y2="1019.50" stroke="#ff0000" stroke-width="7.20" stroke-linecap="butt"/>
<path d="M1225.10 1019.50 L1262.60 1008.50 L1262.60 1030.50 Z" fill="#ff0000" stroke="#ff0000" stroke-width="2.5" stroke-linejoin="round"/>
<path d="M1323.40 985.21 C1323.77 985.67 1324.93 986.98 1325.63 987.99 C1326.33 988.99 1327.00 990.10 1327.62 991.26 C1328.23 992.42 1328.81 993.67 1329.32 994.97 C1329.84 996.27 1330.31 997.64 1330.71 999.05 C1331.12 1000.46 1331.48 1001.93 1331.77 1003.42 C1332.06 1004.91 1332.29 1006.45 1332.46 1007.99 C1332.63 1009.54 1332.73 1011.11 1332.78 1012.68 C1332.82 1014.25 1332.80 1015.84 1332.72 1017.41 C1332.63 1018.97 1332.49 1020.54 1332.28 1022.07 C1332.07 1023.60 1331.61 1025.84 1331.47 1026.59" fill="none" stroke="#ff0000" stroke-width="5.7" stroke-linecap="round"/>
<path d="M1312.10 1048.58 C1311.68 1048.51 1310.41 1048.38 1309.57 1048.15 C1308.74 1047.92 1307.91 1047.59 1307.10 1047.18 C1306.29 1046.76 1305.48 1046.26 1304.71 1045.67 C1303.94 1045.08 1303.18 1044.41 1302.46 1043.66 C1301.73 1042.91 1301.03 1042.07 1300.37 1041.17 C1299.71 1040.27 1299.07 1039.29 1298.48 1038.25 C1297.89 1037.21 1297.10 1035.49 1296.83 1034.94" fill="none" stroke="#ff0000" stroke-width="5.7" stroke-linecap="round"/>
<path d="M1301.62 985.86 C1301.97 985.51 1303.00 984.37 1303.72 983.74 C1304.44 983.11 1305.59 982.35 1305.96 982.07" fill="none" stroke="#ff0000" stroke-width="5.7" stroke-linecap="round"/>
<path d="M1292.85 1011.91 C1292.89 1011.31 1292.98 1009.52 1293.10 1008.34 C1293.22 1007.17 1293.50 1005.43 1293.57 1004.85" fill="none" stroke="#ff0000" stroke-width="5.7" stroke-linecap="round"/>
<line x1="1359.00" y1="931.90" x2="1493.90" y2="931.90" stroke="#000" stroke-width="7.20" stroke-linecap="butt"/>
<path d="M1527.50 931.90 L1490.00 920.60 L1490.00 943.20 Z" fill="#000" stroke="#000" stroke-width="2.5" stroke-linejoin="round"/>
<path d="M1350.76 908.74 C1351.10 909.20 1352.17 910.52 1352.82 911.52 C1353.47 912.52 1354.09 913.60 1354.66 914.73 C1355.23 915.86 1355.75 917.07 1356.23 918.31 C1356.71 919.56 1357.14 920.86 1357.52 922.20 C1357.90 923.54 1358.22 924.93 1358.50 926.34 C1358.77 927.75 1358.99 929.20 1359.15 930.65 C1359.31 932.11 1359.42 933.60 1359.47 935.07 C1359.52 936.55 1359.51 938.05 1359.44 939.53 C1359.38 941.00 1359.26 942.49 1359.08 943.94 C1358.90 945.39 1358.50 947.52 1358.38 948.23" fill="none" stroke="#000" stroke-width="5.7" stroke-linecap="round"/>
<path d="M1339.00 971.50 C1338.58 971.46 1337.33 971.41 1336.50 971.24 C1335.68 971.07 1334.85 970.81 1334.04 970.48 C1333.23 970.14 1332.43 969.71 1331.65 969.21 C1330.88 968.71 1330.11 968.12 1329.38 967.46 C1328.64 966.80 1327.92 966.06 1327.24 965.26 C1326.56 964.46 1325.90 963.58 1325.28 962.64 C1324.66 961.70 1324.07 960.69 1323.53 959.63 C1322.98 958.58 1322.26 956.85 1322.00 956.29" fill="none" stroke="#000" stroke-width="5.7" stroke-linecap="round"/>
<path d="M1331.32 905.01 C1331.60 904.84 1332.44 904.30 1333.01 904.01 C1333.58 903.71 1334.45 903.38 1334.74 903.25" fill="none" stroke="#000" stroke-width="5.7" stroke-linecap="round"/>
<path d="M1318.53 935.19 C1318.57 934.60 1318.64 932.79 1318.75 931.60 C1318.86 930.42 1319.12 928.66 1319.20 928.07" fill="none" stroke="#000" stroke-width="5.7" stroke-linecap="round"/>
<rect x="1207.80" y="188.60" width="614.80" height="1012.10" fill="none" stroke="#000" stroke-width="10.00"/>
<line x1="1207.80" y1="324.00" x2="1190.80" y2="324.00" stroke="#000" stroke-width="10.00" stroke-linecap="round"/>
<line x1="1207.80" y1="593.40" x2="1190.80" y2="593.40" stroke="#000" stroke-width="10.00" stroke-linecap="round"/>
<line x1="1207.80" y1="862.80" x2="1190.80" y2="862.80" stroke="#000" stroke-width="10.00" stroke-linecap="round"/>
<line x1="1207.80" y1="1132.20" x2="1190.80" y2="1132.20" stroke="#000" stroke-width="10.00" stroke-linecap="round"/>
<line x1="1207.80" y1="189.30" x2="1198.80" y2="189.30" stroke="#000" stroke-width="10.00" stroke-linecap="round"/>
<line x1="1207.80" y1="458.70" x2="1198.80" y2="458.70" stroke="#000" stroke-width="10.00" stroke-linecap="round"/>
<line x1="1207.80" y1="728.10" x2="1198.80" y2="728.10" stroke="#000" stroke-width="10.00" stroke-linecap="round"/>
<line x1="1207.80" y1="997.50" x2="1198.80" y2="997.50" stroke="#000" stroke-width="10.00" stroke-linecap="round"/>
<line x1="1822.60" y1="188.80" x2="1839.60" y2="188.80" stroke="#000" stroke-width="10.00" stroke-linecap="round"/>
<line x1="1822.60" y1="376.20" x2="1839.60" y2="376.20" stroke="#000" stroke-width="10.00" stroke-linecap="round"/>
<line x1="1822.60" y1="563.60" x2="1839.60" y2="563.60" stroke="#000" stroke-width="10.00" stroke-linecap="round"/>
<line x1="1822.60" y1="751.00" x2="1839.60" y2="751.00" stroke="#000" stroke-width="10.00" stroke-linecap="round"/>
<line x1="1822.60" y1="938.40" x2="1839.60" y2="938.40" stroke="#000" stroke-width="10.00" stroke-linecap="round"/>
<line x1="1822.60" y1="1125.80" x2="1839.60" y2="1125.80" stroke="#000" stroke-width="10.00" stroke-linecap="round"/>
<line x1="1822.60" y1="282.50" x2="1831.60" y2="282.50" stroke="#000" stroke-width="10.00" stroke-linecap="round"/>
<line x1="1822.60" y1="469.90" x2="1831.60" y2="469.90" stroke="#000" stroke-width="10.00" stroke-linecap="round"/>
<line x1="1822.60" y1="657.30" x2="1831.60" y2="657.30" stroke="#000" stroke-width="10.00" stroke-linecap="round"/>
<line x1="1822.60" y1="844.70" x2="1831.60" y2="844.70" stroke="#000" stroke-width="10.00" stroke-linecap="round"/>
<line x1="1822.60" y1="1032.10" x2="1831.60" y2="1032.10" stroke="#000" stroke-width="10.00" stroke-linecap="round"/>
<line x1="1207.80" y1="1200.70" x2="1207.80" y2="1217.70" stroke="#000" stroke-width="10.00" stroke-linecap="round"/>
<line x1="1330.76" y1="1200.70" x2="1330.76" y2="1217.70" stroke="#000" stroke-width="10.00" stroke-linecap="round"/>
<line x1="1453.72" y1="1200.70" x2="1453.72" y2="1217.70" stroke="#000" stroke-width="10.00" stroke-linecap="round"/>
<line x1="1576.68" y1="1200.70" x2="1576.68" y2="1217.70" stroke="#000" stroke-width="10.00" stroke-linecap="round"/>
<line x1="1699.64" y1="1200.70" x2="1699.64" y2="1217.70" stroke="#000" stroke-width="10.00" stroke-linecap="round"/>
<line x1="1822.60" y1="1200.70" x2="1822.60" y2="1217.70" stroke="#000" stroke-width="10.00" stroke-linecap="round"/>
<line x1="1269.28" y1="1200.70" x2="1269.28" y2="1209.20" stroke="#000" stroke-width="10.00" stroke-linecap="round"/>
<line x1="1392.24" y1="1200.70" x2="1392.24" y2="1209.20" stroke="#000" stroke-width="10.00" stroke-linecap="round"/>
<line x1="1515.20" y1="1200.70" x2="1515.20" y2="1209.20" stroke="#000" stroke-width="10.00" stroke-linecap="round"/>
<line x1="1638.16" y1="1200.70" x2="1638.16" y2="1209.20" stroke="#000" stroke-width="10.00" stroke-linecap="round"/>
<line x1="1761.12" y1="1200.70" x2="1761.12" y2="1209.20" stroke="#000" stroke-width="10.00" stroke-linecap="round"/>
<g transform="translate(1143.00,347.50) rotate(0.00) scale(0.9124,1.0000) translate(-3.38,0)"><text x="0" y="0" fill="#000" xml:space="preserve"><tspan font-size="75.0">3</tspan></text></g>
<g transform="translate(1141.80,616.90) rotate(0.00) scale(1.0733,1.0000) translate(-3.38,0)"><text x="0" y="0" fill="#000" xml:space="preserve"><tspan font-size="75.0">2</tspan></text></g>
<g transform="translate(1149.00,886.30) rotate(0.00) scale(0.7324,1.0000) translate(-6.38,0)"><text x="0" y="0" fill="#000" xml:space="preserve"><tspan font-size="75.0">1</tspan></text></g>
<g transform="translate(1142.00,1155.70) rotate(0.00) scale(1.0159,1.0000) translate(-3.00,0)"><text x="0" y="0" fill="#000" xml:space="preserve"><tspan font-size="75.0">0</tspan></text></g>
<g transform="translate(1857.00,210.30) rotate(0.00) scale(0.9000,1.0000) translate(-4.50,0)"><text x="0" y="0" fill="#000" xml:space="preserve"><tspan font-size="75.0">5</tspan></text></g>
<g transform="translate(1853.00,397.70) rotate(0.00) scale(0.9462,1.0000) translate(-1.50,0)"><text x="0" y="0" fill="#000" xml:space="preserve"><tspan font-size="75.0">4</tspan></text></g>
<g transform="translate(1856.00,585.10) rotate(0.00) scale(0.9157,1.0000) translate(-3.38,0)"><text x="0" y="0" fill="#000" xml:space="preserve"><tspan font-size="75.0">3</tspan></text></g>
<g transform="translate(1854.50,772.50) rotate(0.00) scale(1.0167,1.0000) translate(-3.38,0)"><text x="0" y="0" fill="#000" xml:space="preserve"><tspan font-size="75.0">2</tspan></text></g>
<g transform="translate(1861.00,959.90) rotate(0.00) scale(0.7136,1.0000) translate(-6.38,0)"><text x="0" y="0" fill="#000" xml:space="preserve"><tspan font-size="75.0">1</tspan></text></g>
<g transform="translate(1853.60,1147.30) rotate(0.00) scale(1.0286,1.0000) translate(-3.00,0)"><text x="0" y="0" fill="#000" xml:space="preserve"><tspan font-size="75.0">0</tspan></text></g>
<g transform="translate(1167.80,1279.00) rotate(0.00) scale(0.9583,1.0000) translate(-2.65,0)"><text x="0" y="0" fill="#000" xml:space="preserve"><tspan font-size="59.0">300</tspan></text></g>
<g transform="translate(1290.76,1279.00) rotate(0.00) scale(0.9416,1.0000) translate(-1.18,0)"><text x="0" y="0" fill="#000" xml:space="preserve"><tspan font-size="59.0">400</tspan></text></g>
<g transform="translate(1413.72,1279.00) rotate(0.00) scale(0.9685,1.0000) translate(-3.54,0)"><text x="0" y="0" fill="#000" xml:space="preserve"><tspan font-size="59.0">500</tspan></text></g>
<g transform="translate(1536.68,1279.00) rotate(0.00) scale(0.9549,1.0000) translate(-2.36,0)"><text x="0" y="0" fill="#000" xml:space="preserve"><tspan font-size="59.0">600</tspan></text></g>
<g transform="translate(1659.64,1279.00) rotate(0.00) scale(0.9720,1.0000) translate(-3.83,0)"><text x="0" y="0" fill="#000" xml:space="preserve"><tspan font-size="59.0">700</tspan></text></g>
<g transform="translate(1782.60,1279.00) rotate(0.00) scale(0.9549,1.0000) translate(-2.36,0)"><text x="0" y="0" fill="#000" xml:space="preserve"><tspan font-size="59.0">800</tspan></text></g>
<line x1="1293.00" y1="234.00" x2="1450.00" y2="234.00" stroke="#0000ff" stroke-width="10.40" stroke-linecap="round"/>
<g transform="translate(1471.00,260.60) rotate(0.00) scale(0.9806,1.0000) translate(-4.07,0)"><text x="0" y="0" fill="#000" xml:space="preserve"><tspan font-size="74.0" font-weight="bold">70 nm NFI</tspan></text></g>
<line x1="1293.00" y1="328.30" x2="1450.00" y2="328.30" stroke="#ff0000" stroke-width="10.40" stroke-linecap="round"/>
<g transform="translate(1471.00,354.60) rotate(0.00) scale(0.9763,1.0000) translate(-2.59,0)"><text x="0" y="0" fill="#000" xml:space="preserve"><tspan font-size="74.0" font-weight="bold">80 nm NFI</tspan></text></g>
<line x1="1293.00" y1="422.60" x2="1450.00" y2="422.60" stroke="#000" stroke-width="10.40" stroke-linecap="round"/>
<g transform="translate(1471.00,448.60) rotate(0.00) scale(0.9612,1.0000) translate(-1.11,0)"><text x="0" y="0" fill="#000" xml:space="preserve"><tspan font-size="74.0" font-weight="bold">MI</tspan></text></g>
<g transform="translate(1258.80,142.00) rotate(0.00) scale(0.9538,1.0000) translate(-3.01,0)"><text x="0" y="0" fill="#000" xml:space="preserve"><tspan font-size="100.5">Responsivity</tspan></text></g>
<g transform="translate(683.00,1369.00) rotate(0.00) scale(0.9532,1.0000) translate(-7.07,0)"><text x="0" y="0" fill="#000" xml:space="preserve"><tspan font-size="101.0" font-weight="bold" font-style="italic">Wavelength</tspan></text></g>
<g transform="translate(1166.00,1369.00) rotate(0.00) scale(0.9794,1.0000) translate(-4.54,0)"><text x="0" y="0" fill="#000" xml:space="preserve"><tspan font-size="101.0">(nm)</tspan></text></g>
<line x1="899.00" y1="1879.00" x2="494.40" y2="2464.60" stroke="#ff0000" stroke-width="5.00" stroke-linecap="butt" stroke-dasharray="29 33.07"/>
<polyline points="468.3,2450.0 570.8,2279.2 674.2,2170.4 776.5,2016.0 880.2,1850.6" fill="none" stroke="#0000ff" stroke-width="8" stroke-linejoin="round"/>
<rect x="457.1" y="2438.8" width="22.5" height="22.5" fill="#0000ff"/>
<rect x="559.5" y="2267.9" width="22.5" height="22.5" fill="#0000ff"/>
<rect x="663.0" y="2159.2" width="22.5" height="22.5" fill="#0000ff"/>
<rect x="765.2" y="2004.8" width="22.5" height="22.5" fill="#0000ff"/>
<rect x="869.0" y="1839.3" width="22.5" height="22.5" fill="#0000ff"/>
<line x1="462.50" y1="1982.00" x2="462.50" y2="2342.45" stroke="#000" stroke-width="8.00" stroke-linecap="round"/>
<path d="M462.50 2381.00 L451.80 2340.30 L473.20 2340.30 Z" fill="#000" stroke="#000" stroke-width="4.8" stroke-linejoin="round"/>
<line x1="572.00" y1="2133.00" x2="572.00" y2="2225.05" stroke="#000" stroke-width="8.00" stroke-linecap="round"/>
<path d="M572.00 2263.60 L561.30 2222.90 L582.70 2222.90 Z" fill="#000" stroke="#000" stroke-width="4.8" stroke-linejoin="round"/>
<line x1="671.00" y1="2045.00" x2="671.00" y2="2104.05" stroke="#000" stroke-width="8.00" stroke-linecap="round"/>
<path d="M671.00 2142.60 L660.30 2101.90 L681.70 2101.90 Z" fill="#000" stroke="#000" stroke-width="4.8" stroke-linejoin="round"/>
<line x1="772.60" y1="1846.50" x2="772.60" y2="1953.85" stroke="#000" stroke-width="8.00" stroke-linecap="round"/>
<path d="M772.60 1992.40 L761.90 1951.70 L783.30 1951.70 Z" fill="#000" stroke="#000" stroke-width="4.8" stroke-linejoin="round"/>
<line x1="880.20" y1="1678.40" x2="880.20" y2="1802.45" stroke="#000" stroke-width="8.00" stroke-linecap="round"/>
<path d="M880.20 1841.00 L869.50 1800.30 L890.90 1800.30 Z" fill="#000" stroke="#000" stroke-width="4.8" stroke-linejoin="round"/>
<g transform="translate(829.80,1639.70) rotate(0.00) scale(0.9711,1.0000) translate(-5.20,0)"><text x="0" y="0" fill="#000" xml:space="preserve"><tspan font-size="65.0" font-weight="bold">16.5</tspan></text></g>
<g transform="translate(712.00,1806.70) rotate(0.00) scale(0.9692,1.0000) translate(-5.20,0)"><text x="0" y="0" fill="#000" xml:space="preserve"><tspan font-size="65.0" font-weight="bold">12.5</tspan></text></g>
<g transform="translate(639.60,2001.80) rotate(0.00) scale(0.9700,1.0000) translate(-2.28,0)"><text x="0" y="0" fill="#000" xml:space="preserve"><tspan font-size="65.0" font-weight="bold">8.5</tspan></text></g>
<g transform="translate(523.00,2072.00) rotate(0.00) scale(0.9436,1.0000) translate(-0.97,0)"><text x="0" y="0" fill="#000" xml:space="preserve"><tspan font-size="65.0" font-weight="bold">4.5</tspan></text></g>
<g transform="translate(374.00,1905.00) rotate(0.00) scale(0.9530,1.0000) translate(-2.60,0)"><text x="0" y="0" fill="#000" xml:space="preserve"><tspan font-size="65.0" font-weight="bold">0.5 (μW/cm</tspan><tspan font-size="39.0" font-weight="bold" dy="-24.0">2</tspan><tspan font-size="65.0" font-weight="bold" dy="24.0">)</tspan></text></g>
<rect x="361.50" y="1479.30" width="643.50" height="1106.00" fill="none" stroke="#000" stroke-width="10.00"/>
<line x1="361.50" y1="1479.30" x2="340.50" y2="1479.30" stroke="#000" stroke-width="10.00" stroke-linecap="round"/>
<line x1="361.50" y1="1700.50" x2="340.50" y2="1700.50" stroke="#000" stroke-width="10.00" stroke-linecap="round"/>
<line x1="361.50" y1="1921.70" x2="340.50" y2="1921.70" stroke="#000" stroke-width="10.00" stroke-linecap="round"/>
<line x1="361.50" y1="2142.90" x2="340.50" y2="2142.90" stroke="#000" stroke-width="10.00" stroke-linecap="round"/>
<line x1="361.50" y1="2364.10" x2="340.50" y2="2364.10" stroke="#000" stroke-width="10.00" stroke-linecap="round"/>
<line x1="361.50" y1="2585.30" x2="340.50" y2="2585.30" stroke="#000" stroke-width="10.00" stroke-linecap="round"/>
<line x1="361.50" y1="1589.90" x2="350.50" y2="1589.90" stroke="#000" stroke-width="10.00" stroke-linecap="round"/>
<line x1="361.50" y1="1811.10" x2="350.50" y2="1811.10" stroke="#000" stroke-width="10.00" stroke-linecap="round"/>
<line x1="361.50" y1="2032.30" x2="350.50" y2="2032.30" stroke="#000" stroke-width="10.00" stroke-linecap="round"/>
<line x1="361.50" y1="2253.50" x2="350.50" y2="2253.50" stroke="#000" stroke-width="10.00" stroke-linecap="round"/>
<line x1="361.50" y1="2474.70" x2="350.50" y2="2474.70" stroke="#000" stroke-width="10.00" stroke-linecap="round"/>
<line x1="454.00" y1="2585.30" x2="454.00" y2="2605.30" stroke="#000" stroke-width="10.00" stroke-linecap="round"/>
<line x1="637.40" y1="2585.30" x2="637.40" y2="2605.30" stroke="#000" stroke-width="10.00" stroke-linecap="round"/>
<line x1="820.80" y1="2585.30" x2="820.80" y2="2605.30" stroke="#000" stroke-width="10.00" stroke-linecap="round"/>
<line x1="1004.20" y1="2585.30" x2="1004.20" y2="2605.30" stroke="#000" stroke-width="10.00" stroke-linecap="round"/>
<line x1="362.30" y1="2585.30" x2="362.30" y2="2594.30" stroke="#000" stroke-width="10.00" stroke-linecap="round"/>
<line x1="545.70" y1="2585.30" x2="545.70" y2="2594.30" stroke="#000" stroke-width="10.00" stroke-linecap="round"/>
<line x1="729.10" y1="2585.30" x2="729.10" y2="2594.30" stroke="#000" stroke-width="10.00" stroke-linecap="round"/>
<line x1="912.50" y1="2585.30" x2="912.50" y2="2594.30" stroke="#000" stroke-width="10.00" stroke-linecap="round"/>
<g transform="translate(327.50,1504.80) scale(0.9770,1)"><text text-anchor="end" font-size="83.0">300</text></g>
<g transform="translate(327.50,1726.00) scale(0.9770,1)"><text text-anchor="end" font-size="83.0">250</text></g>
<g transform="translate(327.50,1947.20) scale(0.9770,1)"><text text-anchor="end" font-size="83.0">200</text></g>
<g transform="translate(327.50,2168.40) scale(0.9770,1)"><text text-anchor="end" font-size="83.0">150</text></g>
<g transform="translate(327.50,2389.60) scale(0.9770,1)"><text text-anchor="end" font-size="83.0">100</text></g>
<g transform="translate(327.50,2610.80) scale(0.9770,1)"><text text-anchor="end" font-size="83.0">50</text></g>
<g transform="translate(453.00,2687.00) scale(0.9400,1)"><text text-anchor="middle" font-size="84.0">0.0</text></g>
<g transform="translate(636.40,2687.00) scale(0.9400,1)"><text text-anchor="middle" font-size="84.0">0.1</text></g>
<g transform="translate(819.80,2687.00) scale(0.9400,1)"><text text-anchor="middle" font-size="84.0">0.2</text></g>
<g transform="translate(1003.20,2687.00) scale(0.9400,1)"><text text-anchor="middle" font-size="84.0">0.3</text></g>
<line x1="394.00" y1="1534.00" x2="571.50" y2="1534.00" stroke="#0000ff" stroke-width="8.00" stroke-linecap="round"/>
<rect x="471.2" y="1522.7" width="22.5" height="22.5" fill="#0000ff"/>
<g transform="translate(594.80,1564.50) rotate(0.00) scale(0.9472,1.0000) translate(-4.73,0)"><text x="0" y="0" fill="#000" xml:space="preserve"><tspan font-size="86.0" font-weight="bold">70 nm NFI</tspan></text></g>
<g transform="translate(672.50,2355.50) rotate(-54.00) scale(1.0000,1.0000) translate(-2.92,0)"><text x="0" y="0" fill="#000" xml:space="preserve"><tspan font-size="83.5" font-weight="bold">3.63 </tspan><tspan font-size="83.5" font-style="italic">X</tspan><tspan font-size="83.5" font-weight="bold"> </tspan><tspan font-size="83.5" font-weight="bold">10</tspan><tspan font-size="50.0" font-weight="bold" dy="-46.5">8</tspan></text></g>
<line x1="1742.00" y1="2098.80" x2="1285.00" y2="2468.60" stroke="#ff0000" stroke-width="5.00" stroke-linecap="butt" stroke-dasharray="30 31.99"/>
<polyline points="1271.6,2450.0 1385.7,2310.8 1500.0,2221.7 1615.0,2148.0 1730.0,2080.7" fill="none" stroke="#000" stroke-width="8" stroke-linejoin="round"/>
<circle cx="1271.6" cy="2450.0" r="12.2" fill="url(#ball)"/>
<circle cx="1385.7" cy="2310.8" r="12.2" fill="url(#ball)"/>
<circle cx="1500.0" cy="2221.7" r="12.2" fill="url(#ball)"/>
<circle cx="1615.0" cy="2148.0" r="12.2" fill="url(#ball)"/>
<circle cx="1730.0" cy="2080.7" r="12.2" fill="url(#ball)"/>
<line x1="1265.50" y1="1979.60" x2="1265.50" y2="2379.05" stroke="#000" stroke-width="8.00" stroke-linecap="round"/>
<path d="M1265.50 2417.60 L1254.80 2376.90 L1276.20 2376.90 Z" fill="#000" stroke="#000" stroke-width="4.8" stroke-linejoin="round"/>
<line x1="1385.00" y1="2145.60" x2="1385.00" y2="2255.05" stroke="#000" stroke-width="8.00" stroke-linecap="round"/>
<path d="M1385.00 2293.60 L1374.30 2252.90 L1395.70 2252.90 Z" fill="#000" stroke="#000" stroke-width="4.8" stroke-linejoin="round"/>
<line x1="1494.00" y1="2087.00" x2="1494.00" y2="2162.55" stroke="#000" stroke-width="8.00" stroke-linecap="round"/>
<path d="M1494.00 2201.10 L1483.30 2160.40 L1504.70 2160.40 Z" fill="#000" stroke="#000" stroke-width="4.8" stroke-linejoin="round"/>
<line x1="1613.70" y1="2030.60" x2="1613.70" y2="2085.85" stroke="#000" stroke-width="8.00" stroke-linecap="round"/>
<path d="M1613.70 2124.40 L1603.00 2083.70 L1624.40 2083.70 Z" fill="#000" stroke="#000" stroke-width="4.8" stroke-linejoin="round"/>
<line x1="1726.50" y1="1925.50" x2="1726.50" y2="2017.05" stroke="#000" stroke-width="8.00" stroke-linecap="round"/>
<path d="M1726.50 2055.60 L1715.80 2014.90 L1737.20 2014.90 Z" fill="#000" stroke="#000" stroke-width="4.8" stroke-linejoin="round"/>
<g transform="translate(1680.00,1881.00) rotate(0.00) scale(0.9692,1.0000) translate(-5.20,0)"><text x="0" y="0" fill="#000" xml:space="preserve"><tspan font-size="65.0" font-weight="bold">16.5</tspan></text></g>
<g transform="translate(1564.00,1999.50) rotate(0.00) scale(0.9551,1.0000) translate(-5.20,0)"><text x="0" y="0" fill="#000" xml:space="preserve"><tspan font-size="65.0" font-weight="bold">12.5</tspan></text></g>
<g transform="translate(1451.00,2054.60) rotate(0.00) scale(0.9739,1.0000) translate(-2.28,0)"><text x="0" y="0" fill="#000" xml:space="preserve"><tspan font-size="65.0" font-weight="bold">8.5</tspan></text></g>
<g transform="translate(1340.70,2097.40) rotate(0.00) scale(0.9526,1.0000) translate(-0.97,0)"><text x="0" y="0" fill="#000" xml:space="preserve"><tspan font-size="65.0" font-weight="bold">4.5</tspan></text></g>
<g transform="translate(1210.00,1928.00) rotate(0.00) scale(0.9447,1.0000) translate(-2.60,0)"><text x="0" y="0" fill="#000" xml:space="preserve"><tspan font-size="65.0" font-weight="bold">0.5 (μW/cm</tspan><tspan font-size="39.0" font-weight="bold" dy="-24.0">2</tspan><tspan font-size="65.0" font-weight="bold" dy="24.0">)</tspan></text></g>
<rect x="1184.00" y="1480.00" width="642.50" height="1105.70" fill="none" stroke="#000" stroke-width="10.00"/>
<line x1="1184.00" y1="1479.95" x2="1163.00" y2="1479.95" stroke="#000" stroke-width="10.00" stroke-linecap="round"/>
<line x1="1184.00" y1="1701.10" x2="1163.00" y2="1701.10" stroke="#000" stroke-width="10.00" stroke-linecap="round"/>
<line x1="1184.00" y1="1922.25" x2="1163.00" y2="1922.25" stroke="#000" stroke-width="10.00" stroke-linecap="round"/>
<line x1="1184.00" y1="2143.40" x2="1163.00" y2="2143.40" stroke="#000" stroke-width="10.00" stroke-linecap="round"/>
<line x1="1184.00" y1="2364.55" x2="1163.00" y2="2364.55" stroke="#000" stroke-width="10.00" stroke-linecap="round"/>
<line x1="1184.00" y1="2585.70" x2="1163.00" y2="2585.70" stroke="#000" stroke-width="10.00" stroke-linecap="round"/>
<line x1="1184.00" y1="1590.52" x2="1173.00" y2="1590.52" stroke="#000" stroke-width="10.00" stroke-linecap="round"/>
<line x1="1184.00" y1="1811.67" x2="1173.00" y2="1811.67" stroke="#000" stroke-width="10.00" stroke-linecap="round"/>
<line x1="1184.00" y1="2032.82" x2="1173.00" y2="2032.82" stroke="#000" stroke-width="10.00" stroke-linecap="round"/>
<line x1="1184.00" y1="2253.97" x2="1173.00" y2="2253.97" stroke="#000" stroke-width="10.00" stroke-linecap="round"/>
<line x1="1184.00" y1="2475.12" x2="1173.00" y2="2475.12" stroke="#000" stroke-width="10.00" stroke-linecap="round"/>
<line x1="1254.00" y1="2585.70" x2="1254.00" y2="2605.70" stroke="#000" stroke-width="10.00" stroke-linecap="round"/>
<line x1="1397.20" y1="2585.70" x2="1397.20" y2="2605.70" stroke="#000" stroke-width="10.00" stroke-linecap="round"/>
<line x1="1540.40" y1="2585.70" x2="1540.40" y2="2605.70" stroke="#000" stroke-width="10.00" stroke-linecap="round"/>
<line x1="1683.60" y1="2585.70" x2="1683.60" y2="2605.70" stroke="#000" stroke-width="10.00" stroke-linecap="round"/>
<line x1="1826.80" y1="2585.70" x2="1826.80" y2="2605.70" stroke="#000" stroke-width="10.00" stroke-linecap="round"/>
<line x1="1182.40" y1="2585.70" x2="1182.40" y2="2594.70" stroke="#000" stroke-width="10.00" stroke-linecap="round"/>
<line x1="1325.60" y1="2585.70" x2="1325.60" y2="2594.70" stroke="#000" stroke-width="10.00" stroke-linecap="round"/>
<line x1="1468.80" y1="2585.70" x2="1468.80" y2="2594.70" stroke="#000" stroke-width="10.00" stroke-linecap="round"/>
<line x1="1612.00" y1="2585.70" x2="1612.00" y2="2594.70" stroke="#000" stroke-width="10.00" stroke-linecap="round"/>
<line x1="1755.20" y1="2585.70" x2="1755.20" y2="2594.70" stroke="#000" stroke-width="10.00" stroke-linecap="round"/>
<g transform="translate(1254.00,2686.70) scale(0.9750,1)"><text text-anchor="middle" font-size="84.0">0</text></g>
<g transform="translate(1397.20,2686.70) scale(0.9750,1)"><text text-anchor="middle" font-size="84.0">10</text></g>
<g transform="translate(1540.40,2686.70) scale(0.9750,1)"><text text-anchor="middle" font-size="84.0">20</text></g>
<g transform="translate(1683.60,2686.70) scale(0.9750,1)"><text text-anchor="middle" font-size="84.0">30</text></g>
<g transform="translate(1826.80,2686.70) scale(0.9750,1)"><text text-anchor="middle" font-size="84.0">40</text></g>
<line x1="1488.00" y1="1538.50" x2="1662.50" y2="1538.50" stroke="#000" stroke-width="8.00" stroke-linecap="round"/>
<circle cx="1575" cy="1538.5" r="12.2" fill="url(#ball)"/>
<g transform="translate(1686.00,1567.00) rotate(0.00) scale(0.9728,1.0000) translate(-1.26,0)"><text x="0" y="0" fill="#000" xml:space="preserve"><tspan font-size="84.0" font-weight="bold">MI</tspan></text></g>
<g transform="translate(1460.20,2449.00) rotate(-39.50) scale(1.0000,1.0000) translate(-3.24,0)"><text x="0" y="0" fill="#000" xml:space="preserve"><tspan font-size="81.0" font-weight="bold">2.58 </tspan><tspan font-size="81.0">X</tspan><tspan font-size="81.0" font-weight="bold"> </tspan><tspan font-size="81.0" font-weight="bold">10</tspan><tspan font-size="50.0" dy="-46.5" dx="3.0">6</tspan></text></g>
<g transform="translate(873.00,2787.00) rotate(0.00) scale(1.0808,1.0000) translate(-0.00,0)"><text x="0" y="0" fill="#000" xml:space="preserve"><tspan font-size="107.0" font-weight="bold" font-style="italic">P</tspan></text></g>
<g transform="translate(943.00,2844.00) rotate(0.00) scale(1.1963,1.0000) translate(-2.68,0)"><text x="0" y="0" fill="#000" xml:space="preserve"><tspan font-size="107.0" font-weight="bold" font-style="italic">i</tspan></text></g>
<g transform="translate(1001.00,2787.00) rotate(0.00) scale(1.0179,1.0000) translate(-4.81,0)"><text x="0" y="0" fill="#000" xml:space="preserve"><tspan font-size="107.0">(pW)</tspan></text></g>
<g transform="translate(133.60,2427.00) rotate(-90.00) scale(1.1316,1.0000) translate(1.12,0)"><text x="0" y="0" fill="#000" xml:space="preserve"><tspan font-size="112.0" font-weight="bold" font-style="italic">I</tspan></text></g>
<g transform="translate(183.80,2395.00) rotate(-90.00) scale(1.0451,0.9500) translate(7.84,0)"><text x="0" y="0" fill="#000" xml:space="preserve"><tspan font-size="112.0" font-weight="bold" font-style="italic">photo</tspan></text></g>
<g transform="translate(133.70,2088.00) rotate(-90.00) scale(1.0150,1.0000) translate(-5.04,0)"><text x="0" y="0" fill="#000" xml:space="preserve"><tspan font-size="112.0">(mA/mm)</tspan></text></g>
</svg>
</body></html>
